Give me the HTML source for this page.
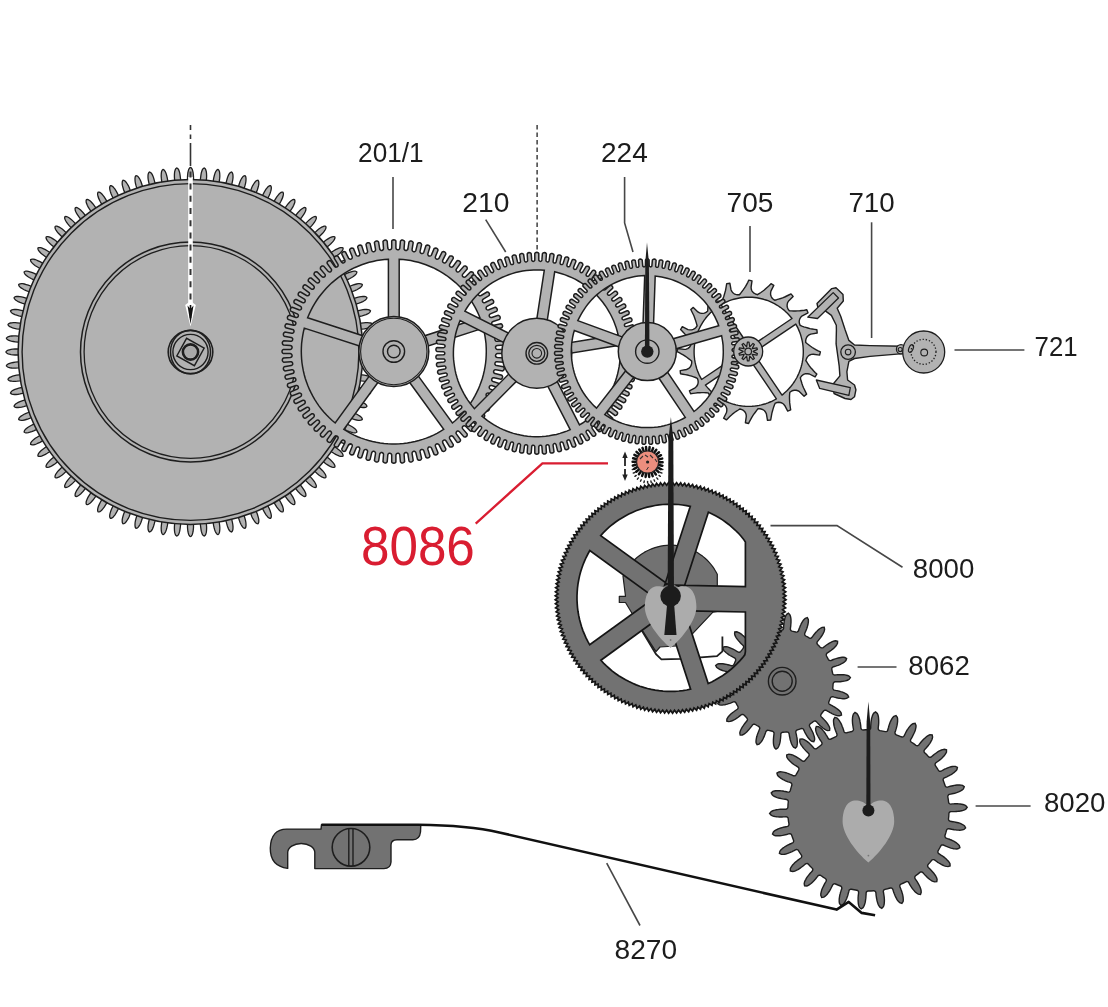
<!DOCTYPE html>
<html><head><meta charset="utf-8"><style>
html,body{margin:0;padding:0;background:#fff;width:1108px;height:1007px;overflow:hidden}
svg{display:block}
text{font-family:"Liberation Sans",sans-serif}
svg{will-change:transform}
</style></head><body>
<svg width="1108" height="1007" viewBox="0 0 1108 1007">
<path d="M193.2 184.2 L193.4 181.5 L193.5 178.9 L193.5 176.5 L193.3 174.4 L193.1 172.5 L192.7 170.9 L192.3 169.6 L191.8 168.5 L191.2 167.8 L190.5 167.4 L189.8 167.8 L189.2 168.5 L188.7 169.6 L188.3 170.9 L187.9 172.5 L187.7 174.4 L187.5 176.5 L187.5 178.9 L187.6 181.5 L187.8 184.2Z M180.7 184.5 L180.7 181.7 L180.6 179.2 L180.3 176.8 L180 174.7 L179.7 172.8 L179.2 171.2 L178.7 169.9 L178.1 168.9 L177.4 168.2 L176.7 167.9 L176.1 168.4 L175.5 169.1 L175.1 170.2 L174.7 171.6 L174.5 173.2 L174.4 175.1 L174.4 177.3 L174.6 179.6 L174.9 182.2 L175.3 184.9Z M168.2 185.7 L168 182.9 L167.7 180.4 L167.3 178.1 L166.8 176 L166.3 174.1 L165.7 172.6 L165.1 171.3 L164.4 170.4 L163.7 169.7 L163 169.5 L162.4 169.9 L161.9 170.8 L161.5 171.9 L161.3 173.3 L161.2 174.9 L161.2 176.8 L161.4 178.9 L161.7 181.3 L162.2 183.8 L162.8 186.5Z M155.8 187.8 L155.4 185.1 L154.9 182.6 L154.3 180.3 L153.7 178.2 L153.1 176.4 L152.4 174.9 L151.7 173.7 L150.9 172.8 L150.2 172.3 L149.4 172 L148.8 172.6 L148.4 173.4 L148.1 174.5 L148 175.9 L148 177.6 L148.2 179.5 L148.6 181.6 L149.1 183.9 L149.7 186.4 L150.5 189Z M143.6 190.9 L143 188.2 L142.3 185.7 L141.6 183.5 L140.9 181.5 L140.1 179.7 L139.3 178.3 L138.5 177.1 L137.6 176.3 L136.9 175.8 L136.1 175.6 L135.5 176.2 L135.2 177 L135 178.2 L135 179.6 L135.1 181.3 L135.4 183.1 L135.9 185.2 L136.6 187.5 L137.5 189.9 L138.5 192.5Z M131.7 194.8 L130.9 192.2 L130 189.8 L129.2 187.6 L128.3 185.6 L127.3 184 L126.4 182.6 L125.5 181.5 L124.7 180.7 L123.8 180.3 L123.1 180.2 L122.6 180.8 L122.3 181.7 L122.2 182.8 L122.2 184.2 L122.5 185.9 L123 187.7 L123.6 189.8 L124.5 192 L125.5 194.3 L126.7 196.8Z M120.1 199.7 L119.1 197.1 L118.1 194.7 L117 192.6 L116 190.8 L115 189.2 L113.9 187.9 L113 186.8 L112 186.1 L111.2 185.7 L110.4 185.7 L110 186.3 L109.7 187.2 L109.7 188.4 L109.9 189.8 L110.3 191.4 L110.9 193.2 L111.7 195.2 L112.7 197.3 L113.9 199.6 L115.3 202Z M108.9 205.3 L107.8 202.9 L106.5 200.6 L105.3 198.6 L104.2 196.8 L103 195.3 L101.9 194 L100.8 193.1 L99.9 192.4 L99 192.1 L98.2 192.1 L97.8 192.8 L97.6 193.7 L97.7 194.9 L98 196.3 L98.5 197.9 L99.3 199.6 L100.2 201.5 L101.4 203.6 L102.7 205.8 L104.3 208Z M98.2 211.9 L96.8 209.5 L95.5 207.3 L94.1 205.4 L92.8 203.7 L91.5 202.2 L90.3 201.1 L89.2 200.2 L88.2 199.7 L87.3 199.4 L86.5 199.5 L86.2 200.2 L86.1 201.1 L86.2 202.3 L86.6 203.6 L87.3 205.2 L88.1 206.9 L89.2 208.7 L90.5 210.7 L92 212.7 L93.8 214.9Z M88 219.1 L86.4 216.9 L84.9 214.8 L83.4 213 L82 211.4 L80.6 210.1 L79.3 209 L78.2 208.2 L77.1 207.7 L76.2 207.5 L75.4 207.7 L75.1 208.4 L75.1 209.3 L75.3 210.5 L75.8 211.8 L76.6 213.3 L77.6 214.9 L78.8 216.7 L80.2 218.5 L81.9 220.5 L83.8 222.5Z M78.4 227.2 L76.6 225 L75 223.1 L73.3 221.4 L71.8 219.9 L70.3 218.7 L69 217.7 L67.7 217 L66.6 216.6 L65.7 216.5 L64.9 216.7 L64.7 217.4 L64.7 218.4 L65.1 219.5 L65.7 220.8 L66.5 222.2 L67.6 223.7 L69 225.4 L70.6 227.1 L72.4 229 L74.4 230.8Z M69.3 235.9 L67.5 233.9 L65.6 232.1 L63.9 230.5 L62.2 229.1 L60.7 228 L59.3 227.2 L58 226.6 L56.9 226.2 L55.9 226.2 L55.2 226.4 L55 227.2 L55.1 228.1 L55.5 229.2 L56.2 230.5 L57.2 231.8 L58.4 233.3 L59.9 234.8 L61.6 236.5 L63.5 238.1 L65.7 239.9Z M61 245.3 L59 243.4 L57 241.7 L55.2 240.3 L53.4 239.1 L51.8 238.1 L50.3 237.3 L49 236.8 L47.8 236.6 L46.9 236.6 L46.2 236.9 L46 237.7 L46.2 238.6 L46.7 239.7 L47.5 240.8 L48.6 242.1 L49.9 243.5 L51.5 244.9 L53.3 246.4 L55.4 247.9 L57.6 249.5Z M53.4 255.3 L51.2 253.5 L49.2 252 L47.2 250.7 L45.4 249.6 L43.7 248.8 L42.1 248.1 L40.8 247.7 L39.6 247.6 L38.7 247.7 L38 248 L37.9 248.8 L38.2 249.7 L38.7 250.7 L39.6 251.8 L40.7 253 L42.2 254.3 L43.9 255.6 L45.8 257 L48 258.3 L50.4 259.7Z M46.5 265.8 L44.3 264.2 L42.1 262.9 L40 261.7 L38.1 260.8 L36.4 260 L34.8 259.5 L33.4 259.2 L32.2 259.1 L31.3 259.3 L30.6 259.7 L30.6 260.5 L30.9 261.4 L31.6 262.3 L32.5 263.4 L33.8 264.5 L35.3 265.7 L37.1 266.8 L39.1 268 L41.4 269.3 L43.8 270.4Z M40.5 276.8 L38.1 275.4 L35.8 274.2 L33.7 273.2 L31.7 272.4 L29.9 271.8 L28.3 271.4 L26.9 271.2 L25.7 271.2 L24.8 271.5 L24.2 271.9 L24.2 272.7 L24.6 273.5 L25.3 274.5 L26.4 275.4 L27.7 276.5 L29.3 277.5 L31.1 278.5 L33.2 279.6 L35.6 280.6 L38.2 281.6Z M35.3 288.2 L32.8 287 L30.5 286 L28.3 285.1 L26.2 284.5 L24.4 284 L22.7 283.7 L21.3 283.7 L20.2 283.8 L19.3 284.1 L18.7 284.6 L18.8 285.3 L19.2 286.2 L20 287 L21.1 287.9 L22.5 288.8 L24.1 289.8 L26.1 290.7 L28.3 291.5 L30.7 292.4 L33.3 293.2Z M31 300 L28.4 299 L26 298.1 L23.7 297.4 L21.6 296.9 L19.8 296.6 L18.1 296.5 L16.7 296.5 L15.5 296.7 L14.7 297 L14.1 297.6 L14.3 298.4 L14.8 299.1 L15.6 300 L16.8 300.8 L18.2 301.6 L20 302.4 L22 303.1 L24.2 303.8 L26.7 304.5 L29.4 305.1Z M27.5 312 L24.9 311.2 L22.4 310.6 L20.1 310.1 L18 309.7 L16.1 309.5 L14.4 309.5 L13 309.6 L11.9 309.9 L11.1 310.3 L10.5 310.9 L10.8 311.7 L11.3 312.4 L12.2 313.2 L13.4 313.9 L14.9 314.6 L16.7 315.2 L18.8 315.8 L21.1 316.4 L23.6 316.9 L26.3 317.3Z M25 324.3 L22.3 323.7 L19.8 323.2 L17.4 322.9 L15.3 322.7 L13.4 322.7 L11.8 322.8 L10.4 323 L9.3 323.4 L8.4 323.9 L8 324.5 L8.2 325.2 L8.9 325.9 L9.8 326.6 L11.1 327.2 L12.6 327.8 L14.5 328.3 L16.6 328.8 L18.9 329.2 L21.4 329.5 L24.2 329.7Z M23.4 336.8 L20.7 336.4 L18.1 336.1 L15.8 335.9 L13.6 335.9 L11.7 336 L10.1 336.2 L8.7 336.6 L7.6 337 L6.9 337.6 L6.4 338.2 L6.7 338.9 L7.4 339.6 L8.4 340.2 L9.7 340.7 L11.3 341.2 L13.2 341.5 L15.3 341.8 L17.7 342.1 L20.2 342.2 L23 342.2Z M22.7 349.3 L20 349.1 L17.4 349 L15 349 L12.9 349.2 L11 349.4 L9.4 349.8 L8.1 350.2 L7 350.7 L6.3 351.3 L5.9 352 L6.3 352.7 L7 353.3 L8.1 353.8 L9.4 354.2 L11 354.6 L12.9 354.8 L15 355 L17.4 355 L20 354.9 L22.7 354.7Z M23 361.8 L20.2 361.8 L17.7 361.9 L15.3 362.2 L13.2 362.5 L11.3 362.8 L9.7 363.3 L8.4 363.8 L7.4 364.4 L6.7 365.1 L6.4 365.8 L6.9 366.4 L7.6 367 L8.7 367.4 L10.1 367.8 L11.7 368 L13.6 368.1 L15.8 368.1 L18.1 367.9 L20.7 367.6 L23.4 367.2Z M24.2 374.3 L21.4 374.5 L18.9 374.8 L16.6 375.2 L14.5 375.7 L12.6 376.2 L11.1 376.8 L9.8 377.4 L8.9 378.1 L8.2 378.8 L8 379.5 L8.4 380.1 L9.3 380.6 L10.4 381 L11.8 381.2 L13.4 381.3 L15.3 381.3 L17.4 381.1 L19.8 380.8 L22.3 380.3 L25 379.7Z M26.3 386.7 L23.6 387.1 L21.1 387.6 L18.8 388.2 L16.7 388.8 L14.9 389.4 L13.4 390.1 L12.2 390.8 L11.3 391.6 L10.8 392.3 L10.5 393.1 L11.1 393.7 L11.9 394.1 L13 394.4 L14.4 394.5 L16.1 394.5 L18 394.3 L20.1 393.9 L22.4 393.4 L24.9 392.8 L27.5 392Z M29.4 398.9 L26.7 399.5 L24.2 400.2 L22 400.9 L20 401.6 L18.2 402.4 L16.8 403.2 L15.6 404 L14.8 404.9 L14.3 405.6 L14.1 406.4 L14.7 407 L15.5 407.3 L16.7 407.5 L18.1 407.5 L19.8 407.4 L21.6 407.1 L23.7 406.6 L26 405.9 L28.4 405 L31 404Z M33.3 410.8 L30.7 411.6 L28.3 412.5 L26.1 413.3 L24.1 414.2 L22.5 415.2 L21.1 416.1 L20 417 L19.2 417.8 L18.8 418.7 L18.7 419.4 L19.3 419.9 L20.2 420.2 L21.3 420.3 L22.7 420.3 L24.4 420 L26.2 419.5 L28.3 418.9 L30.5 418 L32.8 417 L35.3 415.8Z M38.2 422.4 L35.6 423.4 L33.2 424.4 L31.1 425.5 L29.3 426.5 L27.7 427.5 L26.4 428.6 L25.3 429.5 L24.6 430.5 L24.2 431.3 L24.2 432.1 L24.8 432.5 L25.7 432.8 L26.9 432.8 L28.3 432.6 L29.9 432.2 L31.7 431.6 L33.7 430.8 L35.8 429.8 L38.1 428.6 L40.5 427.2Z M43.8 433.6 L41.4 434.7 L39.1 436 L37.1 437.2 L35.3 438.3 L33.8 439.5 L32.5 440.6 L31.6 441.7 L30.9 442.6 L30.6 443.5 L30.6 444.3 L31.3 444.7 L32.2 444.9 L33.4 444.8 L34.8 444.5 L36.4 444 L38.1 443.2 L40 442.3 L42.1 441.1 L44.3 439.8 L46.5 438.2Z M50.4 444.3 L48 445.7 L45.8 447 L43.9 448.4 L42.2 449.7 L40.7 451 L39.6 452.2 L38.7 453.3 L38.2 454.3 L37.9 455.2 L38 456 L38.7 456.3 L39.6 456.4 L40.8 456.3 L42.1 455.9 L43.7 455.2 L45.4 454.4 L47.2 453.3 L49.2 452 L51.2 450.5 L53.4 448.7Z M57.6 454.5 L55.4 456.1 L53.3 457.6 L51.5 459.1 L49.9 460.5 L48.6 461.9 L47.5 463.2 L46.7 464.3 L46.2 465.4 L46 466.3 L46.2 467.1 L46.9 467.4 L47.8 467.4 L49 467.2 L50.3 466.7 L51.8 465.9 L53.4 464.9 L55.2 463.7 L57 462.3 L59 460.6 L61 458.7Z M65.7 464.1 L63.5 465.9 L61.6 467.5 L59.9 469.2 L58.4 470.7 L57.2 472.2 L56.2 473.5 L55.5 474.8 L55.1 475.9 L55 476.8 L55.2 477.6 L55.9 477.8 L56.9 477.8 L58 477.4 L59.3 476.8 L60.7 476 L62.2 474.9 L63.9 473.5 L65.6 471.9 L67.5 470.1 L69.3 468.1Z M74.4 473.2 L72.4 475 L70.6 476.9 L69 478.6 L67.6 480.3 L66.5 481.8 L65.7 483.2 L65.1 484.5 L64.7 485.6 L64.7 486.6 L64.9 487.3 L65.7 487.5 L66.6 487.4 L67.7 487 L69 486.3 L70.3 485.3 L71.8 484.1 L73.3 482.6 L75 480.9 L76.6 479 L78.4 476.8Z M83.8 481.5 L81.9 483.5 L80.2 485.5 L78.8 487.3 L77.6 489.1 L76.6 490.7 L75.8 492.2 L75.3 493.5 L75.1 494.7 L75.1 495.6 L75.4 496.3 L76.2 496.5 L77.1 496.3 L78.2 495.8 L79.3 495 L80.6 493.9 L82 492.6 L83.4 491 L84.9 489.2 L86.4 487.1 L88 484.9Z M93.8 489.1 L92 491.3 L90.5 493.3 L89.2 495.3 L88.1 497.1 L87.3 498.8 L86.6 500.4 L86.2 501.7 L86.1 502.9 L86.2 503.8 L86.5 504.5 L87.3 504.6 L88.2 504.3 L89.2 503.8 L90.3 502.9 L91.5 501.8 L92.8 500.3 L94.1 498.6 L95.5 496.7 L96.8 494.5 L98.2 492.1Z M104.3 496 L102.7 498.2 L101.4 500.4 L100.2 502.5 L99.3 504.4 L98.5 506.1 L98 507.7 L97.7 509.1 L97.6 510.3 L97.8 511.2 L98.2 511.9 L99 511.9 L99.9 511.6 L100.8 510.9 L101.9 510 L103 508.7 L104.2 507.2 L105.3 505.4 L106.5 503.4 L107.8 501.1 L108.9 498.7Z M115.3 502 L113.9 504.4 L112.7 506.7 L111.7 508.8 L110.9 510.8 L110.3 512.6 L109.9 514.2 L109.7 515.6 L109.7 516.8 L110 517.7 L110.4 518.3 L111.2 518.3 L112 517.9 L113 517.2 L113.9 516.1 L115 514.8 L116 513.2 L117 511.4 L118.1 509.3 L119.1 506.9 L120.1 504.3Z M126.7 507.2 L125.5 509.7 L124.5 512 L123.6 514.2 L123 516.3 L122.5 518.1 L122.2 519.8 L122.2 521.2 L122.3 522.3 L122.6 523.2 L123.1 523.8 L123.8 523.7 L124.7 523.3 L125.5 522.5 L126.4 521.4 L127.3 520 L128.3 518.4 L129.2 516.4 L130 514.2 L130.9 511.8 L131.7 509.2Z M138.5 511.5 L137.5 514.1 L136.6 516.5 L135.9 518.8 L135.4 520.9 L135.1 522.7 L135 524.4 L135 525.8 L135.2 527 L135.5 527.8 L136.1 528.4 L136.9 528.2 L137.6 527.7 L138.5 526.9 L139.3 525.7 L140.1 524.3 L140.9 522.5 L141.6 520.5 L142.3 518.3 L143 515.8 L143.6 513.1Z M150.5 515 L149.7 517.6 L149.1 520.1 L148.6 522.4 L148.2 524.5 L148 526.4 L148 528.1 L148.1 529.5 L148.4 530.6 L148.8 531.4 L149.4 532 L150.2 531.7 L150.9 531.2 L151.7 530.3 L152.4 529.1 L153.1 527.6 L153.7 525.8 L154.3 523.7 L154.9 521.4 L155.4 518.9 L155.8 516.2Z M162.8 517.5 L162.2 520.2 L161.7 522.7 L161.4 525.1 L161.2 527.2 L161.2 529.1 L161.3 530.7 L161.5 532.1 L161.9 533.2 L162.4 534.1 L163 534.5 L163.7 534.3 L164.4 533.6 L165.1 532.7 L165.7 531.4 L166.3 529.9 L166.8 528 L167.3 525.9 L167.7 523.6 L168 521.1 L168.2 518.3Z M175.3 519.1 L174.9 521.8 L174.6 524.4 L174.4 526.7 L174.4 528.9 L174.5 530.8 L174.7 532.4 L175.1 533.8 L175.5 534.9 L176.1 535.6 L176.7 536.1 L177.4 535.8 L178.1 535.1 L178.7 534.1 L179.2 532.8 L179.7 531.2 L180 529.3 L180.3 527.2 L180.6 524.8 L180.7 522.3 L180.7 519.5Z M187.8 519.8 L187.6 522.5 L187.5 525.1 L187.5 527.5 L187.7 529.6 L187.9 531.5 L188.3 533.1 L188.7 534.4 L189.2 535.5 L189.8 536.2 L190.5 536.6 L191.2 536.2 L191.8 535.5 L192.3 534.4 L192.7 533.1 L193.1 531.5 L193.3 529.6 L193.5 527.5 L193.5 525.1 L193.4 522.5 L193.2 519.8Z M200.3 519.5 L200.3 522.3 L200.4 524.8 L200.7 527.2 L201 529.3 L201.3 531.2 L201.8 532.8 L202.3 534.1 L202.9 535.1 L203.6 535.8 L204.3 536.1 L204.9 535.6 L205.5 534.9 L205.9 533.8 L206.3 532.4 L206.5 530.8 L206.6 528.9 L206.6 526.7 L206.4 524.4 L206.1 521.8 L205.7 519.1Z M212.8 518.3 L213 521.1 L213.3 523.6 L213.7 525.9 L214.2 528 L214.7 529.9 L215.3 531.4 L215.9 532.7 L216.6 533.6 L217.3 534.3 L218 534.5 L218.6 534.1 L219.1 533.2 L219.5 532.1 L219.7 530.7 L219.8 529.1 L219.8 527.2 L219.6 525.1 L219.3 522.7 L218.8 520.2 L218.2 517.5Z M225.2 516.2 L225.6 518.9 L226.1 521.4 L226.7 523.7 L227.3 525.8 L227.9 527.6 L228.6 529.1 L229.3 530.3 L230.1 531.2 L230.8 531.7 L231.6 532 L232.2 531.4 L232.6 530.6 L232.9 529.5 L233 528.1 L233 526.4 L232.8 524.5 L232.4 522.4 L231.9 520.1 L231.3 517.6 L230.5 515Z M237.4 513.1 L238 515.8 L238.7 518.3 L239.4 520.5 L240.1 522.5 L240.9 524.3 L241.7 525.7 L242.5 526.9 L243.4 527.7 L244.1 528.2 L244.9 528.4 L245.5 527.8 L245.8 527 L246 525.8 L246 524.4 L245.9 522.7 L245.6 520.9 L245.1 518.8 L244.4 516.5 L243.5 514.1 L242.5 511.5Z M249.3 509.2 L250.1 511.8 L251 514.2 L251.8 516.4 L252.7 518.4 L253.7 520 L254.6 521.4 L255.5 522.5 L256.3 523.3 L257.2 523.7 L257.9 523.8 L258.4 523.2 L258.7 522.3 L258.8 521.2 L258.8 519.8 L258.5 518.1 L258 516.3 L257.4 514.2 L256.5 512 L255.5 509.7 L254.3 507.2Z M260.9 504.3 L261.9 506.9 L262.9 509.3 L264 511.4 L265 513.2 L266 514.8 L267.1 516.1 L268 517.2 L269 517.9 L269.8 518.3 L270.6 518.3 L271 517.7 L271.3 516.8 L271.3 515.6 L271.1 514.2 L270.7 512.6 L270.1 510.8 L269.3 508.8 L268.3 506.7 L267.1 504.4 L265.7 502Z M272.1 498.7 L273.2 501.1 L274.5 503.4 L275.7 505.4 L276.8 507.2 L278 508.7 L279.1 510 L280.2 510.9 L281.1 511.6 L282 511.9 L282.8 511.9 L283.2 511.2 L283.4 510.3 L283.3 509.1 L283 507.7 L282.5 506.1 L281.7 504.4 L280.8 502.5 L279.6 500.4 L278.3 498.2 L276.7 496Z M282.8 492.1 L284.2 494.5 L285.5 496.7 L286.9 498.6 L288.2 500.3 L289.5 501.8 L290.7 502.9 L291.8 503.8 L292.8 504.3 L293.7 504.6 L294.5 504.5 L294.8 503.8 L294.9 502.9 L294.8 501.7 L294.4 500.4 L293.7 498.8 L292.9 497.1 L291.8 495.3 L290.5 493.3 L289 491.3 L287.2 489.1Z M293 484.9 L294.6 487.1 L296.1 489.2 L297.6 491 L299 492.6 L300.4 493.9 L301.7 495 L302.8 495.8 L303.9 496.3 L304.8 496.5 L305.6 496.3 L305.9 495.6 L305.9 494.7 L305.7 493.5 L305.2 492.2 L304.4 490.7 L303.4 489.1 L302.2 487.3 L300.8 485.5 L299.1 483.5 L297.2 481.5Z M302.6 476.8 L304.4 479 L306 480.9 L307.7 482.6 L309.2 484.1 L310.7 485.3 L312 486.3 L313.3 487 L314.4 487.4 L315.3 487.5 L316.1 487.3 L316.3 486.6 L316.3 485.6 L315.9 484.5 L315.3 483.2 L314.5 481.8 L313.4 480.3 L312 478.6 L310.4 476.9 L308.6 475 L306.6 473.2Z M311.7 468.1 L313.5 470.1 L315.4 471.9 L317.1 473.5 L318.8 474.9 L320.3 476 L321.7 476.8 L323 477.4 L324.1 477.8 L325.1 477.8 L325.8 477.6 L326 476.8 L325.9 475.9 L325.5 474.8 L324.8 473.5 L323.8 472.2 L322.6 470.7 L321.1 469.2 L319.4 467.5 L317.5 465.9 L315.3 464.1Z M320 458.7 L322 460.6 L324 462.3 L325.8 463.7 L327.6 464.9 L329.2 465.9 L330.7 466.7 L332 467.2 L333.2 467.4 L334.1 467.4 L334.8 467.1 L335 466.3 L334.8 465.4 L334.3 464.3 L333.5 463.2 L332.4 461.9 L331.1 460.5 L329.5 459.1 L327.7 457.6 L325.6 456.1 L323.4 454.5Z M327.6 448.7 L329.8 450.5 L331.8 452 L333.8 453.3 L335.6 454.4 L337.3 455.2 L338.9 455.9 L340.2 456.3 L341.4 456.4 L342.3 456.3 L343 456 L343.1 455.2 L342.8 454.3 L342.3 453.3 L341.4 452.2 L340.3 451 L338.8 449.7 L337.1 448.4 L335.2 447 L333 445.7 L330.6 444.3Z M334.5 438.2 L336.7 439.8 L338.9 441.1 L341 442.3 L342.9 443.2 L344.6 444 L346.2 444.5 L347.6 444.8 L348.8 444.9 L349.7 444.7 L350.4 444.3 L350.4 443.5 L350.1 442.6 L349.4 441.7 L348.5 440.6 L347.2 439.5 L345.7 438.3 L343.9 437.2 L341.9 436 L339.6 434.7 L337.2 433.6Z M340.5 427.2 L342.9 428.6 L345.2 429.8 L347.3 430.8 L349.3 431.6 L351.1 432.2 L352.7 432.6 L354.1 432.8 L355.3 432.8 L356.2 432.5 L356.8 432.1 L356.8 431.3 L356.4 430.5 L355.7 429.5 L354.6 428.6 L353.3 427.5 L351.7 426.5 L349.9 425.5 L347.8 424.4 L345.4 423.4 L342.8 422.4Z M345.7 415.8 L348.2 417 L350.5 418 L352.7 418.9 L354.8 419.5 L356.6 420 L358.3 420.3 L359.7 420.3 L360.8 420.2 L361.7 419.9 L362.3 419.4 L362.2 418.7 L361.8 417.8 L361 417 L359.9 416.1 L358.5 415.2 L356.9 414.2 L354.9 413.3 L352.7 412.5 L350.3 411.6 L347.7 410.8Z M350 404 L352.6 405 L355 405.9 L357.3 406.6 L359.4 407.1 L361.2 407.4 L362.9 407.5 L364.3 407.5 L365.5 407.3 L366.3 407 L366.9 406.4 L366.7 405.6 L366.2 404.9 L365.4 404 L364.2 403.2 L362.8 402.4 L361 401.6 L359 400.9 L356.8 400.2 L354.3 399.5 L351.6 398.9Z M353.5 392 L356.1 392.8 L358.6 393.4 L360.9 393.9 L363 394.3 L364.9 394.5 L366.6 394.5 L368 394.4 L369.1 394.1 L369.9 393.7 L370.5 393.1 L370.2 392.3 L369.7 391.6 L368.8 390.8 L367.6 390.1 L366.1 389.4 L364.3 388.8 L362.2 388.2 L359.9 387.6 L357.4 387.1 L354.7 386.7Z M356 379.7 L358.7 380.3 L361.2 380.8 L363.6 381.1 L365.7 381.3 L367.6 381.3 L369.2 381.2 L370.6 381 L371.7 380.6 L372.6 380.1 L373 379.5 L372.8 378.8 L372.1 378.1 L371.2 377.4 L369.9 376.8 L368.4 376.2 L366.5 375.7 L364.4 375.2 L362.1 374.8 L359.6 374.5 L356.8 374.3Z M357.6 367.2 L360.3 367.6 L362.9 367.9 L365.2 368.1 L367.4 368.1 L369.3 368 L370.9 367.8 L372.3 367.4 L373.4 367 L374.1 366.4 L374.6 365.8 L374.3 365.1 L373.6 364.4 L372.6 363.8 L371.3 363.3 L369.7 362.8 L367.8 362.5 L365.7 362.2 L363.3 361.9 L360.8 361.8 L358 361.8Z M358.3 354.7 L361 354.9 L363.6 355 L366 355 L368.1 354.8 L370 354.6 L371.6 354.2 L372.9 353.8 L374 353.3 L374.7 352.7 L375.1 352 L374.7 351.3 L374 350.7 L372.9 350.2 L371.6 349.8 L370 349.4 L368.1 349.2 L366 349 L363.6 349 L361 349.1 L358.3 349.3Z M358 342.2 L360.8 342.2 L363.3 342.1 L365.7 341.8 L367.8 341.5 L369.7 341.2 L371.3 340.7 L372.6 340.2 L373.6 339.6 L374.3 338.9 L374.6 338.2 L374.1 337.6 L373.4 337 L372.3 336.6 L370.9 336.2 L369.3 336 L367.4 335.9 L365.2 335.9 L362.9 336.1 L360.3 336.4 L357.6 336.8Z M356.8 329.7 L359.6 329.5 L362.1 329.2 L364.4 328.8 L366.5 328.3 L368.4 327.8 L369.9 327.2 L371.2 326.6 L372.1 325.9 L372.8 325.2 L373 324.5 L372.6 323.9 L371.7 323.4 L370.6 323 L369.2 322.8 L367.6 322.7 L365.7 322.7 L363.6 322.9 L361.2 323.2 L358.7 323.7 L356 324.3Z M354.7 317.3 L357.4 316.9 L359.9 316.4 L362.2 315.8 L364.3 315.2 L366.1 314.6 L367.6 313.9 L368.8 313.2 L369.7 312.4 L370.2 311.7 L370.5 310.9 L369.9 310.3 L369.1 309.9 L368 309.6 L366.6 309.5 L364.9 309.5 L363 309.7 L360.9 310.1 L358.6 310.6 L356.1 311.2 L353.5 312Z M351.6 305.1 L354.3 304.5 L356.8 303.8 L359 303.1 L361 302.4 L362.8 301.6 L364.2 300.8 L365.4 300 L366.2 299.1 L366.7 298.4 L366.9 297.6 L366.3 297 L365.5 296.7 L364.3 296.5 L362.9 296.5 L361.2 296.6 L359.4 296.9 L357.3 297.4 L355 298.1 L352.6 299 L350 300Z M347.7 293.2 L350.3 292.4 L352.7 291.5 L354.9 290.7 L356.9 289.8 L358.5 288.8 L359.9 287.9 L361 287 L361.8 286.2 L362.2 285.3 L362.3 284.6 L361.7 284.1 L360.8 283.8 L359.7 283.7 L358.3 283.7 L356.6 284 L354.8 284.5 L352.7 285.1 L350.5 286 L348.2 287 L345.7 288.2Z M342.8 281.6 L345.4 280.6 L347.8 279.6 L349.9 278.5 L351.7 277.5 L353.3 276.5 L354.6 275.4 L355.7 274.5 L356.4 273.5 L356.8 272.7 L356.8 271.9 L356.2 271.5 L355.3 271.2 L354.1 271.2 L352.7 271.4 L351.1 271.8 L349.3 272.4 L347.3 273.2 L345.2 274.2 L342.9 275.4 L340.5 276.8Z M337.2 270.4 L339.6 269.3 L341.9 268 L343.9 266.8 L345.7 265.7 L347.2 264.5 L348.5 263.4 L349.4 262.3 L350.1 261.4 L350.4 260.5 L350.4 259.7 L349.7 259.3 L348.8 259.1 L347.6 259.2 L346.2 259.5 L344.6 260 L342.9 260.8 L341 261.7 L338.9 262.9 L336.7 264.2 L334.5 265.8Z M330.6 259.7 L333 258.3 L335.2 257 L337.1 255.6 L338.8 254.3 L340.3 253 L341.4 251.8 L342.3 250.7 L342.8 249.7 L343.1 248.8 L343 248 L342.3 247.7 L341.4 247.6 L340.2 247.7 L338.9 248.1 L337.3 248.8 L335.6 249.6 L333.8 250.7 L331.8 252 L329.8 253.5 L327.6 255.3Z M323.4 249.5 L325.6 247.9 L327.7 246.4 L329.5 244.9 L331.1 243.5 L332.4 242.1 L333.5 240.8 L334.3 239.7 L334.8 238.6 L335 237.7 L334.8 236.9 L334.1 236.6 L333.2 236.6 L332 236.8 L330.7 237.3 L329.2 238.1 L327.6 239.1 L325.8 240.3 L324 241.7 L322 243.4 L320 245.3Z M315.3 239.9 L317.5 238.1 L319.4 236.5 L321.1 234.8 L322.6 233.3 L323.8 231.8 L324.8 230.5 L325.5 229.2 L325.9 228.1 L326 227.2 L325.8 226.4 L325.1 226.2 L324.1 226.2 L323 226.6 L321.7 227.2 L320.3 228 L318.8 229.1 L317.1 230.5 L315.4 232.1 L313.5 233.9 L311.7 235.9Z M306.6 230.8 L308.6 229 L310.4 227.1 L312 225.4 L313.4 223.7 L314.5 222.2 L315.3 220.8 L315.9 219.5 L316.3 218.4 L316.3 217.4 L316.1 216.7 L315.3 216.5 L314.4 216.6 L313.3 217 L312 217.7 L310.7 218.7 L309.2 219.9 L307.7 221.4 L306 223.1 L304.4 225 L302.6 227.2Z M297.2 222.5 L299.1 220.5 L300.8 218.5 L302.2 216.7 L303.4 214.9 L304.4 213.3 L305.2 211.8 L305.7 210.5 L305.9 209.3 L305.9 208.4 L305.6 207.7 L304.8 207.5 L303.9 207.7 L302.8 208.2 L301.7 209 L300.4 210.1 L299 211.4 L297.6 213 L296.1 214.8 L294.6 216.9 L293 219.1Z M287.2 214.9 L289 212.7 L290.5 210.7 L291.8 208.7 L292.9 206.9 L293.7 205.2 L294.4 203.6 L294.8 202.3 L294.9 201.1 L294.8 200.2 L294.5 199.5 L293.7 199.4 L292.8 199.7 L291.8 200.2 L290.7 201.1 L289.5 202.2 L288.2 203.7 L286.9 205.4 L285.5 207.3 L284.2 209.5 L282.8 211.9Z M276.7 208 L278.3 205.8 L279.6 203.6 L280.8 201.5 L281.7 199.6 L282.5 197.9 L283 196.3 L283.3 194.9 L283.4 193.7 L283.2 192.8 L282.8 192.1 L282 192.1 L281.1 192.4 L280.2 193.1 L279.1 194 L278 195.3 L276.8 196.8 L275.7 198.6 L274.5 200.6 L273.2 202.9 L272.1 205.3Z M265.7 202 L267.1 199.6 L268.3 197.3 L269.3 195.2 L270.1 193.2 L270.7 191.4 L271.1 189.8 L271.3 188.4 L271.3 187.2 L271 186.3 L270.6 185.7 L269.8 185.7 L269 186.1 L268 186.8 L267.1 187.9 L266 189.2 L265 190.8 L264 192.6 L262.9 194.7 L261.9 197.1 L260.9 199.7Z M254.3 196.8 L255.5 194.3 L256.5 192 L257.4 189.8 L258 187.7 L258.5 185.9 L258.8 184.2 L258.8 182.8 L258.7 181.7 L258.4 180.8 L257.9 180.2 L257.2 180.3 L256.3 180.7 L255.5 181.5 L254.6 182.6 L253.7 184 L252.7 185.6 L251.8 187.6 L251 189.8 L250.1 192.2 L249.3 194.8Z M242.5 192.5 L243.5 189.9 L244.4 187.5 L245.1 185.2 L245.6 183.1 L245.9 181.3 L246 179.6 L246 178.2 L245.8 177 L245.5 176.2 L244.9 175.6 L244.1 175.8 L243.4 176.3 L242.5 177.1 L241.7 178.3 L240.9 179.7 L240.1 181.5 L239.4 183.5 L238.7 185.7 L238 188.2 L237.4 190.9Z M230.5 189 L231.3 186.4 L231.9 183.9 L232.4 181.6 L232.8 179.5 L233 177.6 L233 175.9 L232.9 174.5 L232.6 173.4 L232.2 172.6 L231.6 172 L230.8 172.3 L230.1 172.8 L229.3 173.7 L228.6 174.9 L227.9 176.4 L227.3 178.2 L226.7 180.3 L226.1 182.6 L225.6 185.1 L225.2 187.8Z M218.2 186.5 L218.8 183.8 L219.3 181.3 L219.6 178.9 L219.8 176.8 L219.8 174.9 L219.7 173.3 L219.5 171.9 L219.1 170.8 L218.6 169.9 L218 169.5 L217.3 169.7 L216.6 170.4 L215.9 171.3 L215.3 172.6 L214.7 174.1 L214.2 176 L213.7 178.1 L213.3 180.4 L213 182.9 L212.8 185.7Z M205.7 184.9 L206.1 182.2 L206.4 179.6 L206.6 177.3 L206.6 175.1 L206.5 173.2 L206.3 171.6 L205.9 170.2 L205.5 169.1 L204.9 168.4 L204.3 167.9 L203.6 168.2 L202.9 168.9 L202.3 169.9 L201.8 171.2 L201.3 172.8 L201 174.7 L200.7 176.8 L200.4 179.2 L200.3 181.7 L200.3 184.5Z" fill="#b2b2b2" stroke="#1e1e1e" stroke-width="1.3"/>
<circle cx="190.5" cy="352" r="172.4" fill="#b2b2b2" stroke="#1e1e1e" stroke-width="1.5" />
<circle cx="190.5" cy="352" r="168.4" fill="none" stroke="#1e1e1e" stroke-width="1.4" />
<circle cx="190.5" cy="352" r="110" fill="none" stroke="#1e1e1e" stroke-width="1.5" />
<circle cx="190.5" cy="352" r="106.4" fill="none" stroke="#1e1e1e" stroke-width="1.3" />
<ellipse cx="190.5" cy="352" rx="22.3" ry="21.6" fill="none" stroke="#1e1e1e" stroke-width="1.6"/>
<ellipse cx="190.5" cy="352" rx="20" ry="21.8" fill="none" stroke="#1e1e1e" stroke-width="1.5"/>
<circle cx="190.5" cy="352" r="17.6" fill="none" stroke="#1e1e1e" stroke-width="1.4" />
<path d="M204.2 348.1 L186.6 338.3 L176.8 355.9 L194.4 365.7Z" fill="none" stroke="#1e1e1e" stroke-width="1.4"/>
<circle cx="190.5" cy="352" r="7.6" fill="none" stroke="#1e1e1e" stroke-width="2.6" />
<circle cx="190.5" cy="352" r="5.6" fill="#a9a9a9" stroke="none" stroke-width="0" />
<line x1="190.5" y1="177" x2="190.5" y2="312" stroke="#fff" stroke-width="4.6"/>
<path d="M190.5 301 L185.2 305 L190.5 326.5 L195.8 305Z" fill="#fff"/>
<path d="M190.5 125 V130 M190.5 134.5 V139 M190.5 143 V166" stroke="#333" stroke-width="1.6"/>
<line x1="190.5" y1="171.4" x2="190.5" y2="300" stroke="#333" stroke-width="2" stroke-dasharray="6 6.2"/>
<path d="M190.5 324 L187.5 305.5 L190.5 309 L193.5 305.5Z" fill="#111"/>
<line x1="190.5" y1="305" x2="190.5" y2="318" stroke="#111" stroke-width="1.6"/>
<path d="M397.8 249.8 L397.1 249.6 L396.5 249.2 L396.1 248.6 L395.9 247.8 L395.9 241 L395.4 240.3 L394.7 239.9 L393.8 239.7 L392.9 239.9 L392.2 240.3 L391.7 241 L391.7 247.8 L391.5 248.6 L391.1 249.2 L390.5 249.6 L389.8 249.8 L389.1 249.7 L388.4 249.3 L388 248.7 L387.8 248 L387.2 241.2 L386.7 240.5 L385.9 240.1 L385 240 L384.2 240.3 L383.5 240.8 L383 241.5 L383.5 248.3 L383.5 249 L383.1 249.7 L382.5 250.2 L381.8 250.4 L381.1 250.4 L380.4 250 L379.9 249.5 L379.7 248.8 L378.6 242 L378 241.4 L377.2 241.1 L376.3 241.1 L375.5 241.4 L374.8 241.9 L374.4 242.7 L375.5 249.4 L375.5 250.2 L375.2 250.9 L374.6 251.4 L373.9 251.7 L373.2 251.7 L372.5 251.4 L372 250.9 L371.7 250.2 L370.1 243.6 L369.4 243 L368.6 242.7 L367.7 242.8 L366.9 243.2 L366.3 243.8 L366 244.6 L367.5 251.2 L367.6 251.9 L367.3 252.6 L366.8 253.2 L366.2 253.5 L365.4 253.6 L364.7 253.4 L364.1 252.9 L363.8 252.2 L361.7 245.8 L361 245.3 L360.1 245.1 L359.3 245.2 L358.5 245.6 L357.9 246.3 L357.7 247.1 L359.7 253.6 L359.8 254.3 L359.6 255 L359.2 255.6 L358.6 256 L357.8 256.1 L357.1 255.9 L356.5 255.5 L356.1 254.9 L353.5 248.6 L352.8 248.2 L351.9 248 L351 248.2 L350.3 248.7 L349.8 249.4 L349.6 250.2 L352.1 256.5 L352.3 257.3 L352.2 258 L351.8 258.6 L351.2 259.1 L350.5 259.2 L349.7 259.1 L349.1 258.7 L348.6 258.2 L345.5 252.1 L344.8 251.7 L343.9 251.6 L343 251.9 L342.3 252.4 L341.9 253.2 L341.8 254 L344.8 260.1 L345 260.8 L345 261.5 L344.6 262.2 L344.1 262.7 L343.4 262.9 L342.6 262.9 L341.9 262.5 L341.5 262 L337.9 256.2 L337.1 255.9 L336.2 255.9 L335.4 256.2 L334.7 256.8 L334.3 257.6 L334.3 258.4 L337.8 264.2 L338.1 264.9 L338.1 265.7 L337.8 266.3 L337.2 266.9 L336.6 267.1 L335.8 267.2 L335.1 266.9 L334.6 266.4 L330.6 260.9 L329.8 260.6 L328.9 260.7 L328.1 261.1 L327.5 261.7 L327.1 262.5 L327.2 263.4 L331.1 268.9 L331.5 269.5 L331.5 270.3 L331.3 271 L330.8 271.6 L330.1 271.9 L329.4 272 L328.7 271.7 L328.1 271.3 L323.6 266.1 L322.8 265.9 L322 266 L321.2 266.5 L320.6 267.2 L320.4 268 L320.4 268.9 L324.8 274.1 L325.2 274.7 L325.3 275.4 L325.1 276.1 L324.7 276.7 L324.1 277.1 L323.3 277.3 L322.6 277.1 L322 276.7 L317.2 271.9 L316.3 271.7 L315.5 271.9 L314.7 272.4 L314.2 273.2 L314 274 L314.2 274.9 L319 279.7 L319.4 280.3 L319.6 281 L319.4 281.8 L319 282.4 L318.4 282.8 L317.7 283 L317 282.9 L316.4 282.5 L311.2 278.1 L310.3 278.1 L309.5 278.3 L308.8 278.9 L308.3 279.7 L308.2 280.5 L308.4 281.3 L313.6 285.8 L314 286.4 L314.3 287.1 L314.2 287.8 L313.9 288.5 L313.3 289 L312.6 289.2 L311.8 289.2 L311.2 288.8 L305.7 284.9 L304.8 284.8 L304 285.2 L303.4 285.8 L303 286.6 L302.9 287.5 L303.2 288.3 L308.7 292.3 L309.2 292.8 L309.5 293.5 L309.4 294.3 L309.2 294.9 L308.6 295.5 L308 295.8 L307.2 295.8 L306.5 295.5 L300.7 292 L299.9 292 L299.1 292.4 L298.5 293.1 L298.2 293.9 L298.2 294.8 L298.5 295.6 L304.3 299.2 L304.8 299.6 L305.2 300.3 L305.2 301.1 L305 301.8 L304.5 302.3 L303.8 302.7 L303.1 302.7 L302.4 302.5 L296.3 299.5 L295.5 299.6 L294.7 300 L294.2 300.7 L293.9 301.6 L294 302.5 L294.4 303.2 L300.5 306.3 L301 306.8 L301.4 307.4 L301.5 308.2 L301.4 308.9 L300.9 309.5 L300.3 309.9 L299.6 310 L298.8 309.8 L292.5 307.3 L291.7 307.5 L291 308 L290.5 308.7 L290.3 309.6 L290.5 310.5 L290.9 311.2 L297.2 313.8 L297.8 314.2 L298.2 314.8 L298.4 315.5 L298.3 316.3 L297.9 316.9 L297.3 317.3 L296.6 317.5 L295.9 317.4 L289.4 315.4 L288.6 315.6 L287.9 316.2 L287.5 317 L287.4 317.8 L287.6 318.7 L288.1 319.4 L294.5 321.5 L295.2 321.8 L295.7 322.4 L295.9 323.1 L295.8 323.9 L295.5 324.5 L294.9 325 L294.2 325.3 L293.5 325.2 L286.9 323.7 L286.1 324 L285.5 324.6 L285.1 325.4 L285 326.3 L285.3 327.1 L285.9 327.8 L292.5 329.4 L293.2 329.7 L293.7 330.2 L294 330.9 L294 331.6 L293.7 332.3 L293.2 332.9 L292.5 333.2 L291.7 333.2 L285 332.1 L284.2 332.5 L283.7 333.2 L283.4 334 L283.4 334.9 L283.7 335.7 L284.3 336.3 L291.1 337.4 L291.8 337.6 L292.3 338.1 L292.7 338.8 L292.7 339.5 L292.5 340.2 L292 340.8 L291.3 341.2 L290.6 341.2 L283.8 340.7 L283.1 341.2 L282.6 341.9 L282.3 342.7 L282.4 343.6 L282.8 344.4 L283.5 344.9 L290.3 345.5 L291 345.7 L291.6 346.1 L292 346.8 L292.1 347.5 L291.9 348.2 L291.5 348.8 L290.9 349.2 L290.1 349.4 L283.3 349.4 L282.6 349.9 L282.2 350.6 L282 351.5 L282.2 352.4 L282.6 353.1 L283.3 353.6 L290.1 353.6 L290.9 353.8 L291.5 354.2 L291.9 354.8 L292.1 355.5 L292 356.2 L291.6 356.9 L291 357.3 L290.3 357.5 L283.5 358.1 L282.8 358.6 L282.4 359.4 L282.3 360.3 L282.6 361.1 L283.1 361.8 L283.8 362.3 L290.6 361.8 L291.3 361.8 L292 362.2 L292.5 362.8 L292.7 363.5 L292.7 364.2 L292.3 364.9 L291.8 365.4 L291.1 365.6 L284.3 366.7 L283.7 367.3 L283.4 368.1 L283.4 369 L283.7 369.8 L284.2 370.5 L285 370.9 L291.7 369.8 L292.5 369.8 L293.2 370.1 L293.7 370.7 L294 371.4 L294 372.1 L293.7 372.8 L293.2 373.3 L292.5 373.6 L285.9 375.2 L285.3 375.9 L285 376.7 L285.1 377.6 L285.5 378.4 L286.1 379 L286.9 379.3 L293.5 377.8 L294.2 377.7 L294.9 378 L295.5 378.5 L295.8 379.1 L295.9 379.9 L295.7 380.6 L295.2 381.2 L294.5 381.5 L288.1 383.6 L287.6 384.3 L287.4 385.2 L287.5 386 L287.9 386.8 L288.6 387.4 L289.4 387.6 L295.9 385.6 L296.6 385.5 L297.3 385.7 L297.9 386.1 L298.3 386.7 L298.4 387.5 L298.2 388.2 L297.8 388.8 L297.2 389.2 L290.9 391.8 L290.5 392.5 L290.3 393.4 L290.5 394.3 L291 395 L291.7 395.5 L292.5 395.7 L298.8 393.2 L299.6 393 L300.3 393.1 L300.9 393.5 L301.4 394.1 L301.5 394.8 L301.4 395.6 L301 396.2 L300.5 396.7 L294.4 399.8 L294 400.5 L293.9 401.4 L294.2 402.3 L294.7 403 L295.5 403.4 L296.3 403.5 L302.4 400.5 L303.1 400.3 L303.8 400.3 L304.5 400.7 L305 401.2 L305.2 401.9 L305.2 402.7 L304.8 403.4 L304.3 403.8 L298.5 407.4 L298.2 408.2 L298.2 409.1 L298.5 409.9 L299.1 410.6 L299.9 411 L300.7 411 L306.5 407.5 L307.2 407.2 L308 407.2 L308.6 407.5 L309.2 408.1 L309.4 408.7 L309.5 409.5 L309.2 410.2 L308.7 410.7 L303.2 414.7 L302.9 415.5 L303 416.4 L303.4 417.2 L304 417.8 L304.8 418.2 L305.7 418.1 L311.2 414.2 L311.8 413.8 L312.6 413.8 L313.3 414 L313.9 414.5 L314.2 415.2 L314.3 415.9 L314 416.6 L313.6 417.2 L308.4 421.7 L308.2 422.5 L308.3 423.3 L308.8 424.1 L309.5 424.7 L310.3 424.9 L311.2 424.9 L316.4 420.5 L317 420.1 L317.7 420 L318.4 420.2 L319 420.6 L319.4 421.2 L319.6 422 L319.4 422.7 L319 423.3 L314.2 428.1 L314 429 L314.2 429.8 L314.7 430.6 L315.5 431.1 L316.3 431.3 L317.2 431.1 L322 426.3 L322.6 425.9 L323.3 425.7 L324.1 425.9 L324.7 426.3 L325.1 426.9 L325.3 427.6 L325.2 428.3 L324.8 428.9 L320.4 434.1 L320.4 435 L320.6 435.8 L321.2 436.5 L322 437 L322.8 437.1 L323.6 436.9 L328.1 431.7 L328.7 431.3 L329.4 431 L330.1 431.1 L330.8 431.4 L331.3 432 L331.5 432.7 L331.5 433.5 L331.1 434.1 L327.2 439.6 L327.1 440.5 L327.5 441.3 L328.1 441.9 L328.9 442.3 L329.8 442.4 L330.6 442.1 L334.6 436.6 L335.1 436.1 L335.8 435.8 L336.6 435.9 L337.2 436.1 L337.8 436.7 L338.1 437.3 L338.1 438.1 L337.8 438.8 L334.3 444.6 L334.3 445.4 L334.7 446.2 L335.4 446.8 L336.2 447.1 L337.1 447.1 L337.9 446.8 L341.5 441 L341.9 440.5 L342.6 440.1 L343.4 440.1 L344.1 440.3 L344.6 440.8 L345 441.5 L345 442.2 L344.8 442.9 L341.8 449 L341.9 449.8 L342.3 450.6 L343 451.1 L343.9 451.4 L344.8 451.3 L345.5 450.9 L348.6 444.8 L349.1 444.3 L349.7 443.9 L350.5 443.8 L351.2 443.9 L351.8 444.4 L352.2 445 L352.3 445.7 L352.1 446.5 L349.6 452.8 L349.8 453.6 L350.3 454.3 L351 454.8 L351.9 455 L352.8 454.8 L353.5 454.4 L356.1 448.1 L356.5 447.5 L357.1 447.1 L357.8 446.9 L358.6 447 L359.2 447.4 L359.6 448 L359.8 448.7 L359.7 449.4 L357.7 455.9 L357.9 456.7 L358.5 457.4 L359.3 457.8 L360.1 457.9 L361 457.7 L361.7 457.2 L363.8 450.8 L364.1 450.1 L364.7 449.6 L365.4 449.4 L366.2 449.5 L366.8 449.8 L367.3 450.4 L367.6 451.1 L367.5 451.8 L366 458.4 L366.3 459.2 L366.9 459.8 L367.7 460.2 L368.6 460.3 L369.4 460 L370.1 459.4 L371.7 452.8 L372 452.1 L372.5 451.6 L373.2 451.3 L373.9 451.3 L374.6 451.6 L375.2 452.1 L375.5 452.8 L375.5 453.6 L374.4 460.3 L374.8 461.1 L375.5 461.6 L376.3 461.9 L377.2 461.9 L378 461.6 L378.6 461 L379.7 454.2 L379.9 453.5 L380.4 453 L381.1 452.6 L381.8 452.6 L382.5 452.8 L383.1 453.3 L383.5 454 L383.5 454.7 L383 461.5 L383.5 462.2 L384.2 462.7 L385 463 L385.9 462.9 L386.7 462.5 L387.2 461.8 L387.8 455 L388 454.3 L388.4 453.7 L389.1 453.3 L389.8 453.2 L390.5 453.4 L391.1 453.8 L391.5 454.4 L391.7 455.2 L391.7 462 L392.2 462.7 L392.9 463.1 L393.8 463.3 L394.7 463.1 L395.4 462.7 L395.9 462 L395.9 455.2 L396.1 454.4 L396.5 453.8 L397.1 453.4 L397.8 453.2 L398.5 453.3 L399.2 453.7 L399.6 454.3 L399.8 455 L400.4 461.8 L400.9 462.5 L401.7 462.9 L402.6 463 L403.4 462.7 L404.1 462.2 L404.6 461.5 L404.1 454.7 L404.1 454 L404.5 453.3 L405.1 452.8 L405.8 452.6 L406.5 452.6 L407.2 453 L407.7 453.5 L407.9 454.2 L409 461 L409.6 461.6 L410.4 461.9 L411.3 461.9 L412.1 461.6 L412.8 461.1 L413.2 460.3 L412.1 453.6 L412.1 452.8 L412.4 452.1 L413 451.6 L413.7 451.3 L414.4 451.3 L415.1 451.6 L415.6 452.1 L415.9 452.8 L417.5 459.4 L418.2 460 L419 460.3 L419.9 460.2 L420.7 459.8 L421.3 459.2 L421.6 458.4 L420.1 451.8 L420 451.1 L420.3 450.4 L420.8 449.8 L421.4 449.5 L422.2 449.4 L422.9 449.6 L423.5 450.1 L423.8 450.8 L425.9 457.2 L426.6 457.7 L427.5 457.9 L428.3 457.8 L429.1 457.4 L429.7 456.7 L429.9 455.9 L427.9 449.4 L427.8 448.7 L428 448 L428.4 447.4 L429 447 L429.8 446.9 L430.5 447.1 L431.1 447.5 L431.5 448.1 L434.1 454.4 L434.8 454.8 L435.7 455 L436.6 454.8 L437.3 454.3 L437.8 453.6 L438 452.8 L435.5 446.5 L435.3 445.7 L435.4 445 L435.8 444.4 L436.4 443.9 L437.1 443.8 L437.9 443.9 L438.5 444.3 L439 444.8 L442.1 450.9 L442.8 451.3 L443.7 451.4 L444.6 451.1 L445.3 450.6 L445.7 449.8 L445.8 449 L442.8 442.9 L442.6 442.2 L442.6 441.5 L443 440.8 L443.5 440.3 L444.2 440.1 L445 440.1 L445.7 440.5 L446.1 441 L449.7 446.8 L450.5 447.1 L451.4 447.1 L452.2 446.8 L452.9 446.2 L453.3 445.4 L453.3 444.6 L449.8 438.8 L449.5 438.1 L449.5 437.3 L449.8 436.7 L450.4 436.1 L451 435.9 L451.8 435.8 L452.5 436.1 L453 436.6 L457 442.1 L457.8 442.4 L458.7 442.3 L459.5 441.9 L460.1 441.3 L460.5 440.5 L460.4 439.6 L456.5 434.1 L456.1 433.5 L456.1 432.7 L456.3 432 L456.8 431.4 L457.5 431.1 L458.2 431 L458.9 431.3 L459.5 431.7 L464 436.9 L464.8 437.1 L465.6 437 L466.4 436.5 L467 435.8 L467.2 435 L467.2 434.1 L462.8 428.9 L462.4 428.3 L462.3 427.6 L462.5 426.9 L462.9 426.3 L463.5 425.9 L464.3 425.7 L465 425.9 L465.6 426.3 L470.4 431.1 L471.3 431.3 L472.1 431.1 L472.9 430.6 L473.4 429.8 L473.6 429 L473.4 428.1 L468.6 423.3 L468.2 422.7 L468 422 L468.2 421.2 L468.6 420.6 L469.2 420.2 L469.9 420 L470.6 420.1 L471.2 420.5 L476.4 424.9 L477.3 424.9 L478.1 424.7 L478.8 424.1 L479.3 423.3 L479.4 422.5 L479.2 421.7 L474 417.2 L473.6 416.6 L473.3 415.9 L473.4 415.2 L473.7 414.5 L474.3 414 L475 413.8 L475.8 413.8 L476.4 414.2 L481.9 418.1 L482.8 418.2 L483.6 417.8 L484.2 417.2 L484.6 416.4 L484.7 415.5 L484.4 414.7 L478.9 410.7 L478.4 410.2 L478.1 409.5 L478.2 408.7 L478.4 408.1 L479 407.5 L479.6 407.2 L480.4 407.2 L481.1 407.5 L486.9 411 L487.7 411 L488.5 410.6 L489.1 409.9 L489.4 409.1 L489.4 408.2 L489.1 407.4 L483.3 403.8 L482.8 403.4 L482.4 402.7 L482.4 401.9 L482.6 401.2 L483.1 400.7 L483.8 400.3 L484.5 400.3 L485.2 400.5 L491.3 403.5 L492.1 403.4 L492.9 403 L493.4 402.3 L493.7 401.4 L493.6 400.5 L493.2 399.8 L487.1 396.7 L486.6 396.2 L486.2 395.6 L486.1 394.8 L486.2 394.1 L486.7 393.5 L487.3 393.1 L488 393 L488.8 393.2 L495.1 395.7 L495.9 395.5 L496.6 395 L497.1 394.3 L497.3 393.4 L497.1 392.5 L496.7 391.8 L490.4 389.2 L489.8 388.8 L489.4 388.2 L489.2 387.5 L489.3 386.7 L489.7 386.1 L490.3 385.7 L491 385.5 L491.7 385.6 L498.2 387.6 L499 387.4 L499.7 386.8 L500.1 386 L500.2 385.2 L500 384.3 L499.5 383.6 L493.1 381.5 L492.4 381.2 L491.9 380.6 L491.7 379.9 L491.8 379.1 L492.1 378.5 L492.7 378 L493.4 377.7 L494.1 377.8 L500.7 379.3 L501.5 379 L502.1 378.4 L502.5 377.6 L502.6 376.7 L502.3 375.9 L501.7 375.2 L495.1 373.6 L494.4 373.3 L493.9 372.8 L493.6 372.1 L493.6 371.4 L493.9 370.7 L494.4 370.1 L495.1 369.8 L495.9 369.8 L502.6 370.9 L503.4 370.5 L503.9 369.8 L504.2 369 L504.2 368.1 L503.9 367.3 L503.3 366.7 L496.5 365.6 L495.8 365.4 L495.3 364.9 L494.9 364.2 L494.9 363.5 L495.1 362.8 L495.6 362.2 L496.3 361.8 L497 361.8 L503.8 362.3 L504.5 361.8 L505 361.1 L505.3 360.3 L505.2 359.4 L504.8 358.6 L504.1 358.1 L497.3 357.5 L496.6 357.3 L496 356.9 L495.6 356.2 L495.5 355.5 L495.7 354.8 L496.1 354.2 L496.7 353.8 L497.5 353.6 L504.3 353.6 L505 353.1 L505.4 352.4 L505.6 351.5 L505.4 350.6 L505 349.9 L504.3 349.4 L497.5 349.4 L496.7 349.2 L496.1 348.8 L495.7 348.2 L495.5 347.5 L495.6 346.8 L496 346.1 L496.6 345.7 L497.3 345.5 L504.1 344.9 L504.8 344.4 L505.2 343.6 L505.3 342.7 L505 341.9 L504.5 341.2 L503.8 340.7 L497 341.2 L496.3 341.2 L495.6 340.8 L495.1 340.2 L494.9 339.5 L494.9 338.8 L495.3 338.1 L495.8 337.6 L496.5 337.4 L503.3 336.3 L503.9 335.7 L504.2 334.9 L504.2 334 L503.9 333.2 L503.4 332.5 L502.6 332.1 L495.9 333.2 L495.1 333.2 L494.4 332.9 L493.9 332.3 L493.6 331.6 L493.6 330.9 L493.9 330.2 L494.4 329.7 L495.1 329.4 L501.7 327.8 L502.3 327.1 L502.6 326.3 L502.5 325.4 L502.1 324.6 L501.5 324 L500.7 323.7 L494.1 325.2 L493.4 325.3 L492.7 325 L492.1 324.5 L491.8 323.9 L491.7 323.1 L491.9 322.4 L492.4 321.8 L493.1 321.5 L499.5 319.4 L500 318.7 L500.2 317.8 L500.1 317 L499.7 316.2 L499 315.6 L498.2 315.4 L491.7 317.4 L491 317.5 L490.3 317.3 L489.7 316.9 L489.3 316.3 L489.2 315.5 L489.4 314.8 L489.8 314.2 L490.4 313.8 L496.7 311.2 L497.1 310.5 L497.3 309.6 L497.1 308.7 L496.6 308 L495.9 307.5 L495.1 307.3 L488.8 309.8 L488 310 L487.3 309.9 L486.7 309.5 L486.2 308.9 L486.1 308.2 L486.2 307.4 L486.6 306.8 L487.1 306.3 L493.2 303.2 L493.6 302.5 L493.7 301.6 L493.4 300.7 L492.9 300 L492.1 299.6 L491.3 299.5 L485.2 302.5 L484.5 302.7 L483.8 302.7 L483.1 302.3 L482.6 301.8 L482.4 301.1 L482.4 300.3 L482.8 299.6 L483.3 299.2 L489.1 295.6 L489.4 294.8 L489.4 293.9 L489.1 293.1 L488.5 292.4 L487.7 292 L486.9 292 L481.1 295.5 L480.4 295.8 L479.6 295.8 L479 295.5 L478.4 294.9 L478.2 294.3 L478.1 293.5 L478.4 292.8 L478.9 292.3 L484.4 288.3 L484.7 287.5 L484.6 286.6 L484.2 285.8 L483.6 285.2 L482.8 284.8 L481.9 284.9 L476.4 288.8 L475.8 289.2 L475 289.2 L474.3 289 L473.7 288.5 L473.4 287.8 L473.3 287.1 L473.6 286.4 L474 285.8 L479.2 281.3 L479.4 280.5 L479.3 279.7 L478.8 278.9 L478.1 278.3 L477.3 278.1 L476.4 278.1 L471.2 282.5 L470.6 282.9 L469.9 283 L469.2 282.8 L468.6 282.4 L468.2 281.8 L468 281 L468.2 280.3 L468.6 279.7 L473.4 274.9 L473.6 274 L473.4 273.2 L472.9 272.4 L472.1 271.9 L471.3 271.7 L470.4 271.9 L465.6 276.7 L465 277.1 L464.3 277.3 L463.5 277.1 L462.9 276.7 L462.5 276.1 L462.3 275.4 L462.4 274.7 L462.8 274.1 L467.2 268.9 L467.2 268 L467 267.2 L466.4 266.5 L465.6 266 L464.8 265.9 L464 266.1 L459.5 271.3 L458.9 271.7 L458.2 272 L457.5 271.9 L456.8 271.6 L456.3 271 L456.1 270.3 L456.1 269.5 L456.5 268.9 L460.4 263.4 L460.5 262.5 L460.1 261.7 L459.5 261.1 L458.7 260.7 L457.8 260.6 L457 260.9 L453 266.4 L452.5 266.9 L451.8 267.2 L451 267.1 L450.4 266.9 L449.8 266.3 L449.5 265.7 L449.5 264.9 L449.8 264.2 L453.3 258.4 L453.3 257.6 L452.9 256.8 L452.2 256.2 L451.4 255.9 L450.5 255.9 L449.7 256.2 L446.1 262 L445.7 262.5 L445 262.9 L444.2 262.9 L443.5 262.7 L443 262.2 L442.6 261.5 L442.6 260.8 L442.8 260.1 L445.8 254 L445.7 253.2 L445.3 252.4 L444.6 251.9 L443.7 251.6 L442.8 251.7 L442.1 252.1 L439 258.2 L438.5 258.7 L437.9 259.1 L437.1 259.2 L436.4 259.1 L435.8 258.6 L435.4 258 L435.3 257.3 L435.5 256.5 L438 250.2 L437.8 249.4 L437.3 248.7 L436.6 248.2 L435.7 248 L434.8 248.2 L434.1 248.6 L431.5 254.9 L431.1 255.5 L430.5 255.9 L429.8 256.1 L429 256 L428.4 255.6 L428 255 L427.8 254.3 L427.9 253.6 L429.9 247.1 L429.7 246.3 L429.1 245.6 L428.3 245.2 L427.5 245.1 L426.6 245.3 L425.9 245.8 L423.8 252.2 L423.5 252.9 L422.9 253.4 L422.2 253.6 L421.4 253.5 L420.8 253.2 L420.3 252.6 L420 251.9 L420.1 251.2 L421.6 244.6 L421.3 243.8 L420.7 243.2 L419.9 242.8 L419 242.7 L418.2 243 L417.5 243.6 L415.9 250.2 L415.6 250.9 L415.1 251.4 L414.4 251.7 L413.7 251.7 L413 251.4 L412.4 250.9 L412.1 250.2 L412.1 249.4 L413.2 242.7 L412.8 241.9 L412.1 241.4 L411.3 241.1 L410.4 241.1 L409.6 241.4 L409 242 L407.9 248.8 L407.7 249.5 L407.2 250 L406.5 250.4 L405.8 250.4 L405.1 250.2 L404.5 249.7 L404.1 249 L404.1 248.3 L404.6 241.5 L404.1 240.8 L403.4 240.3 L402.6 240 L401.7 240.1 L400.9 240.5 L400.4 241.2 L399.8 248 L399.6 248.7 L399.2 249.3 L398.5 249.7Z M388.4 259.2 L384.5 259.5 L380.6 259.9 L376.8 260.6 L373 261.4 L369.2 262.3 L365.4 263.5 L361.7 264.7 L358.1 266.2 L354.5 267.7 L351 269.5 L347.6 271.4 L344.3 273.4 L341 275.5 L337.9 277.8 L334.8 280.3 L331.8 282.8 L329 285.5 L326.3 288.3 L323.7 291.2 L321.2 294.2 L318.8 297.3 L316.6 300.5 L314.5 303.8 L312.6 307.2 L310.8 310.7 L309.1 314.2 L307.6 317.8 L364.5 336.3 L365.2 335.1 L365.9 333.9 L366.7 332.7 L367.5 331.6 L368.3 330.5 L369.2 329.5 L370.2 328.4 L371.2 327.5 L372.2 326.5 L373.3 325.6 L374.4 324.8 L375.5 324 L376.7 323.3 L377.9 322.6 L379.2 321.9 L380.4 321.3 L381.7 320.8 L383 320.3 L384.3 319.9 L385.7 319.5 L387 319.2 L388.4 318.9Z M304.3 328.1 L303.4 331.9 L302.7 335.7 L302.1 339.6 L301.6 343.5 L301.4 347.4 L301.3 351.3 L301.4 355.2 L301.6 359.1 L302 363 L302.6 366.8 L303.3 370.7 L304.2 374.5 L305.2 378.2 L306.5 381.9 L307.8 385.6 L309.3 389.2 L311 392.7 L312.8 396.2 L314.8 399.6 L316.9 402.9 L319.1 406.1 L321.5 409.2 L324 412.2 L326.6 415.1 L329.3 417.8 L332.2 420.5 L335.2 423 L370.3 374.7 L369.3 373.7 L368.4 372.6 L367.6 371.5 L366.7 370.4 L366 369.2 L365.2 368 L364.6 366.8 L364 365.6 L363.4 364.3 L362.9 363 L362.4 361.7 L362 360.4 L361.7 359 L361.4 357.7 L361.1 356.3 L361 354.9 L360.9 353.5 L360.8 352.1 L360.8 350.7 L360.9 349.3 L361 348 L361.2 346.6Z M343.9 429.4 L347.2 431.4 L350.6 433.3 L354.1 435.1 L357.7 436.7 L361.3 438.1 L365 439.4 L368.7 440.5 L372.5 441.5 L376.3 442.3 L380.2 443 L384.1 443.5 L387.9 443.8 L391.8 444 L395.8 444 L399.7 443.8 L403.5 443.5 L407.4 443 L411.3 442.3 L415.1 441.5 L418.9 440.5 L422.6 439.4 L426.3 438.1 L429.9 436.7 L433.5 435.1 L437 433.3 L440.4 431.4 L443.7 429.4 L408.6 381 L407.3 381.6 L406 382.2 L404.7 382.6 L403.4 383.1 L402.1 383.4 L400.7 383.8 L399.3 384 L398 384.2 L396.6 384.4 L395.2 384.5 L393.8 384.5 L392.4 384.5 L391 384.4 L389.6 384.2 L388.3 384 L386.9 383.8 L385.5 383.4 L384.2 383.1 L382.9 382.6 L381.6 382.2 L380.3 381.6 L379 381Z M452.4 423 L455.4 420.5 L458.3 417.8 L461 415.1 L463.6 412.2 L466.1 409.2 L468.5 406.1 L470.7 402.9 L472.8 399.6 L474.8 396.2 L476.6 392.7 L478.3 389.2 L479.8 385.6 L481.1 381.9 L482.4 378.2 L483.4 374.5 L484.3 370.7 L485 366.8 L485.6 363 L486 359.1 L486.2 355.2 L486.3 351.3 L486.2 347.4 L486 343.5 L485.5 339.6 L484.9 335.7 L484.2 331.9 L483.3 328.1 L426.4 346.6 L426.6 348 L426.7 349.3 L426.8 350.7 L426.8 352.1 L426.7 353.5 L426.6 354.9 L426.5 356.3 L426.2 357.7 L425.9 359 L425.6 360.4 L425.2 361.7 L424.7 363 L424.2 364.3 L423.6 365.6 L423 366.8 L422.4 368 L421.6 369.2 L420.9 370.4 L420 371.5 L419.2 372.6 L418.3 373.7 L417.3 374.7Z M480 317.8 L478.5 314.2 L476.8 310.7 L475 307.2 L473.1 303.8 L471 300.5 L468.8 297.3 L466.4 294.2 L463.9 291.2 L461.3 288.3 L458.6 285.5 L455.8 282.8 L452.8 280.3 L449.7 277.8 L446.6 275.5 L443.3 273.4 L440 271.4 L436.6 269.5 L433.1 267.7 L429.5 266.2 L425.9 264.7 L422.2 263.5 L418.4 262.3 L414.6 261.4 L410.8 260.6 L407 259.9 L403.1 259.5 L399.2 259.2 L399.2 318.9 L400.6 319.2 L401.9 319.5 L403.3 319.9 L404.6 320.3 L405.9 320.8 L407.2 321.3 L408.4 321.9 L409.7 322.6 L410.9 323.3 L412.1 324 L413.2 324.8 L414.3 325.6 L415.4 326.5 L416.4 327.5 L417.4 328.4 L418.4 329.5 L419.3 330.5 L420.1 331.6 L420.9 332.7 L421.7 333.9 L422.4 335.1 L423.1 336.3Z" fill="#b2b2b2" fill-rule="evenodd" stroke="#1e1e1e" stroke-width="1.5"/>
<circle cx="393.8" cy="351.5" r="35" fill="#b2b2b2" stroke="#1e1e1e" stroke-width="1.5" />
<circle cx="393.8" cy="351.5" r="33.2" fill="none" stroke="#1e1e1e" stroke-width="1.1" />
<circle cx="393.8" cy="351.5" r="10.8" fill="none" stroke="#1e1e1e" stroke-width="1.4" />
<circle cx="393.8" cy="351.5" r="6.3" fill="none" stroke="#1e1e1e" stroke-width="1.4" />
<path d="M540.3 261.4 L539.7 261.2 L539.3 260.9 L538.9 260.4 L538.8 259.8 L538.8 253.6 L538.3 252.9 L537.6 252.5 L536.8 252.3 L536 252.5 L535.3 252.9 L534.8 253.6 L534.8 259.8 L534.7 260.4 L534.3 260.9 L533.9 261.2 L533.3 261.4 L532.7 261.3 L532.2 261 L531.8 260.5 L531.7 259.9 L531.2 253.7 L530.7 253.1 L529.9 252.7 L529.1 252.6 L528.2 252.8 L527.6 253.3 L527.2 254 L527.6 260.2 L527.6 260.8 L527.3 261.3 L526.8 261.7 L526.2 261.9 L525.7 261.9 L525.1 261.6 L524.7 261.1 L524.5 260.6 L523.6 254.4 L523 253.8 L522.2 253.5 L521.4 253.5 L520.6 253.8 L519.9 254.3 L519.6 255 L520.5 261.2 L520.5 261.8 L520.3 262.3 L519.8 262.8 L519.3 263 L518.7 263 L518.1 262.8 L517.7 262.3 L517.5 261.8 L516 255.7 L515.4 255.2 L514.6 254.9 L513.8 255 L513 255.3 L512.4 255.9 L512.1 256.6 L513.5 262.7 L513.5 263.3 L513.3 263.9 L513 264.3 L512.4 264.6 L511.8 264.6 L511.3 264.5 L510.8 264.1 L510.5 263.5 L508.6 257.6 L508 257.1 L507.2 256.9 L506.3 257 L505.6 257.4 L505 258 L504.8 258.8 L506.7 264.8 L506.7 265.4 L506.6 265.9 L506.2 266.4 L505.7 266.7 L505.1 266.8 L504.5 266.7 L504 266.3 L503.7 265.8 L501.4 260 L500.7 259.6 L499.9 259.5 L499 259.6 L498.3 260.1 L497.8 260.8 L497.7 261.5 L500 267.3 L500.1 267.9 L500 268.5 L499.7 269 L499.2 269.3 L498.6 269.5 L498 269.4 L497.5 269.1 L497.1 268.6 L494.3 263 L493.6 262.6 L492.8 262.6 L492 262.8 L491.3 263.3 L490.9 264 L490.7 264.8 L493.5 270.4 L493.7 271 L493.6 271.6 L493.3 272.1 L492.8 272.5 L492.3 272.7 L491.7 272.6 L491.2 272.3 L490.8 271.9 L487.6 266.5 L486.8 266.2 L486 266.2 L485.2 266.5 L484.5 267 L484.2 267.8 L484.1 268.6 L487.3 274 L487.5 274.5 L487.5 275.1 L487.2 275.7 L486.8 276.1 L486.2 276.3 L485.6 276.3 L485.1 276.1 L484.7 275.7 L481.1 270.6 L480.3 270.3 L479.5 270.3 L478.7 270.7 L478.1 271.3 L477.8 272.1 L477.8 272.9 L481.3 278 L481.6 278.5 L481.6 279.1 L481.4 279.7 L481 280.1 L480.5 280.4 L479.9 280.4 L479.3 280.3 L478.9 279.9 L474.9 275.1 L474.1 274.9 L473.3 275 L472.5 275.4 L472 276 L471.7 276.8 L471.8 277.6 L475.7 282.5 L476 283 L476.1 283.6 L476 284.1 L475.6 284.6 L475.1 284.9 L474.5 285 L473.9 284.9 L473.4 284.5 L469.1 280 L468.3 279.9 L467.5 280.1 L466.8 280.5 L466.3 281.2 L466.1 282 L466.2 282.8 L470.5 287.3 L470.8 287.8 L470.9 288.4 L470.8 289 L470.5 289.5 L470 289.8 L469.4 290 L468.9 289.9 L468.3 289.6 L463.7 285.4 L462.9 285.3 L462.1 285.6 L461.4 286.1 L461 286.8 L460.8 287.7 L461 288.4 L465.6 292.6 L466 293.1 L466.2 293.6 L466.1 294.2 L465.8 294.8 L465.4 295.1 L464.8 295.3 L464.2 295.3 L463.7 295 L458.7 291.2 L457.9 291.2 L457.1 291.5 L456.5 292.1 L456.1 292.8 L456 293.7 L456.3 294.4 L461.2 298.2 L461.6 298.7 L461.8 299.2 L461.8 299.8 L461.6 300.4 L461.1 300.8 L460.6 301 L460 301 L459.4 300.8 L454.2 297.4 L453.4 297.4 L452.6 297.8 L452 298.4 L451.7 299.2 L451.7 300 L452 300.8 L457.2 304.2 L457.6 304.6 L457.9 305.1 L457.9 305.7 L457.7 306.3 L457.3 306.7 L456.8 307 L456.2 307 L455.6 306.8 L450.1 303.9 L449.3 304 L448.6 304.4 L448.1 305.1 L447.8 305.9 L447.9 306.7 L448.2 307.4 L453.7 310.4 L454.2 310.8 L454.4 311.3 L454.5 311.9 L454.4 312.5 L454 313 L453.5 313.3 L452.9 313.3 L452.3 313.2 L446.6 310.7 L445.8 310.8 L445.1 311.3 L444.6 312 L444.4 312.8 L444.6 313.6 L445 314.3 L450.6 316.9 L451.1 317.2 L451.5 317.7 L451.6 318.3 L451.5 318.9 L451.1 319.4 L450.7 319.7 L450.1 319.9 L449.5 319.8 L443.6 317.7 L442.8 317.9 L442.2 318.4 L441.7 319.2 L441.6 320 L441.8 320.8 L442.2 321.5 L448.1 323.6 L448.6 323.9 L449 324.4 L449.2 325 L449.1 325.5 L448.8 326.1 L448.3 326.4 L447.8 326.6 L447.2 326.6 L441.2 324.9 L440.4 325.2 L439.8 325.8 L439.4 326.5 L439.3 327.4 L439.6 328.2 L440.1 328.8 L446.1 330.5 L446.6 330.7 L447 331.2 L447.2 331.7 L447.2 332.3 L447 332.9 L446.5 333.3 L446 333.5 L445.4 333.5 L439.3 332.3 L438.5 332.7 L438 333.3 L437.6 334.1 L437.6 334.9 L437.9 335.7 L438.5 336.3 L444.6 337.5 L445.2 337.7 L445.6 338.1 L445.9 338.7 L445.9 339.3 L445.7 339.8 L445.3 340.3 L444.7 340.5 L444.1 340.6 L437.9 339.9 L437.2 340.3 L436.7 340.9 L436.5 341.7 L436.5 342.6 L436.9 343.3 L437.5 343.9 L443.7 344.6 L444.3 344.8 L444.7 345.1 L445 345.7 L445.1 346.3 L444.9 346.8 L444.5 347.3 L444 347.6 L443.4 347.7 L437.2 347.5 L436.5 347.9 L436.1 348.6 L435.9 349.4 L436 350.3 L436.4 351 L437.1 351.5 L443.3 351.8 L443.9 351.9 L444.4 352.2 L444.7 352.7 L444.8 353.3 L444.7 353.9 L444.4 354.4 L443.9 354.7 L443.3 354.8 L437.1 355.1 L436.4 355.6 L436 356.3 L435.9 357.2 L436.1 358 L436.5 358.7 L437.2 359.1 L443.4 358.9 L444 359 L444.5 359.3 L444.9 359.8 L445.1 360.3 L445 360.9 L444.7 361.5 L444.3 361.8 L443.7 362 L437.5 362.7 L436.9 363.3 L436.5 364 L436.5 364.9 L436.7 365.7 L437.2 366.3 L437.9 366.7 L444.1 366 L444.7 366.1 L445.3 366.3 L445.7 366.8 L445.9 367.3 L445.9 367.9 L445.6 368.5 L445.2 368.9 L444.6 369.1 L438.5 370.3 L437.9 370.9 L437.6 371.7 L437.6 372.5 L438 373.3 L438.5 373.9 L439.3 374.3 L445.4 373.1 L446 373.1 L446.5 373.3 L447 373.7 L447.2 374.3 L447.2 374.9 L447 375.4 L446.6 375.9 L446.1 376.1 L440.1 377.8 L439.6 378.4 L439.3 379.2 L439.4 380.1 L439.8 380.8 L440.4 381.4 L441.2 381.7 L447.2 380 L447.8 380 L448.3 380.2 L448.8 380.5 L449.1 381.1 L449.2 381.6 L449 382.2 L448.6 382.7 L448.1 383 L442.2 385.1 L441.8 385.8 L441.6 386.6 L441.7 387.4 L442.2 388.2 L442.8 388.7 L443.6 388.9 L449.5 386.8 L450.1 386.7 L450.7 386.9 L451.1 387.2 L451.5 387.7 L451.6 388.3 L451.5 388.9 L451.1 389.4 L450.6 389.7 L445 392.3 L444.6 393 L444.4 393.8 L444.6 394.6 L445.1 395.3 L445.8 395.8 L446.6 395.9 L452.3 393.4 L452.9 393.3 L453.5 393.3 L454 393.6 L454.4 394.1 L454.5 394.7 L454.4 395.3 L454.2 395.8 L453.7 396.2 L448.2 399.2 L447.9 399.9 L447.8 400.7 L448.1 401.5 L448.6 402.2 L449.3 402.6 L450.1 402.7 L455.6 399.8 L456.2 399.6 L456.8 399.6 L457.3 399.9 L457.7 400.3 L457.9 400.9 L457.9 401.5 L457.6 402 L457.2 402.4 L452 405.8 L451.7 406.6 L451.7 407.4 L452 408.2 L452.6 408.8 L453.4 409.2 L454.2 409.2 L459.4 405.8 L460 405.6 L460.6 405.6 L461.1 405.8 L461.6 406.2 L461.8 406.8 L461.8 407.4 L461.6 407.9 L461.2 408.4 L456.3 412.2 L456 412.9 L456.1 413.8 L456.5 414.5 L457.1 415.1 L457.9 415.4 L458.7 415.4 L463.7 411.6 L464.2 411.3 L464.8 411.3 L465.4 411.5 L465.8 411.8 L466.1 412.4 L466.2 413 L466 413.5 L465.6 414 L461 418.2 L460.8 418.9 L461 419.8 L461.4 420.5 L462.1 421 L462.9 421.3 L463.7 421.2 L468.3 417 L468.9 416.7 L469.4 416.6 L470 416.8 L470.5 417.1 L470.8 417.6 L470.9 418.2 L470.8 418.8 L470.5 419.3 L466.2 423.8 L466.1 424.6 L466.3 425.4 L466.8 426.1 L467.5 426.5 L468.3 426.7 L469.1 426.6 L473.4 422.1 L473.9 421.7 L474.5 421.6 L475.1 421.7 L475.6 422 L476 422.5 L476.1 423 L476 423.6 L475.7 424.1 L471.8 429 L471.7 429.8 L472 430.6 L472.5 431.2 L473.3 431.6 L474.1 431.7 L474.9 431.5 L478.9 426.7 L479.3 426.3 L479.9 426.2 L480.5 426.2 L481 426.5 L481.4 426.9 L481.6 427.5 L481.6 428.1 L481.3 428.6 L477.8 433.7 L477.8 434.5 L478.1 435.3 L478.7 435.9 L479.5 436.3 L480.3 436.3 L481.1 436 L484.7 430.9 L485.1 430.5 L485.6 430.3 L486.2 430.3 L486.8 430.5 L487.2 430.9 L487.5 431.5 L487.5 432.1 L487.3 432.6 L484.1 438 L484.2 438.8 L484.5 439.6 L485.2 440.1 L486 440.4 L486.8 440.4 L487.6 440.1 L490.8 434.7 L491.2 434.3 L491.7 434 L492.3 433.9 L492.8 434.1 L493.3 434.5 L493.6 435 L493.7 435.6 L493.5 436.2 L490.7 441.8 L490.9 442.6 L491.3 443.3 L492 443.8 L492.8 444 L493.6 444 L494.3 443.6 L497.1 438 L497.5 437.5 L498 437.2 L498.6 437.1 L499.2 437.3 L499.7 437.6 L500 438.1 L500.1 438.7 L500 439.3 L497.7 445.1 L497.8 445.8 L498.3 446.5 L499 447 L499.9 447.1 L500.7 447 L501.4 446.6 L503.7 440.8 L504 440.3 L504.5 439.9 L505.1 439.8 L505.7 439.9 L506.2 440.2 L506.6 440.7 L506.7 441.2 L506.7 441.8 L504.8 447.8 L505 448.6 L505.6 449.2 L506.3 449.6 L507.2 449.7 L508 449.5 L508.6 449 L510.5 443.1 L510.8 442.5 L511.3 442.1 L511.8 442 L512.4 442 L513 442.3 L513.3 442.7 L513.5 443.3 L513.5 443.9 L512.1 450 L512.4 450.7 L513 451.3 L513.8 451.6 L514.6 451.7 L515.4 451.4 L516 450.9 L517.5 444.8 L517.7 444.3 L518.1 443.8 L518.7 443.6 L519.3 443.6 L519.8 443.8 L520.3 444.3 L520.5 444.8 L520.5 445.4 L519.6 451.6 L519.9 452.3 L520.6 452.8 L521.4 453.1 L522.2 453.1 L523 452.8 L523.6 452.2 L524.5 446 L524.7 445.5 L525.1 445 L525.7 444.7 L526.2 444.7 L526.8 444.9 L527.3 445.3 L527.6 445.8 L527.6 446.4 L527.2 452.6 L527.6 453.3 L528.2 453.8 L529.1 454 L529.9 453.9 L530.7 453.5 L531.2 452.9 L531.7 446.7 L531.8 446.1 L532.2 445.6 L532.7 445.3 L533.3 445.2 L533.9 445.4 L534.3 445.7 L534.7 446.2 L534.8 446.8 L534.8 453 L535.3 453.7 L536 454.1 L536.8 454.3 L537.6 454.1 L538.3 453.7 L538.8 453 L538.8 446.8 L538.9 446.2 L539.3 445.7 L539.7 445.4 L540.3 445.2 L540.9 445.3 L541.4 445.6 L541.8 446.1 L541.9 446.7 L542.4 452.9 L542.9 453.5 L543.7 453.9 L544.5 454 L545.4 453.8 L546 453.3 L546.4 452.6 L546 446.4 L546 445.8 L546.3 445.3 L546.8 444.9 L547.4 444.7 L547.9 444.7 L548.5 445 L548.9 445.5 L549.1 446 L550 452.2 L550.6 452.8 L551.4 453.1 L552.2 453.1 L553 452.8 L553.7 452.3 L554 451.6 L553.1 445.4 L553.1 444.8 L553.3 444.3 L553.8 443.8 L554.3 443.6 L554.9 443.6 L555.5 443.8 L555.9 444.3 L556.1 444.8 L557.6 450.9 L558.2 451.4 L559 451.7 L559.8 451.6 L560.6 451.3 L561.2 450.7 L561.5 450 L560.1 443.9 L560.1 443.3 L560.3 442.7 L560.6 442.3 L561.2 442 L561.8 442 L562.3 442.1 L562.8 442.5 L563.1 443.1 L565 449 L565.6 449.5 L566.4 449.7 L567.3 449.6 L568 449.2 L568.6 448.6 L568.8 447.8 L566.9 441.8 L566.9 441.2 L567 440.7 L567.4 440.2 L567.9 439.9 L568.5 439.8 L569.1 439.9 L569.6 440.3 L569.9 440.8 L572.2 446.6 L572.9 447 L573.7 447.1 L574.6 447 L575.3 446.5 L575.8 445.8 L575.9 445.1 L573.6 439.3 L573.5 438.7 L573.6 438.1 L573.9 437.6 L574.4 437.3 L575 437.1 L575.6 437.2 L576.1 437.5 L576.5 438 L579.3 443.6 L580 444 L580.8 444 L581.6 443.8 L582.3 443.3 L582.7 442.6 L582.9 441.8 L580.1 436.2 L579.9 435.6 L580 435 L580.3 434.5 L580.8 434.1 L581.3 433.9 L581.9 434 L582.4 434.3 L582.8 434.7 L586 440.1 L586.8 440.4 L587.6 440.4 L588.4 440.1 L589.1 439.6 L589.4 438.8 L589.5 438 L586.3 432.6 L586.1 432.1 L586.1 431.5 L586.4 430.9 L586.8 430.5 L587.4 430.3 L588 430.3 L588.5 430.5 L588.9 430.9 L592.5 436 L593.3 436.3 L594.1 436.3 L594.9 435.9 L595.5 435.3 L595.8 434.5 L595.8 433.7 L592.3 428.6 L592 428.1 L592 427.5 L592.2 426.9 L592.6 426.5 L593.1 426.2 L593.7 426.2 L594.3 426.3 L594.7 426.7 L598.7 431.5 L599.5 431.7 L600.3 431.6 L601.1 431.2 L601.6 430.6 L601.9 429.8 L601.8 429 L597.9 424.1 L597.6 423.6 L597.5 423 L597.6 422.5 L598 422 L598.5 421.7 L599.1 421.6 L599.7 421.7 L600.2 422.1 L604.5 426.6 L605.3 426.7 L606.1 426.5 L606.8 426.1 L607.3 425.4 L607.5 424.6 L607.4 423.8 L603.1 419.3 L602.8 418.8 L602.7 418.2 L602.8 417.6 L603.1 417.1 L603.6 416.8 L604.2 416.6 L604.7 416.7 L605.3 417 L609.9 421.2 L610.7 421.3 L611.5 421 L612.2 420.5 L612.6 419.8 L612.8 418.9 L612.6 418.2 L608 414 L607.6 413.5 L607.4 413 L607.5 412.4 L607.8 411.8 L608.2 411.5 L608.8 411.3 L609.4 411.3 L609.9 411.6 L614.9 415.4 L615.7 415.4 L616.5 415.1 L617.1 414.5 L617.5 413.8 L617.6 412.9 L617.3 412.2 L612.4 408.4 L612 407.9 L611.8 407.4 L611.8 406.8 L612 406.2 L612.5 405.8 L613 405.6 L613.6 405.6 L614.2 405.8 L619.4 409.2 L620.2 409.2 L621 408.8 L621.6 408.2 L621.9 407.4 L621.9 406.6 L621.6 405.8 L616.4 402.4 L616 402 L615.7 401.5 L615.7 400.9 L615.9 400.3 L616.3 399.9 L616.8 399.6 L617.4 399.6 L618 399.8 L623.5 402.7 L624.3 402.6 L625 402.2 L625.5 401.5 L625.8 400.7 L625.7 399.9 L625.4 399.2 L619.9 396.2 L619.4 395.8 L619.2 395.3 L619.1 394.7 L619.2 394.1 L619.6 393.6 L620.1 393.3 L620.7 393.3 L621.3 393.4 L627 395.9 L627.8 395.8 L628.5 395.3 L629 394.6 L629.2 393.8 L629 393 L628.6 392.3 L623 389.7 L622.5 389.4 L622.1 388.9 L622 388.3 L622.1 387.7 L622.5 387.2 L622.9 386.9 L623.5 386.7 L624.1 386.8 L630 388.9 L630.8 388.7 L631.4 388.2 L631.9 387.4 L632 386.6 L631.8 385.8 L631.4 385.1 L625.5 383 L625 382.7 L624.6 382.2 L624.4 381.6 L624.5 381.1 L624.8 380.5 L625.3 380.2 L625.8 380 L626.4 380 L632.4 381.7 L633.2 381.4 L633.8 380.8 L634.2 380.1 L634.3 379.2 L634 378.4 L633.5 377.8 L627.5 376.1 L627 375.9 L626.6 375.4 L626.4 374.9 L626.4 374.3 L626.6 373.7 L627.1 373.3 L627.6 373.1 L628.2 373.1 L634.3 374.3 L635.1 373.9 L635.6 373.3 L636 372.5 L636 371.7 L635.7 370.9 L635.1 370.3 L629 369.1 L628.4 368.9 L628 368.5 L627.7 367.9 L627.7 367.3 L627.9 366.8 L628.3 366.3 L628.9 366.1 L629.5 366 L635.7 366.7 L636.4 366.3 L636.9 365.7 L637.1 364.9 L637.1 364 L636.7 363.3 L636.1 362.7 L629.9 362 L629.3 361.8 L628.9 361.5 L628.6 360.9 L628.5 360.3 L628.7 359.8 L629.1 359.3 L629.6 359 L630.2 358.9 L636.4 359.1 L637.1 358.7 L637.5 358 L637.7 357.2 L637.6 356.3 L637.2 355.6 L636.5 355.1 L630.3 354.8 L629.7 354.7 L629.2 354.4 L628.9 353.9 L628.8 353.3 L628.9 352.7 L629.2 352.2 L629.7 351.9 L630.3 351.8 L636.5 351.5 L637.2 351 L637.6 350.3 L637.7 349.4 L637.5 348.6 L637.1 347.9 L636.4 347.5 L630.2 347.7 L629.6 347.6 L629.1 347.3 L628.7 346.8 L628.5 346.3 L628.6 345.7 L628.9 345.1 L629.3 344.8 L629.9 344.6 L636.1 343.9 L636.7 343.3 L637.1 342.6 L637.1 341.7 L636.9 340.9 L636.4 340.3 L635.7 339.9 L629.5 340.6 L628.9 340.5 L628.3 340.3 L627.9 339.8 L627.7 339.3 L627.7 338.7 L628 338.1 L628.4 337.7 L629 337.5 L635.1 336.3 L635.7 335.7 L636 334.9 L636 334.1 L635.6 333.3 L635.1 332.7 L634.3 332.3 L628.2 333.5 L627.6 333.5 L627.1 333.3 L626.6 332.9 L626.4 332.3 L626.4 331.7 L626.6 331.2 L627 330.7 L627.5 330.5 L633.5 328.8 L634 328.2 L634.3 327.4 L634.2 326.5 L633.8 325.8 L633.2 325.2 L632.4 324.9 L626.4 326.6 L625.8 326.6 L625.3 326.4 L624.8 326.1 L624.5 325.5 L624.4 325 L624.6 324.4 L625 323.9 L625.5 323.6 L631.4 321.5 L631.8 320.8 L632 320 L631.9 319.2 L631.4 318.4 L630.8 317.9 L630 317.7 L624.1 319.8 L623.5 319.9 L622.9 319.7 L622.5 319.4 L622.1 318.9 L622 318.3 L622.1 317.7 L622.5 317.2 L623 316.9 L628.6 314.3 L629 313.6 L629.2 312.8 L629 312 L628.5 311.3 L627.8 310.8 L627 310.7 L621.3 313.2 L620.7 313.3 L620.1 313.3 L619.6 313 L619.2 312.5 L619.1 311.9 L619.2 311.3 L619.4 310.8 L619.9 310.4 L625.4 307.4 L625.7 306.7 L625.8 305.9 L625.5 305.1 L625 304.4 L624.3 304 L623.5 303.9 L618 306.8 L617.4 307 L616.8 307 L616.3 306.7 L615.9 306.3 L615.7 305.7 L615.7 305.1 L616 304.6 L616.4 304.2 L621.6 300.8 L621.9 300 L621.9 299.2 L621.6 298.4 L621 297.8 L620.2 297.4 L619.4 297.4 L614.2 300.8 L613.6 301 L613 301 L612.5 300.8 L612 300.4 L611.8 299.8 L611.8 299.2 L612 298.7 L612.4 298.2 L617.3 294.4 L617.6 293.7 L617.5 292.8 L617.1 292.1 L616.5 291.5 L615.7 291.2 L614.9 291.2 L609.9 295 L609.4 295.3 L608.8 295.3 L608.2 295.1 L607.8 294.8 L607.5 294.2 L607.4 293.6 L607.6 293.1 L608 292.6 L612.6 288.4 L612.8 287.7 L612.6 286.8 L612.2 286.1 L611.5 285.6 L610.7 285.3 L609.9 285.4 L605.3 289.6 L604.7 289.9 L604.2 290 L603.6 289.8 L603.1 289.5 L602.8 289 L602.7 288.4 L602.8 287.8 L603.1 287.3 L607.4 282.8 L607.5 282 L607.3 281.2 L606.8 280.5 L606.1 280.1 L605.3 279.9 L604.5 280 L600.2 284.5 L599.7 284.9 L599.1 285 L598.5 284.9 L598 284.6 L597.6 284.1 L597.5 283.6 L597.6 283 L597.9 282.5 L601.8 277.6 L601.9 276.8 L601.6 276 L601.1 275.4 L600.3 275 L599.5 274.9 L598.7 275.1 L594.7 279.9 L594.3 280.3 L593.7 280.4 L593.1 280.4 L592.6 280.1 L592.2 279.7 L592 279.1 L592 278.5 L592.3 278 L595.8 272.9 L595.8 272.1 L595.5 271.3 L594.9 270.7 L594.1 270.3 L593.3 270.3 L592.5 270.6 L588.9 275.7 L588.5 276.1 L588 276.3 L587.4 276.3 L586.8 276.1 L586.4 275.7 L586.1 275.1 L586.1 274.5 L586.3 274 L589.5 268.6 L589.4 267.8 L589.1 267 L588.4 266.5 L587.6 266.2 L586.8 266.2 L586 266.5 L582.8 271.9 L582.4 272.3 L581.9 272.6 L581.3 272.7 L580.8 272.5 L580.3 272.1 L580 271.6 L579.9 271 L580.1 270.4 L582.9 264.8 L582.7 264 L582.3 263.3 L581.6 262.8 L580.8 262.6 L580 262.6 L579.3 263 L576.5 268.6 L576.1 269.1 L575.6 269.4 L575 269.5 L574.4 269.3 L573.9 269 L573.6 268.5 L573.5 267.9 L573.6 267.3 L575.9 261.5 L575.8 260.8 L575.3 260.1 L574.6 259.6 L573.7 259.5 L572.9 259.6 L572.2 260 L569.9 265.8 L569.6 266.3 L569.1 266.7 L568.5 266.8 L567.9 266.7 L567.4 266.4 L567 265.9 L566.9 265.4 L566.9 264.8 L568.8 258.8 L568.6 258 L568 257.4 L567.3 257 L566.4 256.9 L565.6 257.1 L565 257.6 L563.1 263.5 L562.8 264.1 L562.3 264.5 L561.8 264.6 L561.2 264.6 L560.6 264.3 L560.3 263.9 L560.1 263.3 L560.1 262.7 L561.5 256.6 L561.2 255.9 L560.6 255.3 L559.8 255 L559 254.9 L558.2 255.2 L557.6 255.7 L556.1 261.8 L555.9 262.3 L555.5 262.8 L554.9 263 L554.3 263 L553.8 262.8 L553.3 262.3 L553.1 261.8 L553.1 261.2 L554 255 L553.7 254.3 L553 253.8 L552.2 253.5 L551.4 253.5 L550.6 253.8 L550 254.4 L549.1 260.6 L548.9 261.1 L548.5 261.6 L547.9 261.9 L547.4 261.9 L546.8 261.7 L546.3 261.3 L546 260.8 L546 260.2 L546.4 254 L546 253.3 L545.4 252.8 L544.5 252.6 L543.7 252.7 L542.9 253.1 L542.4 253.7 L541.9 259.9 L541.8 260.5 L541.4 261 L540.9 261.3Z M544.3 270.2 L540.7 270 L537.1 269.9 L533.5 270 L529.9 270.2 L526.3 270.6 L522.7 271.1 L519.1 271.8 L515.6 272.6 L512.1 273.6 L508.7 274.8 L505.3 276.1 L501.9 277.5 L498.7 279.1 L495.5 280.9 L492.4 282.7 L489.4 284.7 L486.4 286.8 L483.6 289.1 L480.8 291.5 L478.2 294 L475.7 296.6 L473.3 299.3 L471 302.1 L468.8 305 L466.8 308 L464.9 311.1 L510.1 333.9 L510.9 332.8 L511.8 331.7 L512.8 330.7 L513.8 329.7 L514.8 328.7 L515.9 327.8 L517 326.9 L518.1 326.1 L519.3 325.3 L520.5 324.6 L521.7 323.9 L523 323.3 L524.3 322.8 L525.6 322.3 L526.9 321.8 L528.3 321.4 L529.6 321.1 L531 320.8 L532.4 320.6 L533.8 320.4 L535.2 320.3 L536.6 320.3Z M460.1 320.5 L458.8 323.8 L457.6 327.2 L456.5 330.7 L455.6 334.2 L454.9 337.8 L454.3 341.3 L453.8 344.9 L453.5 348.6 L453.4 352.2 L453.4 355.8 L453.6 359.4 L454 363 L454.5 366.6 L455.1 370.2 L455.9 373.7 L456.9 377.2 L458 380.7 L459.3 384.1 L460.7 387.4 L462.3 390.7 L464 393.9 L465.8 397 L467.8 400.1 L469.9 403 L472.1 405.9 L474.4 408.7 L510.1 372.7 L509.3 371.6 L508.6 370.4 L507.9 369.2 L507.2 367.9 L506.6 366.6 L506.1 365.3 L505.6 364 L505.2 362.7 L504.8 361.3 L504.5 360 L504.2 358.6 L504 357.2 L503.9 355.8 L503.8 354.4 L503.8 353 L503.8 351.6 L503.9 350.2 L504.1 348.8 L504.3 347.4 L504.6 346 L505 344.6 L505.4 343.3Z M481.9 416.1 L484.7 418.4 L487.5 420.6 L490.5 422.7 L493.6 424.6 L496.7 426.4 L499.9 428.1 L503.2 429.6 L506.6 431 L510 432.3 L513.4 433.4 L516.9 434.3 L520.5 435.1 L524 435.7 L527.6 436.2 L531.2 436.5 L534.9 436.7 L538.5 436.7 L542.1 436.5 L545.7 436.2 L549.3 435.8 L552.9 435.1 L556.4 434.4 L560 433.4 L563.4 432.3 L566.8 431.1 L570.2 429.7 L547 384.7 L545.7 385.1 L544.3 385.4 L542.9 385.7 L541.6 386 L540.2 386.1 L538.8 386.2 L537.4 386.3 L535.9 386.3 L534.5 386.2 L533.1 386.1 L531.8 385.9 L530.4 385.7 L529 385.4 L527.6 385 L526.3 384.6 L525 384.1 L523.7 383.6 L522.4 383 L521.1 382.3 L519.9 381.7 L518.7 380.9 L517.6 380.1Z M579.5 424.9 L582.6 423 L585.6 420.9 L588.5 418.8 L591.3 416.5 L594 414 L596.5 411.5 L599 408.8 L601.4 406.1 L603.6 403.2 L605.7 400.3 L607.7 397.2 L609.5 394.1 L611.2 390.9 L612.8 387.6 L614.2 384.3 L615.5 380.9 L616.6 377.5 L617.6 374 L618.4 370.4 L619.1 366.9 L619.6 363.3 L620 359.7 L620.2 356 L620.2 352.4 L620.1 348.8 L619.8 345.2 L569.8 353.3 L569.8 354.7 L569.7 356.1 L569.5 357.5 L569.3 358.9 L569.1 360.2 L568.7 361.6 L568.4 363 L567.9 364.3 L567.4 365.6 L566.9 366.9 L566.3 368.2 L565.6 369.4 L564.9 370.6 L564.1 371.8 L563.3 373 L562.4 374.1 L561.5 375.1 L560.6 376.2 L559.6 377.2 L558.6 378.1 L557.5 379 L556.4 379.9Z M618.1 334.8 L617.2 331.3 L616.2 327.8 L615 324.4 L613.7 321 L612.2 317.7 L610.6 314.5 L608.8 311.3 L606.9 308.2 L604.9 305.2 L602.8 302.3 L600.5 299.5 L598.1 296.7 L595.6 294.1 L592.9 291.6 L590.2 289.2 L587.4 287 L584.4 284.8 L581.4 282.8 L578.3 281 L575.1 279.2 L571.9 277.6 L568.5 276.2 L565.2 274.9 L561.7 273.7 L558.2 272.7 L554.7 271.8 L547 321.9 L548.3 322.4 L549.6 322.9 L550.9 323.5 L552.1 324.1 L553.4 324.8 L554.6 325.5 L555.7 326.3 L556.9 327.1 L558 328 L559 328.9 L560.1 329.9 L561 330.9 L562 331.9 L562.8 333 L563.7 334.2 L564.5 335.3 L565.2 336.5 L565.9 337.7 L566.5 339 L567.1 340.3 L567.7 341.6 L568.1 342.9Z" fill="#b2b2b2" fill-rule="evenodd" stroke="#1e1e1e" stroke-width="1.5"/>
<circle cx="536.8" cy="353.3" r="35" fill="#b2b2b2" stroke="#1e1e1e" stroke-width="1.5" />
<circle cx="536.8" cy="353.3" r="10.8" fill="none" stroke="#1e1e1e" stroke-width="1.4" />
<circle cx="536.8" cy="353.3" r="8" fill="none" stroke="#1e1e1e" stroke-width="1.3" />
<circle cx="536.8" cy="353.3" r="4.8" fill="none" stroke="#1e1e1e" stroke-width="1.1" />
<line x1="537.1" y1="125" x2="537.1" y2="253" stroke="#222" stroke-width="1.3" stroke-dasharray="4.5 3"/>
<path d="M739.4 294.8 L740.7 293.2 L741.9 291.6 L743.2 289.9 L744.4 288.2 L745.6 286.3 L746.7 284.3 L747.8 282.3 L748.8 280.1 L752 280.9 L751.1 287.2 L751.3 289.2 L751.9 290.8 L752.8 292.1 L754 293.2 L755.5 294 L757.3 294.6 L757.4 294.7 L759.1 293.6 L760.9 292.5 L762.6 291.3 L764.3 290 L765.9 288.5 L767.6 287 L769.3 285.4 L771 283.7 L773.8 285.4 L770.9 291.1 L770.6 293 L770.6 294.8 L771.1 296.3 L771.8 297.7 L773 299 L774.5 300.1 L774.7 300.2 L776.6 299.7 L778.6 299.1 L780.6 298.5 L782.6 297.8 L784.7 297 L786.7 296 L788.8 295 L791 293.9 L793.1 296.4 L788.6 301 L787.6 302.7 L787.2 304.3 L787.1 306 L787.4 307.5 L788.1 309.1 L789.2 310.6 L789.3 310.7 L791.4 310.9 L793.4 311 L795.5 311 L797.6 310.9 L799.8 310.8 L802.1 310.5 L804.4 310.2 L806.8 309.8 L808 312.8 L802.3 315.8 L800.9 317.1 L799.9 318.6 L799.4 320.1 L799.2 321.7 L799.4 323.3 L800 325.1 L800.1 325.3 L801.9 326.1 L803.8 326.8 L805.8 327.4 L807.9 328 L810 328.6 L812.2 329 L814.5 329.4 L816.9 329.8 L817.2 333 L810.8 334.1 L809.1 334.9 L807.7 336 L806.7 337.3 L806.1 338.7 L805.7 340.4 L805.7 342.3 L805.7 342.5 L807.3 343.8 L808.9 345 L810.6 346.3 L812.3 347.5 L814.2 348.7 L816.2 349.8 L818.2 350.9 L820.4 351.9 L819.6 355.1 L813.3 354.2 L811.3 354.4 L809.7 355 L808.4 355.9 L807.3 357.1 L806.5 358.6 L805.9 360.4 L805.8 360.5 L806.9 362.2 L808 364 L809.2 365.7 L810.5 367.4 L812 369 L813.5 370.7 L815.1 372.4 L816.8 374.1 L815.1 376.9 L809.4 374 L807.5 373.7 L805.7 373.7 L804.2 374.2 L802.8 374.9 L801.5 376.1 L800.4 377.6 L800.3 377.8 L800.8 379.7 L801.4 381.7 L802 383.7 L802.7 385.7 L803.5 387.8 L804.5 389.8 L805.5 391.9 L806.6 394.1 L804.1 396.2 L799.5 391.7 L797.8 390.7 L796.2 390.3 L794.5 390.2 L793 390.5 L791.4 391.2 L789.9 392.3 L789.8 392.4 L789.6 394.5 L789.5 396.5 L789.5 398.6 L789.6 400.7 L789.7 402.9 L790 405.2 L790.3 407.5 L790.7 409.9 L787.7 411.1 L784.7 405.4 L783.4 404 L781.9 403 L780.4 402.5 L778.8 402.3 L777.2 402.5 L775.4 403.1 L775.2 403.2 L774.4 405 L773.7 406.9 L773.1 408.9 L772.5 411 L771.9 413.1 L771.5 415.3 L771.1 417.6 L770.7 420 L767.5 420.3 L766.4 413.9 L765.6 412.2 L764.5 410.8 L763.2 409.8 L761.8 409.2 L760.1 408.8 L758.2 408.8 L758 408.8 L756.7 410.4 L755.5 412 L754.2 413.7 L753 415.4 L751.8 417.3 L750.7 419.3 L749.6 421.3 L748.6 423.5 L745.4 422.7 L746.3 416.4 L746.1 414.4 L745.5 412.8 L744.6 411.5 L743.4 410.4 L741.9 409.6 L740.1 409 L740 408.9 L738.3 410 L736.5 411.1 L734.8 412.3 L733.1 413.6 L731.5 415.1 L729.8 416.6 L728.1 418.2 L726.4 419.9 L723.6 418.2 L726.5 412.5 L726.8 410.6 L726.8 408.8 L726.3 407.3 L725.6 405.9 L724.4 404.6 L722.9 403.5 L722.7 403.4 L720.8 403.9 L718.8 404.5 L716.8 405.1 L714.8 405.8 L712.7 406.6 L710.7 407.6 L708.6 408.6 L706.4 409.7 L704.3 407.2 L708.8 402.6 L709.8 400.9 L710.2 399.3 L710.3 397.6 L710 396.1 L709.3 394.5 L708.2 393 L708.1 392.9 L706 392.7 L704 392.6 L701.9 392.6 L699.8 392.7 L697.6 392.8 L695.3 393.1 L693 393.4 L690.6 393.8 L689.4 390.8 L695.1 387.8 L696.5 386.5 L697.5 385 L698 383.5 L698.2 381.9 L698 380.3 L697.4 378.5 L697.3 378.3 L695.5 377.5 L693.6 376.8 L691.6 376.2 L689.5 375.6 L687.4 375 L685.2 374.6 L682.9 374.2 L680.5 373.8 L680.2 370.6 L686.6 369.5 L688.3 368.7 L689.7 367.6 L690.7 366.3 L691.3 364.9 L691.7 363.2 L691.7 361.3 L691.7 361.1 L690.1 359.8 L688.5 358.6 L686.8 357.3 L685.1 356.1 L683.2 354.9 L681.2 353.8 L679.2 352.7 L677 351.7 L677.8 348.5 L684.1 349.4 L686.1 349.2 L687.7 348.6 L689 347.7 L690.1 346.5 L690.9 345 L691.5 343.2 L691.6 343.1 L690.5 341.4 L689.4 339.6 L688.2 337.9 L686.9 336.2 L685.4 334.6 L683.9 332.9 L682.3 331.2 L680.6 329.5 L682.3 326.7 L688 329.6 L689.9 329.9 L691.7 329.9 L693.2 329.4 L694.6 328.7 L695.9 327.5 L697 326 L697.1 325.8 L696.6 323.9 L696 321.9 L695.4 319.9 L694.7 317.9 L693.9 315.8 L692.9 313.8 L691.9 311.7 L690.8 309.5 L693.3 307.4 L697.9 311.9 L699.6 312.9 L701.2 313.3 L702.9 313.4 L704.4 313.1 L706 312.4 L707.5 311.3 L707.6 311.2 L707.8 309.1 L707.9 307.1 L707.9 305 L707.8 302.9 L707.7 300.7 L707.4 298.4 L707.1 296.1 L706.7 293.7 L709.7 292.5 L712.7 298.2 L714 299.6 L715.5 300.6 L717 301.1 L718.6 301.3 L720.2 301.1 L722 300.5 L722.2 300.4 L723 298.6 L723.7 296.7 L724.3 294.7 L724.9 292.6 L725.5 290.5 L725.9 288.3 L726.3 286 L726.7 283.6 L729.9 283.3 L731 289.7 L731.8 291.4 L732.9 292.8 L734.2 293.8 L735.6 294.4 L737.3 294.8 L739.2 294.8Z M792 318.5 L790.5 316.7 L789 315 L787.4 313.3 L785.7 311.7 L784 310.1 L782.2 308.7 L780.3 307.3 L778.4 306 L776.4 304.8 L774.4 303.6 L772.3 302.6 L770.2 301.6 L768 300.7 L765.9 300 L763.6 299.3 L761.4 298.7 L759.1 298.2 L756.8 297.8 L754.5 297.5 L752.2 297.3 L749.9 297.2 L747.6 297.2 L745.3 297.3 L742.9 297.5 L740.6 297.8 L738.3 298.2 L736.1 298.7 L733.8 299.3 L731.6 299.9 L729.4 300.7 L727.3 301.6 L725.1 302.5 L723.1 303.6 L721 304.7 L745.2 340.5 L745.7 340.4 L746.2 340.3 L746.7 340.2 L747.2 340.1 L747.7 340 L748.2 340 L748.7 340 L749.2 340 L749.7 340 L750.2 340.1 L750.7 340.2 L751.2 340.3 L751.7 340.4 L752.2 340.5 L752.7 340.7 L753.1 340.9 L753.6 341.1 L754.1 341.3 L754.5 341.5 L754.9 341.8 L755.4 342.1 L755.8 342.4 L756.2 342.7Z M715.4 308.5 L713.6 310 L711.9 311.5 L710.2 313.1 L708.6 314.8 L707 316.5 L705.6 318.3 L704.2 320.2 L702.9 322.1 L701.7 324.1 L700.5 326.1 L699.5 328.2 L698.5 330.3 L697.6 332.5 L696.9 334.6 L696.2 336.9 L695.6 339.1 L695.1 341.4 L694.7 343.7 L694.4 346 L694.2 348.3 L694.1 350.6 L694.1 352.9 L694.2 355.2 L694.4 357.6 L694.7 359.9 L695.1 362.2 L695.6 364.4 L696.2 366.7 L696.8 368.9 L697.6 371.1 L698.5 373.2 L699.4 375.4 L700.5 377.4 L701.6 379.5 L737.4 355.3 L737.3 354.8 L737.2 354.3 L737.1 353.8 L737 353.3 L736.9 352.8 L736.9 352.3 L736.9 351.8 L736.9 351.3 L736.9 350.8 L737 350.3 L737.1 349.8 L737.2 349.3 L737.3 348.8 L737.4 348.3 L737.6 347.8 L737.8 347.4 L738 346.9 L738.2 346.4 L738.4 346 L738.7 345.6 L739 345.1 L739.3 344.7 L739.6 344.3Z M705.4 385.1 L706.9 386.9 L708.4 388.6 L710 390.3 L711.7 391.9 L713.4 393.5 L715.2 394.9 L717.1 396.3 L719 397.6 L721 398.8 L723 400 L725.1 401 L727.2 402 L729.4 402.9 L731.5 403.6 L733.8 404.3 L736 404.9 L738.3 405.4 L740.6 405.8 L742.9 406.1 L745.2 406.3 L747.5 406.4 L749.8 406.4 L752.1 406.3 L754.5 406.1 L756.8 405.8 L759.1 405.4 L761.3 404.9 L763.6 404.3 L765.8 403.7 L768 402.9 L770.1 402 L772.3 401.1 L774.3 400 L776.4 398.9 L752.2 363.1 L751.7 363.2 L751.2 363.3 L750.7 363.4 L750.2 363.5 L749.7 363.6 L749.2 363.6 L748.7 363.6 L748.2 363.6 L747.7 363.6 L747.2 363.5 L746.7 363.4 L746.2 363.3 L745.7 363.2 L745.2 363.1 L744.7 362.9 L744.3 362.7 L743.8 362.5 L743.3 362.3 L742.9 362.1 L742.5 361.8 L742 361.5 L741.6 361.2 L741.2 360.9Z M782 395.1 L783.8 393.6 L785.5 392.1 L787.2 390.5 L788.8 388.8 L790.4 387.1 L791.8 385.3 L793.2 383.4 L794.5 381.5 L795.7 379.5 L796.9 377.5 L797.9 375.4 L798.9 373.3 L799.8 371.1 L800.5 369 L801.2 366.7 L801.8 364.5 L802.3 362.2 L802.7 359.9 L803 357.6 L803.2 355.3 L803.3 353 L803.3 350.7 L803.2 348.4 L803 346 L802.7 343.7 L802.3 341.4 L801.8 339.2 L801.2 336.9 L800.6 334.7 L799.8 332.5 L798.9 330.4 L798 328.2 L796.9 326.2 L795.8 324.1 L760 348.3 L760.1 348.8 L760.2 349.3 L760.3 349.8 L760.4 350.3 L760.5 350.8 L760.5 351.3 L760.5 351.8 L760.5 352.3 L760.5 352.8 L760.4 353.3 L760.3 353.8 L760.2 354.3 L760.1 354.8 L760 355.3 L759.8 355.8 L759.6 356.2 L759.4 356.7 L759.2 357.2 L759 357.6 L758.7 358 L758.4 358.5 L758.1 358.9 L757.8 359.3Z" fill="#b2b2b2" fill-rule="evenodd" stroke="#1e1e1e" stroke-width="1.4" stroke-linejoin="round"/>
<path d="M650.5 266.9 L650 266.7 L649.6 266.4 L649.3 266 L649.2 265.5 L649.1 260 L648.7 259.4 L648.1 258.9 L647.3 258.8 L646.5 258.9 L645.9 259.4 L645.5 260 L645.4 265.5 L645.3 266 L645 266.4 L644.6 266.7 L644.1 266.9 L643.6 266.8 L643.1 266.5 L642.8 266.1 L642.7 265.6 L642.2 260.1 L641.7 259.5 L641.1 259.2 L640.3 259.1 L639.5 259.3 L638.9 259.7 L638.5 260.4 L638.9 265.8 L638.9 266.4 L638.6 266.8 L638.2 267.2 L637.7 267.3 L637.2 267.3 L636.7 267.1 L636.3 266.7 L636.2 266.2 L635.3 260.7 L634.8 260.2 L634.1 259.9 L633.3 259.9 L632.6 260.1 L632 260.6 L631.7 261.3 L632.5 266.7 L632.4 267.3 L632.2 267.7 L631.8 268.1 L631.3 268.3 L630.8 268.3 L630.3 268.1 L629.9 267.7 L629.7 267.2 L628.5 261.9 L627.9 261.4 L627.2 261.1 L626.4 261.2 L625.7 261.5 L625.1 262 L624.9 262.7 L626.1 268.1 L626.1 268.6 L625.9 269.1 L625.6 269.5 L625.1 269.8 L624.6 269.8 L624.1 269.6 L623.7 269.3 L623.4 268.8 L621.7 263.6 L621.2 263.1 L620.4 262.9 L619.6 263 L618.9 263.4 L618.4 264 L618.2 264.7 L619.8 269.9 L619.9 270.5 L619.7 271 L619.4 271.4 L619 271.7 L618.4 271.8 L617.9 271.6 L617.5 271.3 L617.2 270.9 L615.2 265.8 L614.5 265.4 L613.8 265.2 L613 265.4 L612.3 265.8 L611.9 266.4 L611.7 267.1 L613.7 272.3 L613.8 272.8 L613.7 273.3 L613.4 273.7 L613 274 L612.5 274.2 L612 274.1 L611.5 273.8 L611.2 273.4 L608.8 268.4 L608.1 268.1 L607.3 268 L606.6 268.2 L606 268.7 L605.5 269.3 L605.4 270.1 L607.8 275 L608 275.5 L607.9 276.1 L607.6 276.5 L607.2 276.9 L606.7 277 L606.2 277 L605.7 276.7 L605.4 276.3 L602.6 271.6 L601.9 271.3 L601.1 271.3 L600.4 271.5 L599.8 272 L599.4 272.7 L599.4 273.5 L602.1 278.2 L602.3 278.7 L602.3 279.3 L602.1 279.7 L601.7 280.1 L601.2 280.3 L600.7 280.3 L600.2 280.1 L599.8 279.7 L596.7 275.2 L596 274.9 L595.2 275 L594.5 275.3 L593.9 275.9 L593.6 276.6 L593.6 277.3 L596.7 281.9 L596.9 282.3 L597 282.9 L596.8 283.4 L596.4 283.8 L595.9 284 L595.4 284 L594.9 283.9 L594.5 283.5 L591 279.3 L590.3 279.1 L589.5 279.1 L588.9 279.5 L588.3 280.1 L588.1 280.8 L588.1 281.6 L591.6 285.9 L591.8 286.3 L591.9 286.9 L591.8 287.4 L591.4 287.8 L591 288.1 L590.5 288.1 L589.9 288 L589.5 287.7 L585.7 283.7 L585 283.6 L584.2 283.7 L583.6 284.1 L583.1 284.8 L582.9 285.5 L583 286.3 L586.8 290.3 L587.1 290.7 L587.2 291.2 L587.1 291.8 L586.8 292.2 L586.3 292.5 L585.8 292.6 L585.3 292.5 L584.8 292.2 L580.8 288.6 L580 288.5 L579.3 288.7 L578.7 289.2 L578.2 289.8 L578.1 290.6 L578.3 291.3 L582.3 295 L582.6 295.5 L582.8 296 L582.7 296.5 L582.5 297 L582 297.3 L581.5 297.4 L581 297.4 L580.5 297.1 L576.2 293.8 L575.4 293.7 L574.7 294 L574.1 294.5 L573.8 295.2 L573.7 296 L573.9 296.7 L578.2 300.1 L578.6 300.5 L578.8 301 L578.7 301.5 L578.5 302 L578.1 302.4 L577.6 302.6 L577.1 302.6 L576.6 302.3 L572 299.3 L571.3 299.3 L570.6 299.7 L570 300.2 L569.7 300.9 L569.7 301.7 L570 302.4 L574.5 305.5 L574.9 305.8 L575.1 306.3 L575.1 306.9 L575 307.4 L574.6 307.8 L574.1 308 L573.6 308 L573.1 307.8 L568.3 305.2 L567.5 305.2 L566.9 305.6 L566.4 306.2 L566.1 307 L566.1 307.7 L566.5 308.4 L571.2 311.1 L571.7 311.5 L571.9 311.9 L572 312.4 L571.8 313 L571.5 313.4 L571 313.6 L570.5 313.7 L570 313.6 L565 311.3 L564.3 311.4 L563.6 311.8 L563.2 312.5 L563 313.2 L563.1 314 L563.4 314.6 L568.4 317 L568.8 317.3 L569.1 317.7 L569.2 318.3 L569.1 318.8 L568.8 319.2 L568.4 319.5 L567.9 319.6 L567.3 319.5 L562.2 317.6 L561.5 317.8 L560.8 318.3 L560.4 318.9 L560.3 319.7 L560.5 320.5 L560.9 321.1 L566 323 L566.5 323.3 L566.8 323.7 L566.9 324.3 L566.9 324.8 L566.6 325.2 L566.2 325.6 L565.7 325.7 L565.1 325.7 L559.8 324.2 L559.1 324.4 L558.6 324.9 L558.2 325.6 L558.1 326.4 L558.3 327.1 L558.8 327.7 L564.1 329.3 L564.6 329.5 L564.9 329.9 L565.1 330.4 L565.1 330.9 L564.8 331.4 L564.4 331.8 L563.9 332 L563.4 332 L558 330.9 L557.3 331.1 L556.8 331.7 L556.5 332.4 L556.5 333.2 L556.8 333.9 L557.3 334.5 L562.6 335.6 L563.1 335.8 L563.5 336.2 L563.7 336.7 L563.7 337.2 L563.5 337.7 L563.2 338.1 L562.7 338.3 L562.2 338.4 L556.7 337.7 L556 338 L555.6 338.6 L555.3 339.3 L555.4 340.1 L555.7 340.8 L556.2 341.3 L561.7 342.1 L562.2 342.2 L562.6 342.6 L562.8 343.1 L562.9 343.6 L562.7 344.1 L562.4 344.5 L561.9 344.8 L561.4 344.8 L555.9 344.6 L555.3 344.9 L554.8 345.6 L554.6 346.3 L554.7 347.1 L555.1 347.8 L555.7 348.2 L561.2 348.6 L561.7 348.7 L562.1 349 L562.4 349.5 L562.5 350 L562.4 350.5 L562.1 351 L561.7 351.2 L561.1 351.4 L555.6 351.5 L555 351.9 L554.6 352.6 L554.5 353.4 L554.7 354.1 L555.1 354.8 L555.7 355.2 L561.2 355.1 L561.7 355.2 L562.2 355.5 L562.5 355.9 L562.6 356.4 L562.6 356.9 L562.3 357.4 L561.9 357.7 L561.4 357.9 L555.9 358.4 L555.3 358.9 L555 359.6 L554.9 360.4 L555.1 361.1 L555.6 361.7 L556.2 362.1 L561.7 361.6 L562.3 361.7 L562.7 361.9 L563.1 362.3 L563.2 362.8 L563.2 363.3 L563 363.8 L562.6 364.2 L562.1 364.3 L556.7 365.3 L556.1 365.8 L555.9 366.5 L555.8 367.3 L556.1 368.1 L556.6 368.6 L557.3 369 L562.7 368.1 L563.3 368.1 L563.7 368.3 L564.1 368.6 L564.3 369.1 L564.3 369.7 L564.1 370.2 L563.8 370.5 L563.3 370.8 L558 372.1 L557.5 372.7 L557.2 373.4 L557.3 374.2 L557.6 374.9 L558.2 375.4 L558.9 375.7 L564.2 374.4 L564.7 374.4 L565.2 374.5 L565.7 374.9 L565.9 375.4 L565.9 375.9 L565.8 376.4 L565.5 376.8 L565 377.1 L559.8 378.8 L559.3 379.4 L559.2 380.2 L559.3 380.9 L559.6 381.6 L560.2 382.1 L560.9 382.3 L566.2 380.6 L566.7 380.5 L567.2 380.7 L567.6 381 L567.9 381.4 L568 382 L567.9 382.5 L567.6 382.9 L567.1 383.2 L562.1 385.4 L561.7 386 L561.6 386.7 L561.7 387.5 L562.2 388.2 L562.8 388.6 L563.5 388.8 L568.6 386.7 L569.1 386.6 L569.6 386.6 L570.1 386.9 L570.4 387.4 L570.5 387.9 L570.5 388.4 L570.2 388.9 L569.8 389.2 L564.9 391.7 L564.5 392.4 L564.5 393.1 L564.7 393.9 L565.2 394.5 L565.8 394.9 L566.6 395 L571.5 392.5 L572 392.4 L572.5 392.4 L573 392.7 L573.3 393.1 L573.5 393.6 L573.5 394.1 L573.2 394.6 L572.8 394.9 L568.2 397.8 L567.9 398.5 L567.8 399.3 L568.1 400 L568.7 400.6 L569.3 400.9 L570.1 401 L574.8 398.1 L575.3 397.9 L575.8 398 L576.3 398.2 L576.7 398.5 L576.9 399 L576.9 399.6 L576.7 400.1 L576.3 400.4 L571.9 403.7 L571.6 404.4 L571.7 405.2 L572 405.9 L572.6 406.4 L573.3 406.7 L574 406.7 L578.5 403.5 L579 403.3 L579.5 403.2 L580 403.4 L580.4 403.8 L580.7 404.2 L580.7 404.8 L580.6 405.3 L580.2 405.7 L576 409.2 L575.8 410 L575.9 410.7 L576.3 411.4 L576.9 411.9 L577.7 412.1 L578.4 412.1 L582.6 408.5 L583.1 408.3 L583.6 408.2 L584.1 408.3 L584.6 408.7 L584.8 409.1 L584.9 409.6 L584.8 410.2 L584.5 410.6 L580.6 414.5 L580.5 415.2 L580.6 415.9 L581.1 416.6 L581.7 417 L582.5 417.2 L583.2 417.1 L587.1 413.3 L587.6 413 L588.1 412.9 L588.6 413 L589.1 413.2 L589.4 413.7 L589.5 414.2 L589.4 414.7 L589.1 415.2 L585.5 419.3 L585.5 420.1 L585.7 420.8 L586.2 421.4 L586.8 421.8 L587.6 421.9 L588.3 421.8 L592 417.6 L592.4 417.3 L592.9 417.2 L593.4 417.2 L593.9 417.5 L594.2 417.9 L594.4 418.4 L594.4 418.9 L594.1 419.4 L590.8 423.8 L590.8 424.5 L591.1 425.3 L591.6 425.8 L592.3 426.2 L593.1 426.3 L593.8 426 L597.1 421.6 L597.5 421.3 L598 421.1 L598.5 421.1 L599 421.3 L599.4 421.7 L599.6 422.2 L599.6 422.7 L599.4 423.2 L596.5 427.9 L596.5 428.6 L596.8 429.3 L597.4 429.8 L598.1 430.1 L598.9 430.1 L599.6 429.9 L602.6 425.2 L602.9 424.8 L603.4 424.6 L603.9 424.6 L604.4 424.8 L604.8 425.1 L605.1 425.6 L605.1 426.1 L604.9 426.6 L602.4 431.5 L602.5 432.2 L602.8 432.9 L603.5 433.4 L604.2 433.6 L605 433.6 L605.6 433.2 L608.3 428.4 L608.6 428 L609.1 427.7 L609.6 427.7 L610.1 427.8 L610.5 428.1 L610.8 428.6 L610.9 429.1 L610.7 429.6 L608.5 434.7 L608.7 435.4 L609.1 436 L609.8 436.5 L610.5 436.7 L611.3 436.5 L611.9 436.2 L614.2 431.1 L614.5 430.7 L614.9 430.4 L615.4 430.3 L616 430.4 L616.4 430.7 L616.7 431.1 L616.8 431.6 L616.7 432.2 L614.9 437.4 L615.1 438.1 L615.6 438.7 L616.3 439.1 L617.1 439.2 L617.8 439 L618.4 438.6 L620.3 433.4 L620.6 433 L621 432.6 L621.5 432.5 L622 432.5 L622.5 432.8 L622.8 433.2 L623 433.7 L622.9 434.2 L621.5 439.6 L621.8 440.3 L622.3 440.8 L623 441.2 L623.8 441.2 L624.5 441 L625.1 440.5 L626.6 435.2 L626.8 434.7 L627.2 434.4 L627.7 434.2 L628.2 434.2 L628.7 434.4 L629.1 434.8 L629.3 435.3 L629.2 435.8 L628.2 441.3 L628.5 441.9 L629.1 442.5 L629.8 442.7 L630.6 442.7 L631.3 442.5 L631.9 442 L632.9 436.6 L633.1 436.1 L633.5 435.7 L634 435.5 L634.5 435.4 L635 435.6 L635.4 436 L635.6 436.4 L635.7 437 L635.1 442.4 L635.4 443.1 L636 443.6 L636.8 443.8 L637.6 443.7 L638.3 443.4 L638.8 442.9 L639.4 437.4 L639.6 436.9 L639.9 436.5 L640.4 436.2 L640.9 436.2 L641.4 436.3 L641.8 436.6 L642.1 437.1 L642.2 437.6 L642 443.1 L642.4 443.7 L643 444.2 L643.8 444.3 L644.6 444.2 L645.2 443.8 L645.7 443.2 L645.9 437.7 L646 437.2 L646.3 436.8 L646.8 436.5 L647.3 436.4 L647.8 436.5 L648.3 436.8 L648.6 437.2 L648.7 437.7 L648.9 443.2 L649.4 443.8 L650 444.2 L650.8 444.3 L651.6 444.2 L652.2 443.7 L652.6 443.1 L652.4 437.6 L652.5 437.1 L652.8 436.6 L653.2 436.3 L653.7 436.2 L654.2 436.2 L654.7 436.5 L655 436.9 L655.2 437.4 L655.8 442.9 L656.3 443.4 L657 443.7 L657.8 443.8 L658.6 443.6 L659.2 443.1 L659.5 442.4 L658.9 437 L659 436.4 L659.2 436 L659.6 435.6 L660.1 435.4 L660.6 435.5 L661.1 435.7 L661.5 436.1 L661.7 436.6 L662.7 442 L663.3 442.5 L664 442.7 L664.8 442.7 L665.5 442.5 L666.1 441.9 L666.4 441.3 L665.4 435.8 L665.3 435.3 L665.5 434.8 L665.9 434.4 L666.4 434.2 L666.9 434.2 L667.4 434.4 L667.8 434.7 L668 435.2 L669.5 440.5 L670.1 441 L670.8 441.2 L671.6 441.2 L672.3 440.8 L672.8 440.3 L673.1 439.6 L671.7 434.2 L671.6 433.7 L671.8 433.2 L672.1 432.8 L672.6 432.5 L673.1 432.5 L673.6 432.6 L674 433 L674.3 433.4 L676.2 438.6 L676.8 439 L677.5 439.2 L678.3 439.1 L679 438.7 L679.5 438.1 L679.7 437.4 L677.9 432.2 L677.8 431.6 L677.9 431.1 L678.2 430.7 L678.6 430.4 L679.2 430.3 L679.7 430.4 L680.1 430.7 L680.4 431.1 L682.7 436.2 L683.3 436.5 L684.1 436.7 L684.8 436.5 L685.5 436 L685.9 435.4 L686.1 434.7 L683.9 429.6 L683.7 429.1 L683.8 428.6 L684.1 428.1 L684.5 427.8 L685 427.7 L685.5 427.7 L686 428 L686.3 428.4 L689 433.2 L689.6 433.6 L690.4 433.6 L691.1 433.4 L691.8 432.9 L692.1 432.2 L692.2 431.5 L689.7 426.6 L689.5 426.1 L689.5 425.6 L689.8 425.1 L690.2 424.8 L690.7 424.6 L691.2 424.6 L691.7 424.8 L692 425.2 L695 429.9 L695.7 430.1 L696.5 430.1 L697.2 429.8 L697.8 429.3 L698.1 428.6 L698.1 427.9 L695.2 423.2 L695 422.7 L695 422.2 L695.2 421.7 L695.6 421.3 L696.1 421.1 L696.6 421.1 L697.1 421.3 L697.5 421.6 L700.8 426 L701.5 426.3 L702.3 426.2 L703 425.8 L703.5 425.3 L703.8 424.5 L703.8 423.8 L700.5 419.4 L700.2 418.9 L700.2 418.4 L700.4 417.9 L700.7 417.5 L701.2 417.2 L701.7 417.2 L702.2 417.3 L702.6 417.6 L706.3 421.8 L707 421.9 L707.8 421.8 L708.4 421.4 L708.9 420.8 L709.1 420.1 L709.1 419.3 L705.5 415.2 L705.2 414.7 L705.1 414.2 L705.2 413.7 L705.5 413.2 L706 413 L706.5 412.9 L707 413 L707.5 413.3 L711.4 417.1 L712.1 417.2 L712.9 417 L713.5 416.6 L714 415.9 L714.1 415.2 L714 414.5 L710.1 410.6 L709.8 410.2 L709.7 409.6 L709.8 409.1 L710 408.7 L710.5 408.3 L711 408.2 L711.5 408.3 L712 408.5 L716.2 412.1 L716.9 412.1 L717.7 411.9 L718.3 411.4 L718.7 410.7 L718.8 410 L718.6 409.2 L714.4 405.7 L714 405.3 L713.9 404.8 L713.9 404.2 L714.2 403.8 L714.6 403.4 L715.1 403.2 L715.6 403.3 L716.1 403.5 L720.6 406.7 L721.3 406.7 L722 406.4 L722.6 405.9 L722.9 405.2 L723 404.4 L722.7 403.7 L718.3 400.4 L717.9 400.1 L717.7 399.6 L717.7 399 L717.9 398.5 L718.3 398.2 L718.8 398 L719.3 397.9 L719.8 398.1 L724.5 401 L725.3 400.9 L725.9 400.6 L726.5 400 L726.8 399.3 L726.7 398.5 L726.4 397.8 L721.8 394.9 L721.4 394.6 L721.1 394.1 L721.1 393.6 L721.3 393.1 L721.6 392.7 L722.1 392.4 L722.6 392.4 L723.1 392.5 L728 395 L728.8 394.9 L729.4 394.5 L729.9 393.9 L730.1 393.1 L730.1 392.4 L729.7 391.7 L724.8 389.2 L724.4 388.9 L724.1 388.4 L724.1 387.9 L724.2 387.4 L724.5 386.9 L725 386.6 L725.5 386.6 L726 386.7 L731.1 388.8 L731.8 388.6 L732.4 388.2 L732.9 387.5 L733 386.7 L732.9 386 L732.5 385.4 L727.5 383.2 L727 382.9 L726.7 382.5 L726.6 382 L726.7 381.4 L727 381 L727.4 380.7 L727.9 380.5 L728.4 380.6 L733.7 382.3 L734.4 382.1 L735 381.6 L735.3 380.9 L735.4 380.2 L735.3 379.4 L734.8 378.8 L729.6 377.1 L729.1 376.8 L728.8 376.4 L728.7 375.9 L728.7 375.4 L728.9 374.9 L729.4 374.5 L729.9 374.4 L730.4 374.4 L735.7 375.7 L736.4 375.4 L737 374.9 L737.3 374.2 L737.4 373.4 L737.1 372.7 L736.6 372.1 L731.3 370.8 L730.8 370.5 L730.5 370.2 L730.3 369.7 L730.3 369.1 L730.5 368.6 L730.9 368.3 L731.3 368.1 L731.9 368.1 L737.3 369 L738 368.6 L738.5 368.1 L738.8 367.3 L738.7 366.5 L738.5 365.8 L737.9 365.3 L732.5 364.3 L732 364.2 L731.6 363.8 L731.4 363.3 L731.4 362.8 L731.5 362.3 L731.9 361.9 L732.3 361.7 L732.9 361.6 L738.4 362.1 L739 361.7 L739.5 361.1 L739.7 360.4 L739.6 359.6 L739.3 358.9 L738.7 358.4 L733.2 357.9 L732.7 357.7 L732.3 357.4 L732 356.9 L732 356.4 L732.1 355.9 L732.4 355.5 L732.9 355.2 L733.4 355.1 L738.9 355.2 L739.5 354.8 L739.9 354.1 L740.1 353.4 L740 352.6 L739.6 351.9 L739 351.5 L733.5 351.4 L732.9 351.2 L732.5 351 L732.2 350.5 L732.1 350 L732.2 349.5 L732.5 349 L732.9 348.7 L733.4 348.6 L738.9 348.2 L739.5 347.8 L739.9 347.1 L740 346.3 L739.8 345.6 L739.3 344.9 L738.7 344.6 L733.2 344.8 L732.7 344.8 L732.2 344.5 L731.9 344.1 L731.7 343.6 L731.8 343.1 L732 342.6 L732.4 342.2 L732.9 342.1 L738.4 341.3 L738.9 340.8 L739.2 340.1 L739.3 339.3 L739 338.6 L738.6 338 L737.9 337.7 L732.4 338.4 L731.9 338.3 L731.4 338.1 L731.1 337.7 L730.9 337.2 L730.9 336.7 L731.1 336.2 L731.5 335.8 L732 335.6 L737.3 334.5 L737.8 333.9 L738.1 333.2 L738.1 332.4 L737.8 331.7 L737.3 331.1 L736.6 330.9 L731.2 332 L730.7 332 L730.2 331.8 L729.8 331.4 L729.5 330.9 L729.5 330.4 L729.7 329.9 L730 329.5 L730.5 329.3 L735.8 327.7 L736.3 327.1 L736.5 326.4 L736.4 325.6 L736 324.9 L735.5 324.4 L734.8 324.2 L729.5 325.7 L728.9 325.7 L728.4 325.6 L728 325.2 L727.7 324.8 L727.7 324.3 L727.8 323.7 L728.1 323.3 L728.6 323 L733.7 321.1 L734.1 320.5 L734.3 319.7 L734.2 318.9 L733.8 318.3 L733.1 317.8 L732.4 317.6 L727.3 319.5 L726.7 319.6 L726.2 319.5 L725.8 319.2 L725.5 318.8 L725.4 318.3 L725.5 317.7 L725.8 317.3 L726.2 317 L731.2 314.6 L731.5 314 L731.6 313.2 L731.4 312.5 L731 311.8 L730.3 311.4 L729.6 311.3 L724.6 313.6 L724.1 313.7 L723.6 313.6 L723.1 313.4 L722.8 313 L722.6 312.4 L722.7 311.9 L722.9 311.5 L723.4 311.1 L728.1 308.4 L728.5 307.7 L728.5 307 L728.2 306.2 L727.7 305.6 L727.1 305.2 L726.3 305.2 L721.5 307.8 L721 308 L720.5 308 L720 307.8 L719.6 307.4 L719.5 306.9 L719.5 306.3 L719.7 305.8 L720.1 305.5 L724.6 302.4 L724.9 301.7 L724.9 300.9 L724.6 300.2 L724 299.7 L723.3 299.3 L722.6 299.3 L718 302.3 L717.5 302.6 L717 302.6 L716.5 302.4 L716.1 302 L715.9 301.5 L715.8 301 L716 300.5 L716.4 300.1 L720.7 296.7 L720.9 296 L720.8 295.2 L720.5 294.5 L719.9 294 L719.2 293.7 L718.4 293.8 L714.1 297.1 L713.6 297.4 L713.1 297.4 L712.6 297.3 L712.1 297 L711.9 296.5 L711.8 296 L712 295.5 L712.3 295 L716.3 291.3 L716.5 290.6 L716.4 289.8 L715.9 289.2 L715.3 288.7 L714.6 288.5 L713.8 288.6 L709.8 292.2 L709.3 292.5 L708.8 292.6 L708.3 292.5 L707.8 292.2 L707.5 291.8 L707.4 291.2 L707.5 290.7 L707.8 290.3 L711.6 286.3 L711.7 285.5 L711.5 284.8 L711 284.1 L710.4 283.7 L709.6 283.6 L708.9 283.7 L705.1 287.7 L704.7 288 L704.1 288.1 L703.6 288.1 L703.2 287.8 L702.8 287.4 L702.7 286.9 L702.8 286.3 L703 285.9 L706.5 281.6 L706.5 280.8 L706.3 280.1 L705.7 279.5 L705.1 279.1 L704.3 279.1 L703.6 279.3 L700.1 283.5 L699.7 283.9 L699.2 284 L698.7 284 L698.2 283.8 L697.8 283.4 L697.6 282.9 L697.7 282.3 L697.9 281.9 L701 277.3 L701 276.6 L700.7 275.9 L700.1 275.3 L699.4 275 L698.6 274.9 L697.9 275.2 L694.8 279.7 L694.4 280.1 L693.9 280.3 L693.4 280.3 L692.9 280.1 L692.5 279.7 L692.3 279.3 L692.3 278.7 L692.5 278.2 L695.2 273.5 L695.2 272.7 L694.8 272 L694.2 271.5 L693.5 271.3 L692.7 271.3 L692 271.6 L689.2 276.3 L688.9 276.7 L688.4 277 L687.9 277 L687.4 276.9 L687 276.5 L686.7 276.1 L686.6 275.5 L686.8 275 L689.2 270.1 L689.1 269.3 L688.6 268.7 L688 268.2 L687.3 268 L686.5 268.1 L685.8 268.4 L683.4 273.4 L683.1 273.8 L682.6 274.1 L682.1 274.2 L681.6 274 L681.2 273.7 L680.9 273.3 L680.8 272.8 L680.9 272.3 L682.9 267.1 L682.7 266.4 L682.3 265.8 L681.6 265.4 L680.8 265.2 L680.1 265.4 L679.4 265.8 L677.4 270.9 L677.1 271.3 L676.7 271.6 L676.2 271.8 L675.6 271.7 L675.2 271.4 L674.9 271 L674.7 270.5 L674.8 269.9 L676.4 264.7 L676.2 264 L675.7 263.4 L675 263 L674.2 262.9 L673.4 263.1 L672.9 263.6 L671.2 268.8 L670.9 269.3 L670.5 269.6 L670 269.8 L669.5 269.8 L669 269.5 L668.7 269.1 L668.5 268.6 L668.5 268.1 L669.7 262.7 L669.5 262 L668.9 261.5 L668.2 261.2 L667.4 261.1 L666.7 261.4 L666.1 261.9 L664.9 267.2 L664.7 267.7 L664.3 268.1 L663.8 268.3 L663.3 268.3 L662.8 268.1 L662.4 267.7 L662.2 267.3 L662.1 266.7 L662.9 261.3 L662.6 260.6 L662 260.1 L661.3 259.9 L660.5 259.9 L659.8 260.2 L659.3 260.7 L658.4 266.2 L658.3 266.7 L657.9 267.1 L657.4 267.3 L656.9 267.3 L656.4 267.2 L656 266.8 L655.7 266.4 L655.7 265.8 L656.1 260.4 L655.7 259.7 L655.1 259.3 L654.3 259.1 L653.5 259.2 L652.9 259.5 L652.4 260.1 L651.9 265.6 L651.8 266.1 L651.5 266.5 L651 266.8Z M644.7 275.6 L641.4 275.8 L638.2 276.1 L634.9 276.6 L631.7 277.2 L628.5 277.9 L625.4 278.8 L622.3 279.8 L619.2 281 L616.2 282.2 L613.3 283.6 L610.4 285.2 L607.6 286.8 L604.8 288.6 L602.1 290.5 L599.5 292.5 L597 294.6 L594.6 296.8 L592.3 299.1 L590.1 301.5 L588 304 L586 306.6 L584.2 309.3 L582.4 312.1 L580.8 314.9 L579.2 317.8 L577.8 320.7 L624.2 337.6 L624.8 336.6 L625.5 335.7 L626.2 334.7 L627 333.8 L627.7 333 L628.6 332.2 L629.4 331.4 L630.3 330.6 L631.2 329.9 L632.2 329.2 L633.2 328.6 L634.2 328 L635.2 327.5 L636.3 327 L637.4 326.5 L638.5 326.1 L639.6 325.7 L640.7 325.4 L641.8 325.2 L643 324.9Z M574.3 330.6 L573.4 333.8 L572.7 337 L572.2 340.2 L571.7 343.4 L571.5 346.7 L571.3 349.9 L571.3 353.2 L571.5 356.5 L571.7 359.7 L572.2 363 L572.7 366.2 L573.4 369.4 L574.2 372.5 L575.2 375.7 L576.3 378.7 L577.5 381.8 L578.9 384.7 L580.4 387.7 L582 390.5 L583.7 393.3 L585.6 396 L587.6 398.6 L589.6 401.1 L591.8 403.5 L594.1 405.9 L596.5 408.1 L626.9 369.2 L626.1 368.3 L625.4 367.4 L624.7 366.4 L624.1 365.5 L623.5 364.4 L623 363.4 L622.5 362.3 L622.1 361.3 L621.7 360.2 L621.3 359 L621 357.9 L620.8 356.8 L620.6 355.6 L620.5 354.5 L620.4 353.3 L620.3 352.1 L620.3 351 L620.4 349.8 L620.5 348.6 L620.6 347.5Z M604.8 414.6 L607.5 416.3 L610.3 418 L613.2 419.5 L616.2 420.9 L619.2 422.2 L622.2 423.4 L625.3 424.4 L628.5 425.2 L631.7 426 L634.9 426.6 L638.1 427 L641.4 427.4 L644.6 427.6 L647.9 427.6 L651.2 427.5 L654.4 427.3 L657.7 426.9 L660.9 426.4 L664.1 425.7 L667.3 424.9 L670.4 424 L673.5 422.9 L676.6 421.7 L679.6 420.4 L682.5 419 L685.3 417.4 L657.8 376.5 L656.7 376.9 L655.6 377.3 L654.4 377.6 L653.3 377.9 L652.2 378.2 L651 378.3 L649.9 378.5 L648.7 378.6 L647.5 378.6 L646.4 378.6 L645.2 378.5 L644 378.4 L642.9 378.2 L641.7 378 L640.6 377.8 L639.5 377.4 L638.4 377.1 L637.3 376.7 L636.2 376.2 L635.1 375.7Z M694 411.5 L696.6 409.5 L699 407.3 L701.4 405 L703.6 402.6 L705.8 400.2 L707.8 397.6 L709.7 395 L711.5 392.2 L713.2 389.4 L714.8 386.6 L716.2 383.6 L717.5 380.6 L718.7 377.6 L719.8 374.5 L720.7 371.4 L721.5 368.2 L722.1 365 L722.6 361.8 L723 358.5 L723.2 355.2 L723.3 352 L723.2 348.7 L723.1 345.4 L722.7 342.2 L722.2 339 L721.6 335.7 L674.2 349.3 L674.3 350.5 L674.3 351.7 L674.3 352.8 L674.2 354 L674.1 355.2 L673.9 356.3 L673.7 357.5 L673.4 358.6 L673 359.7 L672.7 360.8 L672.2 361.9 L671.8 363 L671.3 364 L670.7 365.1 L670.1 366.1 L669.5 367 L668.8 368 L668 368.9 L667.3 369.8 L666.5 370.6Z M718.7 325.7 L717.6 322.6 L716.2 319.6 L714.8 316.7 L713.2 313.8 L711.6 311 L709.7 308.3 L707.8 305.6 L705.8 303.1 L703.7 300.6 L701.4 298.2 L699.1 296 L696.6 293.8 L694.1 291.7 L691.5 289.8 L688.8 287.9 L686 286.2 L683.1 284.6 L680.2 283.1 L677.3 281.8 L674.2 280.5 L671.1 279.4 L668 278.5 L664.9 277.7 L661.7 277 L658.4 276.4 L655.2 276 L653.5 325.3 L654.6 325.6 L655.7 325.9 L656.8 326.3 L657.9 326.8 L659 327.3 L660 327.8 L661 328.4 L662 329 L663 329.6 L663.9 330.3 L664.8 331.1 L665.7 331.8 L666.5 332.7 L667.3 333.5 L668.1 334.4 L668.8 335.3 L669.5 336.2 L670.2 337.2 L670.8 338.2 L671.3 339.3Z" fill="#b2b2b2" fill-rule="evenodd" stroke="#1e1e1e" stroke-width="1.5"/>
<circle cx="647.3" cy="351.6" r="29" fill="#b2b2b2" stroke="#1e1e1e" stroke-width="1.5" />
<circle cx="647.3" cy="351.6" r="11.7" fill="none" stroke="#1e1e1e" stroke-width="1.4" />
<circle cx="647.3" cy="351.6" r="6.2" fill="#1e1e1e" stroke="none" stroke-width="1.2" />
<path d="M644.9 352 L645.3 262 L647 242.5 L648.9 262 L649.5 352Z" fill="#1e1e1e"/>
<circle cx="748.2" cy="351.5" r="14.5" fill="#b2b2b2" stroke="#1e1e1e" stroke-width="1.3" />
<path d="M749.7 346.7 L749 342.1 L747.4 342.1 L746.7 346.7 L746.6 346.8 L743.4 343.4 L742 344.4 L744.2 348.5 L744.1 348.6 L739.5 347.8 L739 349.4 L743.2 351.4 L743.2 351.6 L739 353.6 L739.5 355.2 L744.1 354.4 L744.2 354.5 L742 358.6 L743.4 359.6 L746.6 356.2 L746.7 356.3 L747.4 360.9 L749 360.9 L749.7 356.3 L749.8 356.2 L753 359.6 L754.4 358.6 L752.2 354.5 L752.3 354.4 L756.9 355.2 L757.4 353.6 L753.2 351.6 L753.2 351.4 L757.4 349.4 L756.9 347.8 L752.3 348.6 L752.2 348.5 L754.4 344.4 L753 343.4 L749.8 346.8Z" fill="#b2b2b2" stroke="#1e1e1e" stroke-width="1.2" stroke-linejoin="round"/>
<circle cx="748.2" cy="351.5" r="3.3" fill="none" stroke="#1e1e1e" stroke-width="1.2" />
<path d="M817 303.5 L831.8 288.6 L836 287.8 L843 294.5 L843.3 301 L837.2 308.2 L840.7 316.3 L845.2 330 L848.9 340.4 L854.5 345 L870 345.6 L903 346.2 L903 353.6 L870 356.4 L854.5 358.5 L848.9 361.3 L846.9 371.7 L847.6 380 L854.5 385 L855.9 389.8 L854.5 396.8 L851 399.5 L845 398.5 L834 393.5 L833 384.2 L839.9 375.9 L839.2 366.2 L836.1 343.9 L836.4 330 L836.3 325.2 L831.4 315.4 L826 311.4 L818 308Z" fill="#b2b2b2" stroke="#1e1e1e" stroke-width="1.4" stroke-linejoin="round"/>
<path d="M807.7 317.2 L833.2 292.6 L838.5 298 L817.5 318.5Z" fill="#b2b2b2" stroke="#1e1e1e" stroke-width="1.3" stroke-linejoin="round"/>
<path d="M816.3 380 L850.3 387.7 L848.9 395.4 L819.7 388.4Z" fill="#b2b2b2" stroke="#1e1e1e" stroke-width="1.3" stroke-linejoin="round"/>
<circle cx="848.1" cy="352.1" r="7.3" fill="#b2b2b2" stroke="#1e1e1e" stroke-width="1.3" />
<circle cx="848.1" cy="352.1" r="2.8" fill="none" stroke="#1e1e1e" stroke-width="1.1" />
<circle cx="901" cy="349.3" r="4.6" fill="#b2b2b2" stroke="#1e1e1e" stroke-width="1.2" />
<circle cx="900.2" cy="349.5" r="2" fill="none" stroke="#1e1e1e" stroke-width="1.1" />
<circle cx="923.7" cy="352" r="21" fill="#b2b2b2" stroke="#1e1e1e" stroke-width="1.3" />
<circle cx="923.5" cy="351.8" r="12.5" fill="none" stroke="#1e1e1e" stroke-width="1.3" stroke-dasharray="1.3 1.9"/>
<circle cx="924.2" cy="352.5" r="3.4" fill="none" stroke="#1e1e1e" stroke-width="1.1" />
<ellipse cx="911" cy="348.5" rx="2.1" ry="4" fill="none" stroke="#1e1e1e" stroke-width="1.2" transform="rotate(22 911 348.5)"/>
<path d="M833 685.8 L833.1 683.9 L833.3 683.2 L833.8 682.5 L834.4 682 L835.2 681.8 L836.5 681.8 L837.7 681.8 L839 681.7 L840.3 681.7 L841.6 681.5 L842.8 681.4 L844.1 681.1 L845.4 680.9 L846.7 680.5 L847.9 680 L849.2 679.3 L850.4 677.6 L849 676.1 L847.7 675.5 L846.4 675.2 L845.1 674.9 L843.8 674.8 L842.5 674.7 L841.2 674.7 L839.9 674.7 L838.7 674.7 L837.4 674.8 L836.1 674.9 L834.8 675 L834.1 674.9 L833.4 674.5 L832.8 673.9 L832.6 673.2 L832.2 671.3 L831.8 669.5 L831.8 668.7 L832 667.9 L832.5 667.3 L833.2 666.9 L834.4 666.5 L835.7 666.1 L836.9 665.7 L838.1 665.3 L839.3 664.8 L840.4 664.3 L841.6 663.7 L842.7 663.1 L843.9 662.4 L844.9 661.5 L845.9 660.5 L846.6 658.6 L844.9 657.5 L843.5 657.3 L842.1 657.3 L840.8 657.5 L839.5 657.7 L838.2 658 L837 658.3 L835.8 658.7 L834.5 659.1 L833.3 659.5 L832.2 660 L831 660.5 L830.2 660.6 L829.4 660.4 L828.7 659.9 L828.3 659.3 L827.4 657.6 L826.5 656 L826.3 655.2 L826.3 654.4 L826.6 653.7 L827.1 653.1 L828.2 652.4 L829.3 651.7 L830.3 650.9 L831.3 650.2 L832.3 649.4 L833.3 648.6 L834.3 647.7 L835.2 646.7 L836.1 645.7 L836.8 644.6 L837.5 643.4 L837.6 641.3 L835.7 640.8 L834.2 641 L832.9 641.4 L831.7 641.9 L830.5 642.5 L829.4 643.1 L828.3 643.8 L827.2 644.5 L826.2 645.2 L825.2 646 L824.2 646.8 L823.2 647.6 L822.4 647.9 L821.6 647.9 L820.9 647.7 L820.2 647.2 L818.9 645.8 L817.6 644.5 L817.2 643.9 L816.9 643.1 L817 642.3 L817.4 641.6 L818.2 640.6 L819 639.6 L819.8 638.6 L820.6 637.6 L821.3 636.5 L822 635.5 L822.7 634.4 L823.3 633.2 L823.9 632 L824.3 630.7 L824.6 629.3 L824.2 627.3 L822.1 627.4 L820.8 628 L819.7 628.7 L818.6 629.6 L817.7 630.4 L816.8 631.4 L815.9 632.3 L815.1 633.3 L814.3 634.3 L813.5 635.3 L812.7 636.3 L812 637.4 L811.4 637.9 L810.7 638.2 L809.8 638.2 L809.1 637.9 L807.5 636.9 L805.8 636 L805.2 635.5 L804.8 634.8 L804.6 634 L804.8 633.3 L805.3 632.1 L805.8 630.9 L806.3 629.7 L806.8 628.5 L807.2 627.3 L807.5 626.1 L807.9 624.8 L808.1 623.6 L808.3 622.3 L808.4 620.9 L808.3 619.5 L807.3 617.7 L805.3 618.3 L804.3 619.3 L803.4 620.3 L802.6 621.4 L801.9 622.5 L801.3 623.6 L800.8 624.8 L800.2 626 L799.8 627.2 L799.3 628.3 L798.9 629.5 L798.5 630.8 L798 631.4 L797.4 631.9 L796.6 632.1 L795.8 632 L794 631.6 L792.1 631.2 L791.4 630.9 L790.8 630.3 L790.4 629.6 L790.4 628.8 L790.5 627.6 L790.7 626.3 L790.8 625 L790.9 623.8 L791 622.5 L791 621.2 L791 619.9 L790.9 618.6 L790.7 617.3 L790.4 616 L789.8 614.6 L788.4 613.2 L786.7 614.3 L785.9 615.6 L785.4 616.8 L784.9 618.1 L784.6 619.3 L784.3 620.6 L784.1 621.9 L784 623.1 L783.8 624.4 L783.7 625.7 L783.6 626.9 L783.6 628.2 L783.4 629 L782.9 629.6 L782.2 630 L781.4 630.2 L779.5 630.3 L777.7 630.4 L776.9 630.3 L776.1 630 L775.6 629.4 L775.3 628.7 L775.1 627.4 L774.9 626.1 L774.6 624.9 L774.4 623.6 L774.1 622.4 L773.7 621.1 L773.3 619.9 L772.9 618.7 L772.3 617.5 L771.6 616.3 L770.8 615.2 L769 614.2 L767.6 615.8 L767.3 617.2 L767.1 618.5 L767 619.8 L767.1 621.1 L767.2 622.4 L767.3 623.7 L767.5 625 L767.8 626.2 L768 627.5 L768.3 628.7 L768.6 630 L768.6 630.8 L768.3 631.5 L767.8 632.1 L767.1 632.5 L765.3 633.1 L763.5 633.7 L762.7 633.9 L761.9 633.8 L761.2 633.4 L760.8 632.7 L760.2 631.6 L759.7 630.4 L759.1 629.3 L758.5 628.2 L757.8 627.1 L757.2 626 L756.4 624.9 L755.6 623.9 L754.8 622.9 L753.8 621.9 L752.6 621.1 L750.6 620.6 L749.8 622.5 L749.8 624 L750 625.3 L750.4 626.6 L750.8 627.8 L751.2 629.1 L751.7 630.2 L752.3 631.4 L752.9 632.5 L753.5 633.7 L754.1 634.8 L754.7 635.9 L755 636.6 L754.9 637.4 L754.5 638.2 L754 638.7 L752.4 639.8 L750.9 640.9 L750.2 641.3 L749.4 641.4 L748.6 641.2 L748 640.7 L747.1 639.8 L746.3 638.8 L745.4 637.9 L744.5 637 L743.6 636.1 L742.6 635.3 L741.6 634.4 L740.6 633.7 L739.4 632.9 L738.2 632.3 L736.9 631.8 L734.8 632 L734.6 634 L735 635.4 L735.6 636.6 L736.3 637.8 L737 638.9 L737.8 639.9 L738.6 640.9 L739.5 641.8 L740.3 642.8 L741.2 643.7 L742.1 644.6 L743.1 645.5 L743.5 646.1 L743.7 646.9 L743.5 647.7 L743.1 648.4 L742 649.9 L740.8 651.4 L740.3 651.9 L739.5 652.2 L738.7 652.3 L738 652 L736.9 651.3 L735.8 650.7 L734.7 650 L733.6 649.4 L732.4 648.8 L731.3 648.3 L730.1 647.8 L728.8 647.3 L727.6 646.9 L726.2 646.7 L724.8 646.6 L722.9 647.3 L723.2 649.4 L724 650.6 L724.9 651.6 L725.9 652.5 L726.9 653.3 L728 654.1 L729 654.8 L730.1 655.5 L731.2 656.1 L732.3 656.7 L733.4 657.3 L734.6 657.9 L735.2 658.4 L735.6 659.2 L735.7 660 L735.5 660.7 L734.8 662.5 L734.1 664.2 L733.7 664.9 L733.1 665.4 L732.3 665.7 L731.5 665.7 L730.3 665.3 L729.1 665 L727.8 664.7 L726.6 664.4 L725.3 664.2 L724.1 664 L722.8 663.8 L721.5 663.7 L720.1 663.7 L718.8 663.8 L717.4 664.2 L715.7 665.4 L716.6 667.3 L717.8 668.2 L718.9 668.9 L720.1 669.5 L721.3 670 L722.5 670.5 L723.7 670.8 L725 671.2 L726.2 671.5 L727.5 671.8 L728.7 672 L730 672.3 L730.7 672.6 L731.2 673.2 L731.6 673.9 L731.6 674.7 L731.4 676.6 L731.3 678.5 L731.1 679.2 L730.6 679.9 L730 680.4 L729.2 680.6 L727.9 680.6 L726.7 680.6 L725.4 680.7 L724.1 680.7 L722.8 680.9 L721.6 681 L720.3 681.3 L719 681.5 L717.7 681.9 L716.5 682.4 L715.2 683.1 L714 684.8 L715.4 686.3 L716.7 686.9 L718 687.2 L719.3 687.5 L720.6 687.6 L721.9 687.7 L723.2 687.7 L724.5 687.7 L725.7 687.7 L727 687.6 L728.3 687.5 L729.6 687.4 L730.3 687.5 L731 687.9 L731.6 688.5 L731.8 689.2 L732.2 691.1 L732.6 692.9 L732.6 693.7 L732.4 694.5 L731.9 695.1 L731.2 695.5 L730 695.9 L728.7 696.3 L727.5 696.7 L726.3 697.1 L725.1 697.6 L724 698.1 L722.8 698.7 L721.7 699.3 L720.5 700 L719.5 700.9 L718.5 701.9 L717.8 703.8 L719.5 704.9 L720.9 705.1 L722.3 705.1 L723.6 704.9 L724.9 704.7 L726.2 704.4 L727.4 704.1 L728.6 703.7 L729.9 703.3 L731.1 702.9 L732.2 702.4 L733.4 701.9 L734.2 701.8 L735 702 L735.7 702.5 L736.1 703.1 L737 704.8 L737.9 706.4 L738.1 707.2 L738.1 708 L737.8 708.7 L737.3 709.3 L736.2 710 L735.1 710.7 L734.1 711.5 L733.1 712.2 L732.1 713 L731.1 713.8 L730.1 714.7 L729.2 715.7 L728.3 716.7 L727.6 717.8 L726.9 719 L726.8 721.1 L728.7 721.6 L730.2 721.4 L731.5 721 L732.7 720.5 L733.9 719.9 L735 719.3 L736.1 718.6 L737.2 717.9 L738.2 717.2 L739.2 716.4 L740.2 715.6 L741.2 714.8 L742 714.5 L742.8 714.5 L743.5 714.7 L744.2 715.2 L745.5 716.6 L746.8 717.9 L747.2 718.5 L747.5 719.3 L747.4 720.1 L747 720.8 L746.2 721.8 L745.4 722.8 L744.6 723.8 L743.8 724.8 L743.1 725.9 L742.4 726.9 L741.7 728 L741.1 729.2 L740.5 730.4 L740.1 731.7 L739.8 733.1 L740.2 735.1 L742.3 735 L743.6 734.4 L744.7 733.7 L745.8 732.8 L746.7 732 L747.6 731 L748.5 730.1 L749.3 729.1 L750.1 728.1 L750.9 727.1 L751.7 726.1 L752.4 725 L753 724.5 L753.7 724.2 L754.6 724.2 L755.3 724.5 L756.9 725.5 L758.6 726.4 L759.2 726.9 L759.6 727.6 L759.8 728.4 L759.6 729.1 L759.1 730.3 L758.6 731.5 L758.1 732.7 L757.6 733.9 L757.2 735.1 L756.9 736.3 L756.5 737.6 L756.3 738.8 L756.1 740.1 L756 741.5 L756.1 742.9 L757.1 744.7 L759.1 744.1 L760.1 743.1 L761 742.1 L761.8 741 L762.5 739.9 L763.1 738.8 L763.6 737.6 L764.2 736.4 L764.6 735.2 L765.1 734.1 L765.5 732.9 L765.9 731.6 L766.4 731 L767 730.5 L767.8 730.3 L768.6 730.4 L770.4 730.8 L772.3 731.2 L773 731.5 L773.6 732.1 L774 732.8 L774 733.6 L773.9 734.8 L773.7 736.1 L773.6 737.4 L773.5 738.6 L773.4 739.9 L773.4 741.2 L773.4 742.5 L773.5 743.8 L773.7 745.1 L774 746.4 L774.6 747.8 L776 749.2 L777.7 748.1 L778.5 746.8 L779 745.6 L779.5 744.3 L779.8 743.1 L780.1 741.8 L780.3 740.5 L780.4 739.3 L780.6 738 L780.7 736.7 L780.8 735.5 L780.8 734.2 L781 733.4 L781.5 732.8 L782.2 732.4 L783 732.2 L784.9 732.1 L786.7 732 L787.5 732.1 L788.3 732.4 L788.8 733 L789.1 733.7 L789.3 735 L789.5 736.3 L789.8 737.5 L790 738.8 L790.3 740 L790.7 741.3 L791.1 742.5 L791.5 743.7 L792.1 744.9 L792.8 746.1 L793.6 747.2 L795.4 748.2 L796.8 746.6 L797.1 745.2 L797.3 743.9 L797.4 742.6 L797.3 741.3 L797.2 740 L797.1 738.7 L796.9 737.4 L796.6 736.2 L796.4 734.9 L796.1 733.7 L795.8 732.4 L795.8 731.6 L796.1 730.9 L796.6 730.3 L797.3 729.9 L799.1 729.3 L800.9 728.7 L801.7 728.5 L802.5 728.6 L803.2 729 L803.6 729.7 L804.2 730.8 L804.7 732 L805.3 733.1 L805.9 734.2 L806.6 735.3 L807.2 736.4 L808 737.5 L808.8 738.5 L809.6 739.5 L810.6 740.5 L811.8 741.3 L813.8 741.8 L814.6 739.9 L814.6 738.4 L814.4 737.1 L814 735.8 L813.6 734.6 L813.2 733.3 L812.7 732.2 L812.1 731 L811.5 729.9 L810.9 728.7 L810.3 727.6 L809.7 726.5 L809.4 725.8 L809.5 725 L809.9 724.2 L810.4 723.7 L812 722.6 L813.5 721.5 L814.2 721.1 L815 721 L815.8 721.2 L816.4 721.7 L817.3 722.6 L818.1 723.6 L819 724.5 L819.9 725.4 L820.8 726.3 L821.8 727.1 L822.8 728 L823.8 728.7 L825 729.5 L826.2 730.1 L827.5 730.6 L829.6 730.4 L829.8 728.4 L829.4 727 L828.8 725.8 L828.1 724.6 L827.4 723.5 L826.6 722.5 L825.8 721.5 L824.9 720.6 L824.1 719.6 L823.2 718.7 L822.3 717.8 L821.3 716.9 L820.9 716.3 L820.7 715.5 L820.9 714.7 L821.3 714 L822.4 712.5 L823.6 711 L824.1 710.5 L824.9 710.2 L825.7 710.1 L826.4 710.4 L827.5 711.1 L828.6 711.7 L829.7 712.4 L830.8 713 L832 713.6 L833.1 714.1 L834.3 714.6 L835.6 715.1 L836.8 715.5 L838.2 715.7 L839.6 715.8 L841.5 715.1 L841.2 713 L840.4 711.8 L839.5 710.8 L838.5 709.9 L837.5 709.1 L836.4 708.3 L835.4 707.6 L834.3 706.9 L833.2 706.3 L832.1 705.7 L831 705.1 L829.8 704.5 L829.2 704 L828.8 703.2 L828.7 702.4 L828.9 701.7 L829.6 699.9 L830.3 698.2 L830.7 697.5 L831.3 697 L832.1 696.7 L832.9 696.7 L834.1 697.1 L835.3 697.4 L836.6 697.7 L837.8 698 L839.1 698.2 L840.3 698.4 L841.6 698.6 L842.9 698.7 L844.3 698.7 L845.6 698.6 L847 698.2 L848.7 697 L847.8 695.1 L846.6 694.2 L845.5 693.5 L844.3 692.9 L843.1 692.4 L841.9 691.9 L840.7 691.6 L839.4 691.2 L838.2 690.9 L836.9 690.6 L835.7 690.4 L834.4 690.1 L833.7 689.8 L833.2 689.2 L832.8 688.5 L832.8 687.7Z" fill="#727272" stroke="#1e1e1e" stroke-width="1.4"/>
<circle cx="782.2" cy="681.2" r="13.8" fill="none" stroke="#1e1e1e" stroke-width="1.4" />
<circle cx="782.2" cy="681.2" r="10" fill="none" stroke="#1e1e1e" stroke-width="1.4" />
<path d="M623 576.3 L624.2 573.6 L625.7 571 L627.2 568.5 L628.9 566.1 L630.8 563.8 L632.7 561.6 L634.8 559.5 L637 557.5 L639.3 555.7 L641.7 554 L644.2 552.4 L646.8 551 L649.5 549.7 L652.2 548.6 L655 547.6 L657.8 546.8 L660.7 546.1 L663.6 545.7 L666.6 545.4 L669.5 545.2 L672.5 545.2 L675.4 545.4 L678.3 545.8 L681.3 546.3 L684.1 547 L687 547.8 L689.7 548.8 L692.4 550 L695.1 551.3 L697.7 552.8 L700.1 554.4 L702.5 556.1 L704.8 558 L707 560 L709 562.2 L710.9 564.4 L712.7 566.7 L714.4 569.2 L715.9 571.7 L717.3 574.3 L717.3 574.3 L717.3 611.5 L712.9 612.2 L691.2 635.2 L676 646 L660 647 L656 651.6 L641.9 629.8 L625.5 602.5 L619.3 602.5 L619.3 596.3 L625.5 596.3Z" fill="#727272" stroke="#1e1e1e" stroke-width="1.2" stroke-linejoin="round"/><path d="M641.5 630 L656 654.2 L661.4 659.4 L681 658.8 L717 656.2 L722.4 651.4 L722.4 636.5" fill="none" stroke="#1e1e1e" stroke-width="1.8"/>
<path d="M783.2 597.8 L786 595.8 L783.1 593.9 L785.8 591.8 L782.9 589.9 L785.6 587.7 L782.6 586 L785.1 583.7 L782.1 582.1 L784.6 579.7 L781.5 578.2 L783.9 575.8 L780.7 574.4 L783 571.8 L779.9 570.6 L782.1 567.9 L778.8 566.8 L781 564.1 L777.7 563 L779.7 560.2 L776.4 559.3 L778.3 556.4 L775 555.6 L776.8 552.7 L773.5 552 L775.2 549 L771.8 548.4 L773.4 545.4 L770 544.9 L771.5 541.9 L768.1 541.5 L769.5 538.4 L766.1 538.1 L767.4 534.9 L763.9 534.8 L765.1 531.6 L761.7 531.6 L762.8 528.4 L759.3 528.5 L760.3 525.2 L756.9 525.4 L757.7 522.1 L754.3 522.5 L755 519.1 L751.6 519.6 L752.2 516.2 L748.8 516.8 L749.3 513.4 L745.9 514.1 L746.3 510.7 L743 511.5 L743.2 508.1 L739.9 509.1 L740 505.6 L736.8 506.7 L736.8 503.3 L733.6 504.5 L733.5 501 L730.3 502.3 L730 498.9 L726.9 500.3 L726.5 496.9 L723.5 498.4 L723 495 L720 496.6 L719.4 493.2 L716.4 494.9 L715.7 491.6 L712.8 493.4 L712 490.1 L709.1 492 L708.2 488.7 L705.4 490.7 L704.3 487.4 L701.6 489.6 L700.5 486.3 L697.8 488.5 L696.6 485.4 L694 487.7 L692.6 484.5 L690.2 486.9 L688.7 483.8 L686.3 486.3 L684.7 483.3 L682.4 485.8 L680.7 482.8 L678.5 485.5 L676.6 482.6 L674.5 485.3 L672.6 482.4 L670.6 485.2 L668.6 482.4 L666.7 485.3 L664.6 482.6 L662.7 485.5 L660.5 482.8 L658.8 485.8 L656.5 483.3 L654.9 486.3 L652.5 483.8 L651 486.9 L648.6 484.5 L647.2 487.7 L644.6 485.4 L643.4 488.5 L640.7 486.3 L639.6 489.6 L636.9 487.4 L635.8 490.7 L633 488.7 L632.1 492 L629.2 490.1 L628.4 493.4 L625.5 491.6 L624.8 494.9 L621.8 493.2 L621.2 496.6 L618.2 495 L617.7 498.4 L614.7 496.9 L614.3 500.3 L611.2 498.9 L610.9 502.3 L607.7 501 L607.6 504.5 L604.4 503.3 L604.4 506.7 L601.2 505.6 L601.3 509.1 L598 508.1 L598.2 511.5 L594.9 510.7 L595.3 514.1 L591.9 513.4 L592.4 516.8 L589 516.2 L589.6 519.6 L586.2 519.1 L586.9 522.5 L583.5 522.1 L584.3 525.4 L580.9 525.2 L581.9 528.5 L578.4 528.4 L579.5 531.6 L576.1 531.6 L577.3 534.8 L573.8 534.9 L575.1 538.1 L571.7 538.4 L573.1 541.5 L569.7 541.9 L571.2 544.9 L567.8 545.4 L569.4 548.4 L566 549 L567.7 552 L564.4 552.7 L566.2 555.6 L562.9 556.4 L564.8 559.3 L561.5 560.2 L563.5 563 L560.2 564.1 L562.4 566.8 L559.1 567.9 L561.3 570.6 L558.2 571.8 L560.5 574.4 L557.3 575.8 L559.7 578.2 L556.6 579.7 L559.1 582.1 L556.1 583.7 L558.6 586 L555.6 587.7 L558.3 589.9 L555.4 591.8 L558.1 593.9 L555.2 595.8 L558 597.8 L555.2 599.8 L558.1 601.7 L555.4 603.8 L558.3 605.7 L555.6 607.9 L558.6 609.6 L556.1 611.9 L559.1 613.5 L556.6 615.9 L559.7 617.4 L557.3 619.8 L560.5 621.2 L558.2 623.8 L561.3 625 L559.1 627.7 L562.4 628.8 L560.2 631.5 L563.5 632.6 L561.5 635.4 L564.8 636.3 L562.9 639.2 L566.2 640 L564.4 642.9 L567.7 643.6 L566 646.6 L569.4 647.2 L567.8 650.2 L571.2 650.7 L569.7 653.7 L573.1 654.1 L571.7 657.2 L575.1 657.5 L573.8 660.7 L577.3 660.8 L576.1 664 L579.5 664 L578.4 667.2 L581.9 667.1 L580.9 670.4 L584.3 670.2 L583.5 673.5 L586.9 673.1 L586.2 676.5 L589.6 676 L589 679.4 L592.4 678.8 L591.9 682.2 L595.3 681.5 L594.9 684.9 L598.2 684.1 L598 687.5 L601.3 686.5 L601.2 690 L604.4 688.9 L604.4 692.3 L607.6 691.1 L607.7 694.6 L610.9 693.3 L611.2 696.7 L614.3 695.3 L614.7 698.7 L617.7 697.2 L618.2 700.6 L621.2 699 L621.8 702.4 L624.8 700.7 L625.5 704 L628.4 702.2 L629.2 705.5 L632.1 703.6 L633 706.9 L635.8 704.9 L636.9 708.2 L639.6 706 L640.7 709.3 L643.4 707.1 L644.6 710.2 L647.2 707.9 L648.6 711.1 L651 708.7 L652.5 711.8 L654.9 709.3 L656.5 712.3 L658.8 709.8 L660.5 712.8 L662.7 710.1 L664.6 713 L666.7 710.3 L668.6 713.2 L670.6 710.4 L672.6 713.2 L674.5 710.3 L676.6 713 L678.5 710.1 L680.7 712.8 L682.4 709.8 L684.7 712.3 L686.3 709.3 L688.7 711.8 L690.2 708.7 L692.6 711.1 L694 707.9 L696.6 710.2 L697.8 707.1 L700.5 709.3 L701.6 706 L704.3 708.2 L705.4 704.9 L708.2 706.9 L709.1 703.6 L712 705.5 L712.8 702.2 L715.7 704 L716.4 700.7 L719.4 702.4 L720 699 L723 700.6 L723.5 697.2 L726.5 698.7 L726.9 695.3 L730 696.7 L730.3 693.3 L733.5 694.6 L733.6 691.1 L736.8 692.3 L736.8 688.9 L740 690 L739.9 686.5 L743.2 687.5 L743 684.1 L746.3 684.9 L745.9 681.5 L749.3 682.2 L748.8 678.8 L752.2 679.4 L751.6 676 L755 676.5 L754.3 673.1 L757.7 673.5 L756.9 670.2 L760.3 670.4 L759.3 667.1 L762.8 667.2 L761.7 664 L765.1 664 L763.9 660.8 L767.4 660.7 L766.1 657.5 L769.5 657.2 L768.1 654.1 L771.5 653.7 L770 650.7 L773.4 650.2 L771.8 647.2 L775.2 646.6 L773.5 643.6 L776.8 642.9 L775 640 L778.3 639.2 L776.4 636.3 L779.7 635.4 L777.7 632.6 L781 631.5 L778.8 628.8 L782.1 627.7 L779.9 625 L783 623.8 L780.7 621.2 L783.9 619.8 L781.5 617.4 L784.6 615.9 L782.1 613.5 L785.1 611.9 L782.6 609.6 L785.6 607.9 L782.9 605.7 L785.8 603.8 L783.1 601.7 L786 599.8Z M745.4 586.6 L745.4 582.6 L745.4 578.6 L745.4 574.7 L745.4 570.8 L745.4 566.9 L745.4 563.2 L745.4 559.5 L745.4 555.8 L745.4 552.2 L745.4 548.8 L745.4 545.4 L745.4 542.1 L743.3 538.9 L740.7 535.8 L738 532.8 L735.1 530 L732.1 527.3 L729.1 524.7 L725.8 522.2 L722.5 519.9 L719.1 517.8 L715.6 515.8 L712.1 513.9 L708.4 512.2 L682.8 591 L682.5 590.4 L682.2 589.9 L681.8 589.4 L681.4 588.9 L681 588.5 L680.6 588 L680.2 587.6 L679.7 587.2 L679.3 586.8 L678.8 586.4 L678.3 586.1 L677.8 585.8 L677.2 585.5 L676.7 585.2Z M690.3 506.3 L686.5 505.6 L682.5 505 L678.6 504.5 L674.7 504.3 L670.7 504.2 L666.8 504.3 L662.8 504.5 L658.9 504.9 L655 505.5 L651.1 506.3 L647.2 507.2 L643.4 508.2 L639.7 509.5 L636 510.8 L632.3 512.4 L628.8 514.1 L625.3 515.9 L621.9 517.9 L618.5 520 L615.3 522.3 L612.1 524.7 L609.1 527.2 L606.2 529.9 L603.4 532.7 L600.7 535.6 L667.5 584.1 L667 584.3 L666.4 584.4 L665.8 584.6 L665.3 584.8 L664.7 585.1Z M589.8 550.5 L587.9 554 L586.1 557.5 L584.5 561.1 L583 564.8 L581.7 568.5 L580.5 572.3 L579.5 576.1 L578.7 580 L578 583.9 L577.5 587.8 L577.2 591.7 L577 595.7 L577 599.7 L577.2 603.6 L577.5 607.5 L578 611.5 L578.7 615.4 L579.5 619.2 L580.5 623.1 L581.6 626.8 L582.9 630.6 L584.4 634.2 L586 637.9 L587.8 641.4 L589.7 644.8 L656.7 596.2 L656.6 596.7 L656.6 597.3 L656.6 597.9 L656.6 598.5 L656.7 599.1Z M600.9 660.2 L603.5 663.1 L606.4 665.9 L609.3 668.5 L612.3 671.1 L615.5 673.5 L618.7 675.7 L622.1 677.8 L625.5 679.8 L629 681.6 L632.6 683.3 L636.2 684.9 L639.9 686.2 L643.7 687.4 L647.5 688.5 L651.3 689.4 L655.2 690.1 L659.1 690.7 L663.1 691.1 L667 691.3 L671 691.4 L674.9 691.3 L678.9 691 L682.8 690.6 L686.7 690 L690.6 689.2 L665.1 610.7 L665.6 610.9 L666.2 611.1 L666.7 611.3 L667.3 611.4 L667.9 611.5Z M708.2 683.5 L711.7 681.9 L715.2 680.1 L718.6 678.1 L722 676.1 L725.2 673.8 L728.3 671.5 L731.4 669 L734.3 666.4 L737.1 663.7 L739.8 660.8 L742.4 657.9 L744.8 654.8 L745.4 651.6 L745.4 648.4 L745.4 645 L745.4 641.6 L745.4 638.1 L745.4 634.5 L745.4 630.9 L745.4 627.2 L745.4 623.4 L745.4 619.7 L745.4 615.8 L745.4 612 L676.3 610.6 L676.8 610.3 L677.3 610.1 L677.8 609.8 L678.3 609.5 L678.8 609.2 L679.2 608.8 L679.7 608.4 L680.1 608.1 L680.5 607.7 L680.9 607.2 L681.3 606.8 L681.7 606.4 L682 605.9 L682.3 605.4 L682.6 604.9Z" fill="#727272" fill-rule="evenodd" stroke="#151515" stroke-width="1.7"/>
<path d="M0 -4 C5 -9.5 11 -10.5 15.5 -9.6 C22.5 -8 25.8 1 25.8 11 C25.8 24 12 42 0 52 C-12 42 -25.8 24 -25.8 11 C-25.8 1 -22.5 -8 -15.5 -9.6 C-11 -10.5 -5 -9.5 0 -4Z" transform="translate(670.6 596.1)" fill="#acacac"/>
<circle cx="670.6" cy="640" r="0.9" fill="#777"/>
<path d="M667.6 596 L668.4 440 L670.9 417 L673.3 440 L674.0 596Z" fill="#1c1c1c"/>
<path d="M667.5 600 L673.8 600 L676.5 635 L664.3 635Z" fill="#1c1c1c"/>
<circle cx="670.6" cy="596.1" r="10.3" fill="#1c1c1c" stroke="none" stroke-width="1.2" />
<path d="M948.8 816.3 L948.9 813.6 L949.1 812.8 L949.6 812.2 L950.2 811.7 L951 811.6 L952.3 811.6 L953.7 811.6 L955 811.6 L956.4 811.5 L957.7 811.4 L959.1 811.2 L960.4 811 L961.8 810.7 L963.1 810.4 L964.5 809.8 L965.8 809.1 L967.2 807.3 L965.7 805.6 L964.3 804.9 L963 804.5 L961.6 804.2 L960.2 804 L958.9 803.9 L957.5 803.8 L956.2 803.8 L954.8 803.8 L953.4 803.9 L952.1 803.9 L950.8 804.1 L950 803.9 L949.3 803.5 L948.8 802.9 L948.6 802.1 L948.3 799.5 L947.8 796.8 L947.9 796 L948.2 795.3 L948.7 794.7 L949.4 794.4 L950.8 794.1 L952.1 793.8 L953.4 793.5 L954.7 793.2 L956 792.8 L957.3 792.4 L958.6 791.9 L959.8 791.3 L961.1 790.7 L962.3 789.9 L963.4 788.9 L964.3 786.8 L962.6 785.4 L961.1 785.1 L959.7 785 L958.3 785 L956.9 785 L955.5 785.2 L954.2 785.4 L952.9 785.7 L951.5 786 L950.2 786.3 L948.9 786.7 L947.6 787.1 L946.9 787.1 L946.1 786.9 L945.5 786.3 L945.1 785.6 L944.2 783.1 L943.3 780.6 L943.1 779.8 L943.3 779 L943.7 778.3 L944.3 777.9 L945.6 777.3 L946.8 776.8 L948 776.2 L949.2 775.6 L950.4 775 L951.6 774.3 L952.7 773.5 L953.9 772.7 L954.9 771.8 L956 770.8 L956.9 769.6 L957.4 767.4 L955.4 766.4 L953.8 766.4 L952.4 766.5 L951 766.8 L949.7 767.2 L948.4 767.6 L947.1 768.1 L945.9 768.7 L944.6 769.2 L943.4 769.8 L942.2 770.5 L941.1 771.1 L940.3 771.3 L939.5 771.2 L938.8 770.8 L938.3 770.2 L936.9 767.9 L935.4 765.7 L935.1 764.9 L935.1 764.1 L935.4 763.4 L935.9 762.8 L937 762 L938.1 761.2 L939.2 760.4 L940.2 759.6 L941.3 758.7 L942.3 757.8 L943.2 756.8 L944.2 755.8 L945 754.7 L945.8 753.5 L946.5 752.1 L946.5 749.8 L944.3 749.3 L942.8 749.6 L941.4 750 L940.1 750.6 L938.9 751.2 L937.7 751.9 L936.6 752.7 L935.5 753.5 L934.4 754.3 L933.4 755.1 L932.3 756 L931.3 756.9 L930.6 757.2 L929.8 757.3 L929 757.1 L928.4 756.6 L926.6 754.6 L924.7 752.7 L924.2 752.1 L924 751.3 L924.1 750.5 L924.5 749.8 L925.4 748.8 L926.4 747.8 L927.2 746.8 L928.1 745.7 L928.9 744.7 L929.7 743.6 L930.5 742.4 L931.1 741.2 L931.8 740 L932.3 738.6 L932.6 737.1 L932.2 734.9 L929.9 734.8 L928.5 735.4 L927.3 736.2 L926.1 737 L925.1 737.9 L924.1 738.8 L923.1 739.8 L922.2 740.8 L921.3 741.8 L920.5 742.8 L919.6 743.9 L918.8 745 L918.2 745.4 L917.4 745.7 L916.6 745.6 L915.9 745.3 L913.7 743.7 L911.5 742.3 L910.9 741.7 L910.5 741 L910.5 740.2 L910.7 739.5 L911.4 738.3 L912.1 737.1 L912.7 735.9 L913.3 734.7 L913.9 733.5 L914.5 732.3 L915 731 L915.4 729.7 L915.7 728.3 L916 726.9 L916 725.4 L915.1 723.3 L912.9 723.7 L911.6 724.6 L910.6 725.5 L909.6 726.6 L908.8 727.7 L908 728.8 L907.2 729.9 L906.5 731.1 L905.9 732.3 L905.3 733.5 L904.7 734.7 L904.1 735.9 L903.6 736.5 L902.9 736.9 L902.1 737 L901.3 736.8 L898.9 735.8 L896.3 734.8 L895.7 734.4 L895.2 733.8 L895 733 L895 732.2 L895.5 730.9 L895.9 729.6 L896.3 728.4 L896.6 727.1 L897 725.7 L897.2 724.4 L897.4 723.1 L897.6 721.7 L897.6 720.3 L897.6 718.8 L897.3 717.3 L896 715.5 L893.9 716.3 L892.8 717.5 L892 718.6 L891.3 719.9 L890.7 721.1 L890.1 722.3 L889.7 723.6 L889.2 724.9 L888.8 726.2 L888.5 727.5 L888.1 728.8 L887.8 730.1 L887.5 730.8 L886.9 731.3 L886.1 731.6 L885.3 731.6 L882.7 731.1 L880 730.6 L879.3 730.4 L878.7 729.9 L878.3 729.2 L878.2 728.4 L878.3 727 L878.5 725.7 L878.6 724.4 L878.7 723 L878.7 721.6 L878.7 720.3 L878.6 718.9 L878.5 717.5 L878.3 716.2 L877.9 714.8 L877.3 713.4 L875.6 711.9 L873.8 713.1 L873 714.4 L872.4 715.7 L872 717.1 L871.6 718.4 L871.4 719.7 L871.2 721.1 L871 722.4 L870.9 723.8 L870.8 725.1 L870.7 726.5 L870.7 727.8 L870.5 728.6 L870 729.2 L869.3 729.7 L868.6 729.8 L865.9 729.8 L863.2 730 L862.4 729.9 L861.7 729.5 L861.2 728.9 L860.9 728.1 L860.8 726.8 L860.7 725.5 L860.5 724.1 L860.3 722.8 L860 721.4 L859.8 720.1 L859.4 718.8 L859 717.5 L858.5 716.2 L857.8 714.9 L856.9 713.6 L855 712.5 L853.4 714.1 L852.9 715.6 L852.6 717 L852.5 718.4 L852.4 719.7 L852.4 721.1 L852.5 722.5 L852.6 723.8 L852.8 725.2 L853 726.5 L853.2 727.8 L853.5 729.2 L853.4 729.9 L853.1 730.7 L852.5 731.2 L851.8 731.5 L849.2 732.1 L846.6 732.8 L845.8 732.9 L845 732.7 L844.4 732.2 L844 731.5 L843.6 730.2 L843.2 728.9 L842.7 727.6 L842.2 726.4 L841.7 725.1 L841.2 723.9 L840.5 722.7 L839.9 721.5 L839.1 720.3 L838.2 719.2 L837.1 718.1 L834.9 717.4 L833.7 719.3 L833.5 720.8 L833.6 722.3 L833.7 723.7 L833.9 725 L834.2 726.4 L834.6 727.7 L835 729 L835.4 730.3 L835.9 731.5 L836.4 732.8 L836.9 734 L837 734.8 L836.9 735.6 L836.4 736.3 L835.8 736.7 L833.3 737.8 L830.9 739 L830.2 739.3 L829.4 739.2 L828.6 738.9 L828.1 738.3 L827.5 737.1 L826.8 735.9 L826.1 734.8 L825.4 733.6 L824.6 732.5 L823.8 731.4 L822.9 730.4 L822 729.3 L821 728.4 L819.9 727.5 L818.6 726.7 L816.3 726.4 L815.6 728.5 L815.7 730.1 L816 731.5 L816.4 732.8 L816.9 734.1 L817.5 735.3 L818.1 736.5 L818.8 737.7 L819.5 738.9 L820.2 740 L821 741.1 L821.7 742.2 L822 743 L822 743.8 L821.7 744.5 L821.2 745.1 L819 746.7 L816.9 748.4 L816.2 748.8 L815.4 748.9 L814.6 748.7 L814 748.2 L813.1 747.2 L812.2 746.2 L811.3 745.2 L810.3 744.3 L809.4 743.3 L808.3 742.4 L807.3 741.6 L806.2 740.8 L805 740 L803.7 739.4 L802.2 738.9 L800 739.1 L799.7 741.3 L800.1 742.8 L800.7 744.1 L801.4 745.3 L802.2 746.4 L803 747.5 L803.9 748.6 L804.8 749.6 L805.7 750.6 L806.6 751.6 L807.6 752.5 L808.6 753.4 L809 754.1 L809.2 754.9 L809 755.7 L808.6 756.4 L806.8 758.4 L805.1 760.5 L804.5 761 L803.8 761.2 L803 761.2 L802.3 760.9 L801.2 760.1 L800.1 759.3 L799 758.5 L797.9 757.8 L796.7 757.1 L795.5 756.4 L794.3 755.8 L793 755.2 L791.7 754.7 L790.3 754.4 L788.8 754.2 L786.7 754.9 L786.8 757.1 L787.6 758.4 L788.4 759.6 L789.4 760.6 L790.3 761.6 L791.4 762.5 L792.4 763.4 L793.5 764.2 L794.6 765 L795.8 765.7 L796.9 766.4 L798 767.1 L798.6 767.7 L798.9 768.4 L798.9 769.2 L798.7 770 L797.4 772.3 L796.1 774.7 L795.7 775.3 L795 775.8 L794.2 775.9 L793.4 775.8 L792.2 775.2 L791 774.6 L789.7 774.1 L788.5 773.6 L787.2 773.2 L785.9 772.7 L784.6 772.4 L783.2 772.1 L781.8 771.9 L780.4 771.8 L778.9 772 L776.9 773.1 L777.5 775.2 L778.5 776.4 L779.6 777.3 L780.7 778.2 L781.9 778.9 L783.1 779.6 L784.3 780.2 L785.5 780.8 L786.8 781.3 L788 781.8 L789.3 782.2 L790.6 782.7 L791.2 783.1 L791.7 783.8 L791.9 784.6 L791.8 785.3 L791 787.9 L790.3 790.5 L790 791.2 L789.4 791.8 L788.6 792.1 L787.9 792.1 L786.5 791.8 L785.2 791.5 L783.9 791.3 L782.6 791 L781.2 790.9 L779.9 790.7 L778.5 790.7 L777.1 790.6 L775.7 790.7 L774.3 791 L772.8 791.4 L771.2 792.9 L772.2 794.9 L773.4 795.8 L774.7 796.5 L776 797.1 L777.2 797.6 L778.6 798 L779.9 798.3 L781.2 798.6 L782.5 798.9 L783.9 799.1 L785.2 799.3 L786.5 799.5 L787.3 799.8 L787.8 800.3 L788.2 801 L788.3 801.8 L788 804.5 L787.9 807.2 L787.7 808 L787.2 808.6 L786.6 809.1 L785.8 809.2 L784.5 809.2 L783.1 809.2 L781.8 809.2 L780.4 809.3 L779.1 809.4 L777.7 809.6 L776.4 809.8 L775 810.1 L773.7 810.4 L772.3 811 L771 811.7 L769.6 813.5 L771.1 815.2 L772.5 815.9 L773.8 816.3 L775.2 816.6 L776.6 816.8 L777.9 816.9 L779.3 817 L780.6 817 L782 817 L783.4 816.9 L784.7 816.9 L786 816.7 L786.8 816.9 L787.5 817.3 L788 817.9 L788.2 818.7 L788.5 821.3 L789 824 L788.9 824.8 L788.6 825.5 L788.1 826.1 L787.4 826.4 L786 826.7 L784.7 827 L783.4 827.3 L782.1 827.6 L780.8 828 L779.5 828.4 L778.2 828.9 L777 829.5 L775.7 830.1 L774.5 830.9 L773.4 831.9 L772.5 834 L774.2 835.4 L775.7 835.7 L777.1 835.8 L778.5 835.8 L779.9 835.8 L781.3 835.6 L782.6 835.4 L783.9 835.1 L785.3 834.8 L786.6 834.5 L787.9 834.1 L789.2 833.7 L789.9 833.7 L790.7 833.9 L791.3 834.5 L791.7 835.2 L792.6 837.7 L793.5 840.2 L793.7 841 L793.5 841.8 L793.1 842.5 L792.5 842.9 L791.2 843.5 L790 844 L788.8 844.6 L787.6 845.2 L786.4 845.8 L785.2 846.5 L784.1 847.3 L782.9 848.1 L781.9 849 L780.8 850 L779.9 851.2 L779.4 853.4 L781.4 854.4 L783 854.4 L784.4 854.3 L785.8 854 L787.1 853.6 L788.4 853.2 L789.7 852.7 L790.9 852.1 L792.2 851.6 L793.4 851 L794.6 850.3 L795.7 849.7 L796.5 849.5 L797.3 849.6 L798 850 L798.5 850.6 L799.9 852.9 L801.4 855.1 L801.7 855.9 L801.7 856.7 L801.4 857.4 L800.9 858 L799.8 858.8 L798.7 859.6 L797.6 860.4 L796.6 861.2 L795.5 862.1 L794.5 863 L793.6 864 L792.6 865 L791.8 866.1 L791 867.3 L790.3 868.7 L790.3 871 L792.5 871.5 L794 871.2 L795.4 870.8 L796.7 870.2 L797.9 869.6 L799.1 868.9 L800.2 868.1 L801.3 867.3 L802.4 866.5 L803.4 865.7 L804.5 864.8 L805.5 863.9 L806.2 863.6 L807 863.5 L807.8 863.7 L808.4 864.2 L810.2 866.2 L812.1 868.1 L812.6 868.7 L812.8 869.5 L812.7 870.3 L812.3 871 L811.4 872 L810.4 873 L809.6 874 L808.7 875.1 L807.9 876.1 L807.1 877.2 L806.3 878.4 L805.7 879.6 L805 880.8 L804.5 882.2 L804.2 883.7 L804.6 885.9 L806.9 886 L808.3 885.4 L809.5 884.6 L810.7 883.8 L811.7 882.9 L812.7 882 L813.7 881 L814.6 880 L815.5 879 L816.3 878 L817.2 876.9 L818 875.8 L818.6 875.4 L819.4 875.1 L820.2 875.2 L820.9 875.5 L823.1 877.1 L825.3 878.5 L825.9 879.1 L826.3 879.8 L826.3 880.6 L826.1 881.3 L825.4 882.5 L824.7 883.7 L824.1 884.9 L823.5 886.1 L822.9 887.3 L822.3 888.5 L821.8 889.8 L821.4 891.1 L821.1 892.5 L820.8 893.9 L820.8 895.4 L821.7 897.5 L823.9 897.1 L825.2 896.2 L826.2 895.3 L827.2 894.2 L828 893.1 L828.8 892 L829.6 890.9 L830.3 889.7 L830.9 888.5 L831.5 887.3 L832.1 886.1 L832.7 884.9 L833.2 884.3 L833.9 883.9 L834.7 883.8 L835.5 884 L837.9 885 L840.5 886 L841.1 886.4 L841.6 887 L841.8 887.8 L841.8 888.6 L841.3 889.9 L840.9 891.2 L840.5 892.4 L840.2 893.7 L839.8 895.1 L839.6 896.4 L839.4 897.7 L839.2 899.1 L839.2 900.5 L839.2 902 L839.5 903.5 L840.8 905.3 L842.9 904.5 L844 903.3 L844.8 902.2 L845.5 900.9 L846.1 899.7 L846.7 898.5 L847.1 897.2 L847.6 895.9 L848 894.6 L848.3 893.3 L848.7 892 L849 890.7 L849.3 890 L849.9 889.5 L850.7 889.2 L851.5 889.2 L854.1 889.7 L856.8 890.2 L857.5 890.4 L858.1 890.9 L858.5 891.6 L858.6 892.4 L858.5 893.8 L858.3 895.1 L858.2 896.4 L858.1 897.8 L858.1 899.2 L858.1 900.5 L858.2 901.9 L858.3 903.3 L858.5 904.6 L858.9 906 L859.5 907.4 L861.2 908.9 L863 907.7 L863.8 906.4 L864.4 905.1 L864.8 903.7 L865.2 902.4 L865.4 901.1 L865.6 899.7 L865.8 898.4 L865.9 897 L866 895.7 L866.1 894.3 L866.1 893 L866.3 892.2 L866.8 891.6 L867.5 891.1 L868.2 891 L870.9 891 L873.6 890.8 L874.4 890.9 L875.1 891.3 L875.6 891.9 L875.9 892.7 L876 894 L876.1 895.3 L876.3 896.7 L876.5 898 L876.8 899.4 L877 900.7 L877.4 902 L877.8 903.3 L878.3 904.6 L879 905.9 L879.9 907.2 L881.8 908.3 L883.4 906.7 L883.9 905.2 L884.2 903.8 L884.3 902.4 L884.4 901.1 L884.4 899.7 L884.3 898.3 L884.2 897 L884 895.6 L883.8 894.3 L883.6 893 L883.3 891.6 L883.4 890.9 L883.7 890.1 L884.3 889.6 L885 889.3 L887.6 888.7 L890.2 888 L891 887.9 L891.8 888.1 L892.4 888.6 L892.8 889.3 L893.2 890.6 L893.6 891.9 L894.1 893.2 L894.6 894.4 L895.1 895.7 L895.6 896.9 L896.3 898.1 L896.9 899.3 L897.7 900.5 L898.6 901.6 L899.7 902.7 L901.9 903.4 L903.1 901.5 L903.3 900 L903.2 898.5 L903.1 897.1 L902.9 895.8 L902.6 894.4 L902.2 893.1 L901.8 891.8 L901.4 890.5 L900.9 889.3 L900.4 888 L899.9 886.8 L899.8 886 L899.9 885.2 L900.4 884.5 L901 884.1 L903.5 883 L905.9 881.8 L906.6 881.5 L907.4 881.6 L908.2 881.9 L908.7 882.5 L909.3 883.7 L910 884.9 L910.7 886 L911.4 887.2 L912.2 888.3 L913 889.4 L913.9 890.4 L914.8 891.5 L915.8 892.4 L916.9 893.3 L918.2 894.1 L920.5 894.4 L921.2 892.3 L921.1 890.7 L920.8 889.3 L920.4 888 L919.9 886.7 L919.3 885.5 L918.7 884.3 L918 883.1 L917.3 881.9 L916.6 880.8 L915.8 879.7 L915.1 878.6 L914.8 877.8 L914.8 877 L915.1 876.3 L915.6 875.7 L917.8 874.1 L919.9 872.4 L920.6 872 L921.4 871.9 L922.2 872.1 L922.8 872.6 L923.7 873.6 L924.6 874.6 L925.5 875.6 L926.5 876.5 L927.4 877.5 L928.5 878.4 L929.5 879.2 L930.6 880 L931.8 880.8 L933.1 881.4 L934.6 881.9 L936.8 881.7 L937.1 879.5 L936.7 878 L936.1 876.7 L935.4 875.5 L934.6 874.4 L933.8 873.3 L932.9 872.2 L932 871.2 L931.1 870.2 L930.2 869.2 L929.2 868.3 L928.2 867.4 L927.8 866.7 L927.6 865.9 L927.8 865.1 L928.2 864.4 L930 862.4 L931.7 860.3 L932.3 859.8 L933 859.6 L933.8 859.6 L934.5 859.9 L935.6 860.7 L936.7 861.5 L937.8 862.3 L938.9 863 L940.1 863.7 L941.3 864.4 L942.5 865 L943.8 865.6 L945.1 866.1 L946.5 866.4 L948 866.6 L950.1 865.9 L950 863.7 L949.2 862.4 L948.4 861.2 L947.4 860.2 L946.5 859.2 L945.4 858.3 L944.4 857.4 L943.3 856.6 L942.2 855.8 L941 855.1 L939.9 854.4 L938.8 853.7 L938.2 853.1 L937.9 852.4 L937.9 851.6 L938.1 850.8 L939.4 848.5 L940.7 846.1 L941.1 845.5 L941.8 845 L942.6 844.9 L943.4 845 L944.6 845.6 L945.8 846.2 L947.1 846.7 L948.3 847.2 L949.6 847.6 L950.9 848.1 L952.2 848.4 L953.6 848.7 L955 848.9 L956.4 849 L957.9 848.8 L959.9 847.7 L959.3 845.6 L958.3 844.4 L957.2 843.5 L956.1 842.6 L954.9 841.9 L953.7 841.2 L952.5 840.6 L951.3 840 L950 839.5 L948.8 839 L947.5 838.6 L946.2 838.1 L945.6 837.7 L945.1 837 L944.9 836.2 L945 835.5 L945.8 832.9 L946.5 830.3 L946.8 829.6 L947.4 829 L948.2 828.7 L948.9 828.7 L950.3 829 L951.6 829.3 L952.9 829.5 L954.2 829.8 L955.6 829.9 L956.9 830.1 L958.3 830.1 L959.7 830.2 L961.1 830.1 L962.5 829.8 L964 829.4 L965.6 827.9 L964.6 825.9 L963.4 825 L962.1 824.3 L960.8 823.7 L959.6 823.2 L958.2 822.8 L956.9 822.5 L955.6 822.2 L954.3 821.9 L952.9 821.7 L951.6 821.5 L950.3 821.3 L949.5 821 L949 820.5 L948.6 819.8 L948.5 819Z" fill="#727272" stroke="#1e1e1e" stroke-width="1.4"/>
<path d="M0 -4 C5 -9.5 11 -10.5 15.5 -9.6 C22.5 -8 25.8 1 25.8 11 C25.8 24 12 42 0 52 C-12 42 -25.8 24 -25.8 11 C-25.8 1 -22.5 -8 -15.5 -9.6 C-11 -10.5 -5 -9.5 0 -4Z" transform="translate(868.4 810.4)" fill="#acacac"/>
<circle cx="868.4" cy="855.6" r="0.9" fill="#777"/>
<path d="M866.3 810 L866.6 722 L868.4 701.5 L870.2 722 L870.5 810Z" fill="#1c1c1c"/>
<circle cx="868.4" cy="810.4" r="6" fill="#1c1c1c" stroke="none" stroke-width="1.2" />
<g stroke="#222" stroke-width="1.4" stroke-linecap="round" stroke-dasharray="1.6 1.2"><path d="M647.6 453.8 L647.6 451.6" /><path d="M644.3 454.2 L643.8 452.1" /><path d="M641.2 455.4 L640.2 453.4" /><path d="M638.4 457.3 L637 455.6" /><path d="M636.2 459.8 L634.4 458.5" /><path d="M634.7 462.7 L632.6 461.9" /><path d="M633.9 465.9 L631.7 465.7" /><path d="M633.9 469.3 L631.7 469.5" /><path d="M634.7 472.5 L632.6 473.3" /><path d="M636.2 475.4 L634.4 476.7" /><path d="M638.4 477.9 L637 479.6" /><path d="M641.2 479.8 L640.2 481.8" /><path d="M644.3 481 L643.8 483.1" /><path d="M647.6 481.4 L647.6 483.6" /><path d="M650.9 481 L651.4 483.1" /><path d="M654 479.8 L655 481.8" /><path d="M656.8 477.9 L658.2 479.6" /><path d="M659 475.4 L660.8 476.7" /><path d="M660.5 472.5 L662.6 473.3" /><path d="M661.3 469.3 L663.5 469.5" /><path d="M661.3 465.9 L663.5 465.7" /><path d="M660.5 462.7 L662.6 461.9" /><path d="M659 459.8 L660.8 458.5" /><path d="M656.8 457.3 L658.2 455.6" /><path d="M654 455.4 L655 453.4" /><path d="M650.9 454.2 L651.4 452.1" /></g>
<circle cx="647.6" cy="462" r="11.6" fill="#fff"/>
<path d="M646.4 450.5 L646 447.1 M643.7 451.1 L642.5 447.9 M641.2 452.3 L639.3 449.5 M639 454.2 L636.5 451.9 M637.4 456.4 L634.4 454.8 M636.4 459 L633.1 458.2 M636 461.8 L632.6 461.8 M636.3 464.6 L633 465.4 M637.2 467.2 L634.2 468.8 M638.8 469.6 L636.2 471.8 M640.9 471.4 L638.9 474.2 M643.3 472.8 L642.1 475.9 M646 473.5 L645.6 476.9 M648.8 473.5 L649.2 476.9 M651.5 472.9 L652.7 476.1 M654 471.7 L655.9 474.5 M656.2 469.8 L658.7 472.1 M657.8 467.6 L660.8 469.2 M658.8 465 L662.1 465.8 M659.2 462.2 L662.6 462.2 M658.9 459.4 L662.2 458.6 M658 456.8 L661 455.2 M656.4 454.4 L659 452.2 M654.3 452.6 L656.3 449.8 M651.9 451.2 L653.1 448.1 M649.2 450.5 L649.6 447.1" stroke="#111" stroke-width="2.5" stroke-linecap="round"/>
<circle cx="647.6" cy="462" r="11" fill="#ec8e7e" stroke="#222" stroke-width="1.1" />
<path d="M640 459 L643 456 M645 455 L648 457 M650 455 L653 458 M655 459 L657 462" stroke="#333" stroke-width="1.1"/>
<circle cx="647.6" cy="462" r="1.6" fill="#222" stroke="none" stroke-width="1.2" />
<path d="M646.5 470 L648.5 467" stroke="#333" stroke-width="1"/>
<path d="M625 455 V466 M625 469 V478" stroke="#222" stroke-width="1.8"/>
<path d="M625 451.5 L622.3 458 L627.7 458Z M625 481 L622.3 474.5 L627.7 474.5Z" fill="#222"/>
<path d="M321.5 824.7 L420.8 824.7 L420.5 832 Q419.6 839.7 412.9 839.7 L397 839.7 Q391 839.7 391 845 L391 862 Q390.5 868.6 384 868.6 L314.8 868.6 L314.8 852.5 A13.5 9 0 0 0 287.7 852.5 L287.7 868.4 Q270 866 270.3 848 Q271 829.1 286.7 829.1 L321 829.1Z" fill="#727272" stroke="#1e1e1e" stroke-width="1.4" stroke-linejoin="round"/>
<circle cx="351" cy="847.3" r="18.8" fill="none" stroke="#1e1e1e" stroke-width="1.6" />
<path d="M348.8 829 V866 M353 829 V866" stroke="#1e1e1e" stroke-width="1.4"/>
<path d="M321.5 824.8 L418 824.8 C455 825.2 480 828 499.3 832.5 L836.6 909.6 L848.7 901.9 L861.7 912.9 L875.1 915.3" fill="none" stroke="#111" stroke-width="2.6" stroke-linejoin="round"/>
<g stroke="#474747" stroke-width="1.6" fill="none"><path d="M393 177 V229"/><path d="M485.7 219.7 L505.7 252"/><path d="M624.6 177 V223 L633 252"/><path d="M750 226 V272"/><path d="M871.6 222.3 V338"/><path d="M954.5 350 H1024.4"/><path d="M770.5 525.6 H837 L902.5 567.2"/><path d="M857.6 667 H896.5"/><path d="M975.6 806 H1030.6"/><path d="M606.7 863.2 L640 925.5"/></g><path d="M475.7 523.6 L542.4 463.3 H608" stroke="#d91d31" stroke-width="2.3" fill="none"/>
<text transform="translate(358.1 161.6) scale(0.973 1)" font-size="26.90" fill="#1c1c1c">201/1</text>
<text transform="translate(462.3 212.3) scale(1.039 1)" font-size="27.18" fill="#1c1c1c">210</text>
<text transform="translate(601 162.2) scale(1.031 1)" font-size="27.18" fill="#1c1c1c">224</text>
<text transform="translate(726.6 212.3) scale(1.032 1)" font-size="27.18" fill="#1c1c1c">705</text>
<text transform="translate(848.4 212.3) scale(1.015 1)" font-size="27.32" fill="#1c1c1c">710</text>
<text transform="translate(1034.6 356.3) scale(0.960 1)" font-size="26.90" fill="#1c1c1c">721</text>
<text transform="translate(912.8 578.2) scale(1.018 1)" font-size="27.18" fill="#1c1c1c">8000</text>
<text transform="translate(908.3 675) scale(1.007 1)" font-size="27.46" fill="#1c1c1c">8062</text>
<text transform="translate(1043.9 812.4) scale(1.007 1)" font-size="27.46" fill="#1c1c1c">8020</text>
<text transform="translate(614.5 959.4) scale(1.024 1)" font-size="27.46" fill="#1c1c1c">8270</text>
<text transform="translate(361 564.6) scale(0.927 1)" font-size="55.21" fill="#d91d31">8086</text>
</svg></body></html>
